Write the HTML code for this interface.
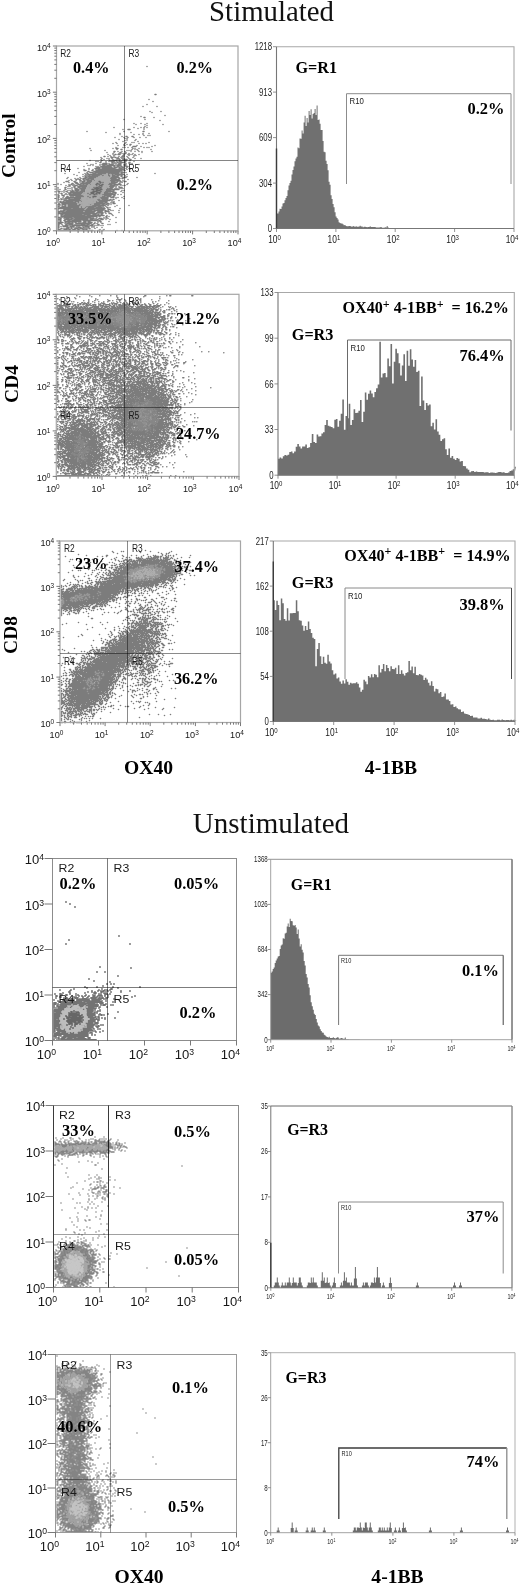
<!DOCTYPE html>
<html lang="en"><head><meta charset="utf-8"><title>OX40 / 4-1BB expression</title>
<style>html,body{margin:0;padding:0;background:#fff}svg{display:block}text{white-space:pre}</style></head><body>
<svg width="520" height="1586" viewBox="0 0 520 1586">
<rect width="520" height="1586" fill="#fff"/>
<defs><filter id="soft" x="-5%" y="-5%" width="110%" height="110%"><feGaussianBlur stdDeviation="0.38"/></filter></defs>
<text x="271.5" y="21.2" font-family='"Liberation Serif", "Times New Roman", serif' font-size="28.8" font-weight="normal" text-anchor="middle" fill="#111">Stimulated</text>
<text x="271" y="833.2" font-family='"Liberation Serif", "Times New Roman", serif' font-size="29" font-weight="normal" text-anchor="middle" fill="#111">Unstimulated</text>
<text transform="translate(14.8 145.6) rotate(-90)" font-family='"Liberation Serif", "Times New Roman", serif' font-size="19.5" font-weight="bold" text-anchor="middle" fill="#000">Control</text>
<text transform="translate(17.5 384) rotate(-90)" font-family='"Liberation Serif", "Times New Roman", serif' font-size="19.5" font-weight="bold" text-anchor="middle" fill="#000">CD4</text>
<text transform="translate(16.5 635) rotate(-90)" font-family='"Liberation Serif", "Times New Roman", serif' font-size="19.5" font-weight="bold" text-anchor="middle" fill="#000">CD8</text>
<text x="148.5" y="773.5" font-family='"Liberation Serif", "Times New Roman", serif' font-size="19.6" font-weight="bold" text-anchor="middle" fill="#000">OX40</text>
<text x="391" y="773.5" font-family='"Liberation Serif", "Times New Roman", serif' font-size="19.6" font-weight="bold" text-anchor="middle" fill="#000">4-1BB</text>
<text x="139" y="1583" font-family='"Liberation Serif", "Times New Roman", serif' font-size="19.6" font-weight="bold" text-anchor="middle" fill="#000">OX40</text>
<text x="397.5" y="1583" font-family='"Liberation Serif", "Times New Roman", serif' font-size="19.6" font-weight="bold" text-anchor="middle" fill="#000">4-1BB</text>
<g transform="translate(56.5 46)" filter="url(#soft)">
<path d="M90 20h0M98 48h1M92 53h0M96 55h0M90 58h0M86 60h0M100 60h0M93 65h0M104 65h0M95 66h0M108 69h0M84 70h0M87 71h1M97 71h0M67 73h0M88 73h0M103 74h0M77 77h0M84 77h0M90 77h0M79 78h0M88 78h0M106 78h0M90 79h0M88 80h0M57 81h0M77 81h0M84 81h0M87 81h0M90 81h0M81 82h0M87 82h0M66 83h0M71 83h2M87 83h0M30 85h0M67 85h0M86 85h1M112 85h0M49 86h0M74 86h0M63 87h0M86 87h0M92 87h0M63 88h0M77 88h0M82 88h0M86 88h0M87 89h0M91 89h0M93 89h0M65 90h0M69 90h1M75 90h1M58 91h0M67 91h0M71 91h0M77 91h0M83 91h0M89 91h0M68 92h0M70 92h0M62 93h0M70 93h0M79 93h0M68 94h0M70 94h0M78 94h0M66 95h0M81 95h0M59 96h0M69 96h0M75 96h0M77 96h0M92 96h0M56 97h0M60 97h0M68 97h0M82 97h0M86 97h0M89 97h0M67 98h0M70 98h0M73 98h1M61 99h0M67 99h1M73 99h0M80 99h0M98 99h0M76 100h3M84 100h0M95 100h0M59 101h0M66 101h0M68 101h0M71 101h0M75 101h0M87 101h0M90 101h0M92 101h0M33 102h0M56 102h0M59 102h2M76 102h0M78 102h0M82 102h0M60 103h0M64 103h1M75 103h0M78 103h0M80 103h0M94 103h0M34 104h0M48 104h0M70 104h0M72 104h0M74 104h0M81 104h0M57 105h1M61 105h0M65 105h0M68 105h0M74 105h0M78 105h0M82 105h0M85 105h0M95 105h0M50 106h0M57 106h0M63 106h1M69 106h0M85 106h0M56 107h0M62 107h0M64 107h0M66 107h0M68 107h1M72 107h0M76 107h0M51 108h0M56 108h0M58 108h1M61 108h2M67 108h0M71 108h0M73 108h0M75 108h0M78 108h0M82 108h0M53 109h0M57 109h0M66 109h1M72 109h0M77 109h0M79 109h0M47 110h1M51 110h0M54 110h0M57 110h0M62 110h0M65 110h2M70 110h0M77 110h0M44 111h0M54 111h2M58 111h1M61 111h0M64 111h0M66 111h0M71 111h0M76 111h0M45 112h0M50 112h0M52 112h0M55 112h0M60 112h2M65 112h0M67 112h0M72 112h0M78 112h0M84 112h0M44 113h0M47 113h0M52 113h0M56 113h0M60 113h0M62 113h1M66 113h4M73 113h1M33 114h0M45 114h0M53 114h0M55 114h0M57 114h3M62 114h1M65 114h0M67 114h0M69 114h0M73 114h0M39 115h0M41 115h0M44 115h0M49 115h0M52 115h0M54 115h3M60 115h0M62 115h2M68 115h1M77 115h0M43 116h1M49 116h0M55 116h1M58 116h0M60 116h1M63 116h5M72 116h1M30 117h0M39 117h0M46 117h4M52 117h0M55 117h0M57 117h0M59 117h0M62 117h2M69 117h0M72 117h1M75 117h0M34 118h0M36 118h0M43 118h0M45 118h5M52 118h4M59 118h0M61 118h3M67 118h2M82 118h0M31 119h0M33 119h0M36 119h0M43 119h0M46 119h2M50 119h8M60 119h4M67 119h2M27 120h0M39 120h0M41 120h0M44 120h10M57 120h1M60 120h2M64 120h1M67 120h0M69 120h2M40 121h3M45 121h10M57 121h3M62 121h1M65 121h2M70 121h0M21 122h0M32 122h0M38 122h5M45 122h13M62 122h3M67 122h0M69 122h0M72 122h1M9 123h0M27 123h0M32 123h0M36 123h0M39 123h0M41 123h26M70 123h0M73 123h0M27 124h2M35 124h1M39 124h26M67 124h1M31 125h1M37 125h26M65 125h0M73 125h0M77 125h0M22 126h0M30 126h0M33 126h3M38 126h24M64 126h3M69 126h0M8 127h0M28 127h0M30 127h1M36 127h3M41 127h8M51 127h11M64 127h1M98 127h0M17 128h0M26 128h0M29 128h0M31 128h14M47 128h0M49 128h0M51 128h1M55 128h1M58 128h9M70 128h0M20 129h0M28 129h0M30 129h0M32 129h1M35 129h8M45 129h2M51 129h2M55 129h3M60 129h2M64 129h1M68 129h0M26 130h0M28 130h1M31 130h10M45 130h0M49 130h0M52 130h1M55 130h6M64 130h1M68 130h0M70 130h0M11 131h0M23 131h0M28 131h2M32 131h7M41 131h0M54 131h8M66 131h3M80 131h0M10 132h0M18 132h0M21 132h0M24 132h0M26 132h3M31 132h6M39 132h0M53 132h6M62 132h1M65 132h1M14 133h0M19 133h1M22 133h1M26 133h1M29 133h3M34 133h3M54 133h8M71 133h0M12 134h0M15 134h0M19 134h0M23 134h1M27 134h1M30 134h5M37 134h1M53 134h10M66 134h0M9 135h2M17 135h1M23 135h0M25 135h3M30 135h5M54 135h4M60 135h1M63 135h1M66 135h0M68 135h1M7 136h0M12 136h0M18 136h2M23 136h0M25 136h2M29 136h5M52 136h0M54 136h6M63 136h0M65 136h0M1 137h0M15 137h1M19 137h2M24 137h9M47 137h0M52 137h6M62 137h1M71 137h0M1 138h0M4 138h0M12 138h0M14 138h1M17 138h0M21 138h3M26 138h1M29 138h2M33 138h1M51 138h4M57 138h7M70 138h0M9 139h0M12 139h1M16 139h0M18 139h2M23 139h7M53 139h5M60 139h0M64 139h0M66 139h0M68 139h0M11 140h0M13 140h0M17 140h1M21 140h9M32 140h0M49 140h0M52 140h5M59 140h0M62 140h0M1 141h0M8 141h1M15 141h0M17 141h1M21 141h2M25 141h4M33 141h0M50 141h0M53 141h3M59 141h0M62 141h3M1 142h0M8 142h0M11 142h0M13 142h0M15 142h0M18 142h2M23 142h6M32 142h0M45 142h0M50 142h5M58 142h0M60 142h0M62 142h0M64 142h0M66 142h0M1 143h0M3 143h0M8 143h1M15 143h0M18 143h4M24 143h4M49 143h13M1 144h0M7 144h0M11 144h0M13 144h0M15 144h1M18 144h4M24 144h4M49 144h5M56 144h1M65 144h0M67 144h0M1 145h2M5 145h0M7 145h0M9 145h1M14 145h3M19 145h2M23 145h5M48 145h9M64 145h0M2 146h0M7 146h0M11 146h0M13 146h13M28 146h0M47 146h4M53 146h0M56 146h3M66 146h0M2 147h0M4 147h1M9 147h0M12 147h2M16 147h9M27 147h0M47 147h9M58 147h1M1 148h0M5 148h0M8 148h0M10 148h0M12 148h12M27 148h0M45 148h13M61 148h0M64 148h0M1 149h1M5 149h2M13 149h13M45 149h0M47 149h7M57 149h1M1 150h1M7 150h0M10 150h1M14 150h0M16 150h0M19 150h8M42 150h0M45 150h3M50 150h4M56 150h1M67 150h0M1 151h1M6 151h0M9 151h15M26 151h0M43 151h8M54 151h3M59 151h0M61 151h0M65 151h0M1 152h0M4 152h0M6 152h0M8 152h5M15 152h0M17 152h7M29 152h0M31 152h0M42 152h0M44 152h7M59 152h0M67 152h0M1 153h1M4 153h1M7 153h0M9 153h0M12 153h11M25 153h0M27 153h0M30 153h0M40 153h3M45 153h6M53 153h1M56 153h1M1 154h0M7 154h17M37 154h0M41 154h12M55 154h0M62 154h0M1 155h0M3 155h1M6 155h1M9 155h7M18 155h4M24 155h1M36 155h0M39 155h1M42 155h8M55 155h0M57 155h0M1 156h0M3 156h16M21 156h1M36 156h0M39 156h7M48 156h2M54 156h0M56 156h1M2 157h0M5 157h15M22 157h0M25 157h0M32 157h0M35 157h0M37 157h11M50 157h2M54 157h0M56 157h2M1 158h2M5 158h4M11 158h9M22 158h2M26 158h0M31 158h0M33 158h1M37 158h6M45 158h2M49 158h1M52 158h0M54 158h0M1 159h0M3 159h0M5 159h0M8 159h1M11 159h12M33 159h0M35 159h13M51 159h0M60 159h0M72 159h0M1 160h1M5 160h4M11 160h11M24 160h1M29 160h10M41 160h3M46 160h0M49 160h0M58 160h0M1 161h0M3 161h19M24 161h1M28 161h1M31 161h6M39 161h6M47 161h0M50 161h1M53 161h0M1 162h13M16 162h12M30 162h18M51 162h0M63 162h0M1 163h0M7 163h20M29 163h9M40 163h7M51 163h2M1 164h0M4 164h0M6 164h2M10 164h25M37 164h9M48 164h1M51 164h0M54 164h0M56 164h0M62 164h0M1 165h6M9 165h17M28 165h10M41 165h4M48 165h4M1 166h2M5 166h32M40 166h6M48 166h0M52 166h0M62 166h0M1 167h39M42 167h0M44 167h2M49 167h0M52 167h2M1 168h0M4 168h2M8 168h17M27 168h6M36 168h3M41 168h1M44 168h1M55 168h0M1 169h0M4 169h1M7 169h21M30 169h17M50 169h0M56 169h0M1 170h0M4 170h36M42 170h1M49 170h1M52 170h0M1 171h2M5 171h0M7 171h8M17 171h17M36 171h0M40 171h0M47 171h0M49 171h1M59 171h0M1 172h0M3 172h1M7 172h0M9 172h3M14 172h2M18 172h13M33 172h4M39 172h0M42 172h3M47 172h0M49 172h0M51 172h0M1 173h3M8 173h7M17 173h14M33 173h3M38 173h0M40 173h1M44 173h2M49 173h0M53 173h0M1 174h0M3 174h1M7 174h1M11 174h2M15 174h9M26 174h14M42 174h1M1 175h0M3 175h1M8 175h16M27 175h2M31 175h2M41 175h0M43 175h1M52 175h0M1 176h5M8 176h1M11 176h2M15 176h1M18 176h1M22 176h0M24 176h0M26 176h3M31 176h4M38 176h0M41 176h0M44 176h0M59 176h0M1 177h3M8 177h0M10 177h6M19 177h15M37 177h1M40 177h0M45 177h1M1 178h1M5 178h0M9 178h1M12 178h4M18 178h0M20 178h0M22 178h0M24 178h4M30 178h2M35 178h1M41 178h1M51 178h0M53 178h0M1 179h1M6 179h0M8 179h3M13 179h0M15 179h16M33 179h3M38 179h0M40 179h0M42 179h0M44 179h0M46 179h0M1 180h1M4 180h0M6 180h5M13 180h4M20 180h0M22 180h0M26 180h0M28 180h4M35 180h0M37 180h0M1 181h1M10 181h2M14 181h1M17 181h0M19 181h0M21 181h3M26 181h1M29 181h0M31 181h1M35 181h0M37 181h0M40 181h0M45 181h0M1 182h0M4 182h1M7 182h0M9 182h3M14 182h1M18 182h3M23 182h3M28 182h0M30 182h0M32 182h1M38 182h0M1 183h2M7 183h3M12 183h1M16 183h2M21 183h1M26 183h1M29 183h1M43 183h0M47 183h0M1 184h35M41 184h1M45 184h1M60 184h0M65 184h0" stroke="#7b7b7b" stroke-width="1.5" stroke-linecap="round" fill="none" transform="translate(0.5 0.5)"/>
<path d="M50 127h0M46 128h0M48 128h0M50 128h0M53 128h1M44 129h0M48 129h2M54 129h0M42 130h2M46 130h2M50 130h1M54 130h0M40 131h0M42 131h11M38 132h0M40 132h12M38 133h15M36 134h0M39 134h13M36 135h5M44 135h9M35 136h7M45 136h0M47 136h4M53 136h0M34 137h5M42 137h0M44 137h2M48 137h3M32 138h0M35 138h3M41 138h0M43 138h1M47 138h3M31 139h8M41 139h1M46 139h6M31 140h0M33 140h8M43 140h1M46 140h2M50 140h1M30 141h2M34 141h2M38 141h0M42 141h0M45 141h4M51 141h1M30 142h1M33 142h4M43 142h0M46 142h3M29 143h5M38 143h0M42 143h0M46 143h2M29 144h7M38 144h0M44 144h4M29 145h6M41 145h2M45 145h2M27 146h0M29 146h4M38 146h1M44 146h2M26 147h0M28 147h2M32 147h1M38 147h0M41 147h0M44 147h2M25 148h1M28 148h4M34 148h2M39 148h0M41 148h3M27 149h17M46 149h0M28 150h2M32 150h3M40 150h1M43 150h1M25 151h0M27 151h5M34 151h1M37 151h5M25 152h3M30 152h0M32 152h9M43 152h0M24 153h0M26 153h0M28 153h1M31 153h8M44 153h0M25 154h11M38 154h2M23 155h0M26 155h9M37 155h1M41 155h0M20 156h0M23 156h12M37 156h1M21 157h0M23 157h1M26 157h5M33 157h1M36 157h0M21 158h0M25 158h0M27 158h3M32 158h0M35 158h1M24 159h8M34 159h0M23 160h0M26 160h2M23 161h0M26 161h1M30 161h0M29 162h0M28 163h0M27 165h0" stroke="#ababab" stroke-width="1.5" stroke-linecap="round" fill="none" transform="translate(0.5 0.5)"/>
<path d="M42 135h1M43 136h1M46 136h0M40 137h1M43 137h0M39 138h1M42 138h0M45 138h1M40 139h0M43 139h2M42 140h0M45 140h0M37 141h0M39 141h2M43 141h1M38 142h4M44 142h0M35 143h2M39 143h2M43 143h2M37 144h0M39 144h4M36 145h4M44 145h0M34 146h3M40 146h3M31 147h0M34 147h3M39 147h1M42 147h1M33 148h0M37 148h1M40 148h0M31 150h0M36 150h3M33 151h0M36 151h0" stroke="#6a6a6a" stroke-width="1.5" stroke-linecap="round" fill="none" transform="translate(0.5 0.5)"/>
</g>
<rect x="56.5" y="46" width="181.5" height="184.8" fill="none" stroke="#a6a6a6" stroke-width="1.2"/>
<path d="M56.5 160.5H238" stroke="#858585" stroke-width="1.0" fill="none" style="mix-blend-mode:multiply"/>
<path d="M124.5 46V230.8" stroke="#858585" stroke-width="1.0" fill="none" style="mix-blend-mode:multiply"/>
<path d="M56.5 230.8v3.6M56.5 230.8h-3.6M70.2 230.8v2.2M56.5 216.9h-2.2M78.1 230.8v2.2M56.5 208.8h-2.2M83.8 230.8v2.2M56.5 203h-2.2M88.2 230.8v2.2M56.5 198.5h-2.2M91.8 230.8v2.2M56.5 194.8h-2.2M94.8 230.8v2.2M56.5 191.8h-2.2M97.5 230.8v2.2M56.5 189.1h-2.2M99.8 230.8v2.2M56.5 186.7h-2.2M101.9 230.8v3.6M56.5 184.6h-3.6M115.5 230.8v2.2M56.5 170.7h-2.2M123.5 230.8v2.2M56.5 162.6h-2.2M129.2 230.8v2.2M56.5 156.8h-2.2M133.6 230.8v2.2M56.5 152.3h-2.2M137.2 230.8v2.2M56.5 148.6h-2.2M140.2 230.8v2.2M56.5 145.6h-2.2M142.9 230.8v2.2M56.5 142.9h-2.2M145.2 230.8v2.2M56.5 140.5h-2.2M147.2 230.8v3.6M56.5 138.4h-3.6M160.9 230.8v2.2M56.5 124.5h-2.2M168.9 230.8v2.2M56.5 116.4h-2.2M174.6 230.8v2.2M56.5 110.6h-2.2M179 230.8v2.2M56.5 106.1h-2.2M182.6 230.8v2.2M56.5 102.4h-2.2M185.6 230.8v2.2M56.5 99.4h-2.2M188.2 230.8v2.2M56.5 96.7h-2.2M190.5 230.8v2.2M56.5 94.3h-2.2M192.6 230.8v3.6M56.5 92.2h-3.6M206.3 230.8v2.2M56.5 78.3h-2.2M214.3 230.8v2.2M56.5 70.2h-2.2M219.9 230.8v2.2M56.5 64.4h-2.2M224.3 230.8v2.2M56.5 59.9h-2.2M227.9 230.8v2.2M56.5 56.2h-2.2M231 230.8v2.2M56.5 53.2h-2.2M233.6 230.8v2.2M56.5 50.5h-2.2M235.9 230.8v2.2M56.5 48.1h-2.2M238 230.8v3.6M56.5 46h-3.6" stroke="#6a6a6a" stroke-width="0.9" fill="none"/>
<text transform="translate(53 246.1) scale(0.93 1)" font-family='"Liberation Sans", Arial, sans-serif' font-size="9.8" text-anchor="middle" fill="#161616">10<tspan font-size="7" dy="-2.9">0</tspan></text>
<text transform="translate(50.7 235.3) scale(0.93 1)" font-family='"Liberation Sans", Arial, sans-serif' font-size="9.8" text-anchor="end" fill="#161616">10<tspan font-size="7" dy="-2.9">0</tspan></text>
<text transform="translate(98.4 246.1) scale(0.93 1)" font-family='"Liberation Sans", Arial, sans-serif' font-size="9.8" text-anchor="middle" fill="#161616">10<tspan font-size="7" dy="-2.9">1</tspan></text>
<text transform="translate(50.7 189.1) scale(0.93 1)" font-family='"Liberation Sans", Arial, sans-serif' font-size="9.8" text-anchor="end" fill="#161616">10<tspan font-size="7" dy="-2.9">1</tspan></text>
<text transform="translate(143.8 246.1) scale(0.93 1)" font-family='"Liberation Sans", Arial, sans-serif' font-size="9.8" text-anchor="middle" fill="#161616">10<tspan font-size="7" dy="-2.9">2</tspan></text>
<text transform="translate(50.7 142.9) scale(0.93 1)" font-family='"Liberation Sans", Arial, sans-serif' font-size="9.8" text-anchor="end" fill="#161616">10<tspan font-size="7" dy="-2.9">2</tspan></text>
<text transform="translate(189.1 246.1) scale(0.93 1)" font-family='"Liberation Sans", Arial, sans-serif' font-size="9.8" text-anchor="middle" fill="#161616">10<tspan font-size="7" dy="-2.9">3</tspan></text>
<text transform="translate(50.7 96.7) scale(0.93 1)" font-family='"Liberation Sans", Arial, sans-serif' font-size="9.8" text-anchor="end" fill="#161616">10<tspan font-size="7" dy="-2.9">3</tspan></text>
<text transform="translate(234.5 246.1) scale(0.93 1)" font-family='"Liberation Sans", Arial, sans-serif' font-size="9.8" text-anchor="middle" fill="#161616">10<tspan font-size="7" dy="-2.9">4</tspan></text>
<text transform="translate(50.7 50.5) scale(0.93 1)" font-family='"Liberation Sans", Arial, sans-serif' font-size="9.8" text-anchor="end" fill="#161616">10<tspan font-size="7" dy="-2.9">4</tspan></text>
<text transform="translate(60.3 57.3) scale(0.8 1)" font-family='"Liberation Sans", Arial, sans-serif' font-size="10.5" font-weight="normal" text-anchor="start" fill="#1a1a1a">R2</text>
<text transform="translate(128.5 57.3) scale(0.8 1)" font-family='"Liberation Sans", Arial, sans-serif' font-size="10.5" font-weight="normal" text-anchor="start" fill="#1a1a1a">R3</text>
<text transform="translate(60.3 172) scale(0.8 1)" font-family='"Liberation Sans", Arial, sans-serif' font-size="10.5" font-weight="normal" text-anchor="start" fill="#1a1a1a">R4</text>
<text transform="translate(128.5 172) scale(0.8 1)" font-family='"Liberation Sans", Arial, sans-serif' font-size="10.5" font-weight="normal" text-anchor="start" fill="#1a1a1a">R5</text>
<text x="73" y="73.3" font-family='"Liberation Serif", "Times New Roman", serif' font-size="16.2" font-weight="bold" text-anchor="start" fill="#000">0.4%</text>
<text x="176.5" y="73.3" font-family='"Liberation Serif", "Times New Roman", serif' font-size="16.2" font-weight="bold" text-anchor="start" fill="#000">0.2%</text>
<text x="176.5" y="189.5" font-family='"Liberation Serif", "Times New Roman", serif' font-size="16.2" font-weight="bold" text-anchor="start" fill="#000">0.2%</text>
<g transform="translate(56.3 294.3)" filter="url(#soft)">
<path d="M20 1h0M33 1h0M43 1h0M54 1h0M60 1h0M88 1h1M110 1h0M113 1h1M135 1h1M10 2h0M23 2h0M35 2h0M60 2h0M87 2h0M103 2h0M18 3h0M61 3h0M74 3h0M1 4h0M19 4h0M39 4h0M61 4h0M65 4h0M84 4h0M103 4h0M3 5h0M32 5h0M39 5h0M41 5h0M51 5h0M60 5h0M62 5h2M68 5h0M79 5h0M83 5h1M95 5h0M9 6h0M13 6h0M27 6h0M32 6h0M38 6h0M52 6h1M56 6h0M63 6h0M69 6h0M76 6h1M84 6h0M102 6h0M112 6h0M6 7h0M10 7h0M15 7h0M17 7h0M32 7h0M36 7h0M42 7h0M47 7h0M51 7h0M60 7h0M63 7h0M69 7h0M75 7h1M79 7h0M84 7h0M96 7h0M99 7h0M7 8h1M21 8h0M25 8h1M28 8h0M31 8h1M38 8h0M45 8h0M47 8h0M55 8h0M57 8h0M61 8h0M64 8h0M67 8h0M70 8h0M77 8h1M81 8h0M84 8h0M96 8h0M110 8h0M1 9h0M9 9h2M13 9h1M16 9h0M23 9h1M27 9h3M32 9h0M34 9h0M42 9h0M44 9h0M46 9h2M53 9h0M55 9h1M58 9h2M66 9h2M70 9h1M73 9h0M76 9h0M78 9h0M80 9h0M82 9h0M88 9h0M92 9h0M97 9h0M101 9h0M112 9h0M3 10h0M7 10h0M10 10h0M12 10h1M16 10h0M18 10h1M21 10h1M24 10h0M26 10h1M30 10h1M33 10h0M36 10h3M42 10h2M47 10h0M49 10h4M56 10h0M58 10h0M60 10h0M62 10h2M66 10h6M77 10h0M80 10h0M83 10h0M85 10h1M88 10h1M93 10h1M100 10h0M104 10h0M108 10h0M1 11h10M17 11h2M21 11h1M29 11h3M34 11h1M37 11h0M39 11h0M42 11h0M44 11h3M49 11h0M53 11h1M57 11h1M60 11h0M62 11h8M72 11h1M77 11h0M81 11h0M84 11h1M89 11h1M93 11h1M97 11h2M101 11h2M1 12h0M3 12h2M9 12h1M12 12h1M15 12h1M19 12h1M22 12h0M24 12h1M27 12h1M30 12h0M36 12h6M44 12h0M46 12h0M48 12h4M55 12h3M60 12h1M63 12h5M70 12h1M73 12h3M79 12h0M81 12h7M90 12h8M100 12h2M106 12h0M112 12h0M114 12h0M119 12h0M1 13h0M3 13h3M9 13h0M11 13h0M15 13h1M18 13h3M23 13h3M28 13h1M31 13h0M33 13h3M38 13h4M45 13h1M48 13h2M53 13h0M55 13h4M61 13h11M75 13h1M80 13h3M85 13h6M93 13h0M96 13h1M99 13h1M104 13h0M113 13h0M116 13h0M1 14h6M9 14h0M11 14h9M22 14h2M26 14h8M37 14h8M47 14h1M51 14h1M54 14h21M77 14h11M90 14h2M94 14h1M97 14h1M102 14h0M115 14h0M117 14h0M1 15h2M5 15h10M17 15h0M20 15h0M22 15h5M29 15h11M42 15h11M55 15h1M58 15h4M64 15h0M68 15h5M75 15h1M78 15h8M88 15h2M93 15h0M95 15h2M99 15h2M104 15h0M110 15h0M112 15h1M117 15h0M120 15h0M1 16h2M5 16h9M16 16h10M28 16h13M43 16h17M62 16h0M65 16h1M70 16h4M76 16h16M94 16h2M99 16h2M104 16h0M107 16h1M118 16h0M1 17h0M3 17h0M5 17h1M9 17h1M12 17h15M30 17h4M36 17h5M43 17h3M48 17h1M51 17h11M70 17h4M76 17h0M78 17h1M81 17h10M93 17h1M96 17h1M99 17h0M103 17h0M106 17h0M108 17h0M115 17h0M120 17h0M1 18h10M13 18h18M33 18h19M54 18h2M59 18h0M61 18h0M67 18h0M69 18h1M72 18h5M81 18h0M83 18h1M86 18h0M88 18h8M98 18h5M107 18h1M1 19h5M8 19h7M17 19h5M24 19h0M27 19h2M31 19h13M46 19h1M49 19h6M58 19h0M60 19h0M71 19h0M73 19h0M75 19h1M78 19h1M82 19h0M84 19h12M98 19h1M101 19h1M104 19h0M112 19h1M115 19h1M118 19h0M128 19h0M1 20h3M6 20h1M10 20h2M17 20h0M19 20h0M21 20h5M28 20h1M31 20h3M37 20h2M41 20h4M48 20h2M52 20h2M56 20h0M59 20h0M75 20h0M78 20h1M82 20h0M84 20h2M89 20h4M95 20h2M99 20h5M111 20h0M1 21h4M9 21h1M17 21h0M19 21h0M24 21h0M26 21h0M28 21h0M30 21h3M35 21h2M39 21h0M41 21h0M43 21h2M47 21h1M50 21h1M54 21h0M57 21h0M75 21h0M77 21h0M80 21h0M83 21h0M87 21h2M91 21h5M98 21h3M103 21h0M107 21h1M111 21h1M1 22h0M3 22h0M12 22h0M17 22h0M19 22h1M26 22h0M28 22h0M30 22h0M32 22h2M36 22h3M43 22h0M45 22h0M48 22h0M50 22h0M53 22h0M56 22h0M66 22h0M71 22h0M74 22h0M77 22h0M79 22h0M82 22h0M87 22h1M90 22h11M104 22h4M111 22h0M115 22h0M1 23h0M5 23h4M14 23h2M24 23h0M27 23h0M29 23h1M32 23h0M34 23h1M37 23h1M40 23h0M43 23h0M45 23h1M49 23h0M51 23h1M54 23h0M56 23h0M59 23h0M62 23h0M81 23h0M90 23h6M99 23h4M105 23h3M114 23h1M119 23h0M1 24h0M3 24h0M7 24h0M12 24h1M15 24h1M19 24h0M26 24h0M31 24h1M34 24h4M43 24h0M45 24h1M51 24h1M75 24h0M77 24h1M84 24h0M88 24h0M90 24h9M102 24h0M105 24h1M108 24h1M111 24h0M114 24h0M133 24h0M1 25h0M4 25h0M8 25h0M11 25h0M26 25h4M34 25h0M36 25h1M39 25h1M45 25h1M49 25h0M51 25h0M80 25h0M82 25h0M90 25h10M103 25h5M121 25h0M2 26h0M4 26h0M8 26h1M13 26h0M20 26h0M25 26h1M31 26h0M33 26h5M43 26h0M48 26h0M56 26h0M84 26h0M86 26h0M89 26h16M107 26h0M112 26h0M114 26h0M116 26h0M120 26h0M129 26h0M3 27h1M6 27h1M10 27h1M13 27h0M15 27h1M19 27h0M21 27h0M25 27h1M29 27h0M31 27h0M34 27h5M41 27h2M45 27h0M51 27h1M56 27h0M79 27h1M88 27h2M92 27h1M95 27h10M107 27h0M109 27h0M111 27h0M120 27h0M1 28h2M6 28h3M11 28h0M13 28h1M16 28h2M22 28h1M25 28h0M28 28h2M32 28h0M35 28h6M45 28h1M48 28h0M50 28h0M52 28h0M77 28h0M80 28h3M88 28h3M93 28h3M98 28h3M103 28h0M107 28h1M110 28h1M121 28h0M129 28h0M1 29h2M5 29h2M9 29h2M14 29h0M16 29h2M26 29h14M46 29h3M52 29h1M55 29h1M63 29h0M72 29h2M76 29h0M79 29h3M84 29h16M102 29h1M108 29h1M115 29h0M120 29h0M1 30h4M7 30h13M22 30h0M24 30h1M27 30h3M32 30h8M42 30h5M49 30h2M53 30h1M56 30h0M74 30h2M78 30h4M84 30h1M88 30h2M92 30h8M102 30h0M104 30h0M106 30h1M111 30h0M116 30h0M118 30h0M126 30h0M1 31h1M4 31h1M8 31h5M15 31h6M23 31h5M31 31h9M42 31h2M46 31h4M52 31h7M61 31h0M65 31h0M74 31h1M78 31h0M80 31h5M87 31h2M91 31h4M98 31h5M106 31h0M108 31h0M1 32h14M17 32h2M21 32h9M32 32h25M60 32h2M64 32h0M67 32h0M69 32h0M75 32h7M85 32h11M98 32h1M102 32h1M107 32h0M109 32h0M114 32h0M116 32h1M1 33h4M7 33h9M18 33h3M23 33h0M25 33h1M28 33h34M65 33h2M69 33h0M74 33h7M83 33h9M94 33h1M97 33h2M101 33h2M106 33h0M109 33h1M120 33h0M1 34h0M3 34h11M16 34h2M21 34h5M28 34h2M32 34h8M42 34h7M51 34h36M90 34h5M98 34h0M100 34h0M105 34h0M109 34h0M1 35h0M3 35h4M9 35h1M12 35h1M15 35h2M19 35h5M26 35h5M34 35h0M38 35h4M45 35h5M52 35h0M54 35h5M61 35h9M73 35h11M86 35h10M98 35h0M100 35h0M106 35h0M109 35h1M113 35h0M1 36h0M4 36h0M6 36h1M9 36h1M12 36h6M20 36h12M35 36h3M40 36h0M42 36h3M47 36h1M51 36h5M58 36h0M60 36h1M63 36h1M66 36h12M80 36h1M83 36h2M87 36h0M89 36h4M95 36h0M97 36h1M100 36h2M105 36h0M113 36h0M2 37h0M5 37h4M11 37h6M19 37h0M22 37h0M24 37h0M26 37h5M34 37h0M36 37h1M39 37h3M44 37h1M48 37h7M59 37h0M61 37h6M69 37h4M75 37h6M83 37h1M86 37h2M90 37h0M92 37h3M97 37h0M101 37h0M105 37h0M108 37h0M1 38h0M4 38h1M8 38h0M10 38h0M12 38h1M15 38h3M20 38h3M27 38h2M31 38h0M33 38h5M40 38h3M45 38h5M54 38h0M57 38h7M66 38h5M73 38h0M75 38h5M82 38h3M87 38h0M91 38h1M94 38h0M97 38h0M99 38h1M102 38h2M109 38h1M119 38h0M2 39h0M8 39h1M13 39h0M16 39h0M20 39h1M23 39h0M25 39h0M27 39h0M32 39h0M35 39h0M38 39h1M41 39h0M43 39h0M47 39h0M49 39h0M52 39h4M58 39h1M62 39h1M65 39h0M67 39h13M82 39h5M90 39h3M99 39h1M102 39h0M104 39h2M110 39h0M114 39h0M122 39h0M2 40h0M4 40h0M6 40h0M8 40h5M18 40h0M20 40h1M23 40h0M25 40h0M27 40h1M31 40h0M33 40h2M37 40h0M41 40h1M44 40h0M46 40h6M54 40h4M61 40h0M64 40h3M69 40h6M77 40h0M79 40h1M85 40h0M87 40h4M93 40h0M103 40h1M107 40h1M113 40h0M119 40h0M3 41h0M8 41h0M11 41h2M15 41h0M21 41h2M30 41h0M33 41h2M42 41h0M44 41h0M48 41h0M53 41h2M58 41h1M63 41h2M69 41h0M71 41h0M73 41h0M76 41h1M79 41h0M81 41h0M88 41h2M95 41h1M122 41h0M1 42h0M4 42h0M6 42h0M11 42h0M14 42h0M23 42h2M31 42h0M34 42h0M36 42h0M39 42h0M45 42h1M50 42h0M52 42h0M54 42h0M56 42h0M58 42h0M62 42h2M67 42h1M72 42h4M78 42h1M82 42h0M89 42h0M96 42h0M107 42h0M1 43h0M7 43h0M13 43h0M17 43h0M21 43h1M27 43h1M30 43h0M33 43h0M35 43h3M40 43h1M43 43h5M50 43h0M52 43h0M54 43h0M57 43h0M59 43h0M64 43h4M70 43h0M74 43h0M76 43h0M78 43h0M80 43h0M83 43h0M89 43h0M93 43h0M98 43h0M100 43h0M105 43h0M113 43h0M117 43h0M1 44h0M15 44h3M22 44h2M27 44h0M31 44h1M35 44h0M40 44h3M47 44h0M50 44h0M52 44h0M56 44h0M59 44h0M62 44h0M64 44h3M73 44h0M78 44h0M84 44h0M91 44h0M93 44h0M95 44h0M97 44h1M100 44h0M103 44h0M108 44h0M113 44h0M1 45h1M5 45h1M14 45h0M16 45h0M23 45h0M33 45h1M50 45h1M59 45h1M62 45h1M66 45h0M68 45h0M70 45h0M75 45h1M78 45h1M81 45h0M83 45h0M86 45h0M93 45h0M97 45h0M99 45h0M105 45h0M108 45h0M115 45h0M126 45h0M2 46h0M5 46h0M7 46h0M9 46h0M15 46h0M18 46h0M25 46h0M27 46h0M31 46h0M34 46h2M39 46h1M48 46h0M51 46h1M57 46h2M61 46h0M66 46h1M70 46h0M72 46h2M79 46h0M84 46h0M86 46h1M94 46h1M97 46h0M103 46h0M109 46h0M5 47h1M13 47h0M15 47h1M19 47h0M22 47h1M26 47h0M29 47h0M31 47h0M34 47h0M38 47h0M42 47h3M47 47h0M49 47h1M53 47h0M55 47h0M59 47h1M62 47h0M64 47h1M67 47h0M69 47h0M72 47h1M81 47h1M84 47h0M86 47h0M88 47h1M92 47h0M94 47h1M97 47h0M100 47h1M112 47h1M116 47h0M124 47h0M1 48h1M11 48h0M17 48h0M19 48h2M25 48h0M28 48h0M30 48h1M36 48h0M38 48h0M43 48h0M46 48h1M51 48h1M59 48h1M63 48h0M69 48h1M72 48h0M74 48h0M76 48h0M81 48h0M84 48h0M91 48h1M96 48h1M107 48h0M113 48h0M120 48h0M139 48h0M5 49h1M9 49h3M16 49h0M20 49h0M22 49h0M24 49h0M27 49h4M34 49h3M40 49h2M44 49h4M51 49h0M55 49h4M63 49h0M65 49h1M68 49h1M73 49h0M76 49h0M81 49h1M84 49h0M87 49h1M90 49h0M98 49h0M100 49h1M103 49h0M105 49h0M107 49h1M114 49h0M14 50h1M26 50h2M31 50h0M36 50h0M38 50h0M43 50h1M47 50h0M49 50h1M56 50h0M58 50h1M61 50h0M64 50h0M66 50h0M69 50h0M73 50h1M80 50h0M82 50h0M89 50h1M98 50h0M100 50h0M126 50h0M6 51h0M14 51h1M23 51h7M32 51h0M34 51h1M39 51h0M42 51h3M47 51h0M50 51h0M52 51h0M56 51h0M58 51h2M63 51h1M68 51h0M71 51h2M75 51h0M77 51h0M80 51h2M84 51h0M87 51h0M91 51h2M98 51h0M100 51h1M103 51h1M106 51h0M9 52h0M11 52h0M14 52h0M16 52h0M22 52h0M24 52h1M27 52h1M31 52h0M38 52h1M48 52h3M54 52h0M57 52h0M59 52h0M61 52h0M64 52h3M71 52h0M73 52h4M81 52h1M85 52h0M88 52h0M95 52h0M98 52h0M103 52h1M112 52h0M123 52h0M143 52h0M1 53h0M9 53h1M14 53h1M17 53h0M21 53h0M24 53h1M30 53h0M36 53h1M39 53h2M43 53h0M47 53h0M51 53h1M56 53h0M59 53h2M66 53h0M68 53h0M72 53h3M77 53h0M79 53h0M81 53h1M88 53h0M91 53h1M98 53h0M102 53h0M107 53h0M109 53h0M115 53h0M123 53h0M6 54h0M8 54h0M10 54h2M14 54h0M20 54h1M27 54h0M30 54h4M37 54h0M42 54h3M47 54h0M49 54h0M51 54h1M55 54h0M57 54h1M61 54h0M65 54h0M67 54h0M70 54h0M72 54h2M77 54h1M83 54h0M85 54h0M87 54h0M89 54h0M92 54h2M3 55h0M8 55h0M11 55h2M17 55h3M23 55h0M27 55h0M31 55h0M33 55h1M40 55h1M44 55h2M53 55h0M55 55h0M57 55h2M61 55h0M63 55h0M67 55h0M69 55h0M74 55h0M78 55h1M81 55h0M90 55h0M95 55h0M99 55h0M102 55h1M120 55h0M1 56h0M7 56h0M14 56h0M20 56h0M25 56h0M29 56h1M32 56h0M35 56h1M38 56h0M41 56h1M46 56h2M50 56h0M53 56h0M58 56h0M60 56h0M64 56h0M66 56h0M70 56h0M73 56h0M79 56h1M82 56h1M90 56h0M92 56h0M99 56h0M101 56h0M116 56h0M121 56h0M1 57h0M16 57h0M26 57h4M32 57h0M34 57h0M38 57h0M40 57h4M46 57h1M49 57h0M51 57h0M53 57h0M57 57h2M61 57h1M64 57h1M67 57h0M73 57h1M77 57h1M81 57h0M84 57h0M88 57h0M90 57h0M95 57h0M97 57h1M101 57h0M114 57h0M123 57h0M145 57h0M152 57h0M1 58h0M6 58h1M9 58h2M16 58h0M19 58h0M22 58h1M25 58h0M31 58h3M36 58h1M39 58h0M42 58h0M44 58h0M46 58h1M49 58h1M52 58h2M56 58h1M59 58h1M62 58h1M66 58h0M68 58h0M74 58h0M76 58h0M80 58h0M82 58h0M84 58h0M90 58h1M96 58h0M98 58h0M101 58h0M104 58h0M106 58h0M115 58h1M122 58h0M126 58h0M167 58h0M7 59h0M10 59h1M13 59h0M17 59h1M21 59h3M26 59h2M33 59h0M36 59h1M39 59h3M44 59h0M46 59h1M49 59h1M54 59h1M60 59h1M63 59h0M66 59h0M68 59h3M74 59h0M83 59h0M86 59h1M92 59h0M98 59h1M101 59h0M106 59h0M3 60h0M10 60h0M13 60h0M15 60h3M21 60h0M23 60h0M34 60h0M36 60h0M38 60h0M41 60h0M47 60h0M49 60h0M52 60h0M55 60h1M58 60h3M63 60h0M65 60h0M67 60h1M70 60h2M74 60h1M78 60h1M82 60h0M88 60h0M90 60h0M96 60h0M99 60h1M102 60h1M105 60h0M110 60h0M122 60h0M125 60h0M6 61h1M13 61h0M19 61h0M27 61h0M38 61h2M44 61h1M49 61h2M53 61h0M55 61h0M57 61h1M60 61h2M65 61h1M68 61h0M74 61h0M80 61h0M83 61h0M85 61h0M91 61h2M98 61h0M104 61h0M107 61h0M112 61h0M117 61h1M1 62h0M5 62h0M7 62h0M9 62h0M15 62h2M24 62h3M29 62h1M32 62h3M37 62h0M40 62h0M42 62h0M47 62h0M50 62h1M54 62h0M56 62h1M59 62h0M62 62h0M64 62h0M67 62h0M69 62h1M72 62h1M76 62h0M79 62h0M81 62h1M85 62h0M87 62h0M89 62h1M92 62h0M94 62h0M96 62h0M101 62h0M2 63h1M5 63h0M7 63h0M16 63h0M22 63h0M25 63h1M28 63h1M31 63h0M33 63h2M37 63h5M46 63h4M54 63h1M60 63h0M62 63h1M72 63h0M74 63h0M76 63h0M78 63h0M81 63h0M85 63h2M92 63h0M94 63h0M97 63h1M101 63h0M105 63h4M111 63h0M118 63h0M1 64h0M5 64h0M8 64h0M11 64h0M15 64h0M17 64h0M19 64h0M21 64h0M23 64h0M27 64h0M32 64h0M34 64h0M36 64h0M39 64h2M43 64h2M47 64h1M50 64h0M54 64h1M59 64h0M62 64h2M66 64h3M71 64h1M76 64h0M82 64h1M91 64h0M98 64h0M100 64h0M106 64h0M120 64h0M6 65h0M9 65h0M17 65h0M19 65h0M21 65h2M28 65h0M32 65h0M34 65h0M37 65h0M39 65h1M43 65h0M47 65h0M49 65h0M52 65h0M54 65h1M57 65h1M62 65h0M64 65h0M66 65h0M69 65h0M73 65h1M76 65h1M79 65h0M83 65h0M85 65h0M91 65h1M102 65h0M107 65h0M109 65h1M122 65h0M136 65h0M1 66h0M7 66h0M10 66h0M14 66h1M17 66h1M20 66h2M24 66h1M30 66h1M34 66h0M36 66h4M42 66h1M49 66h2M53 66h1M57 66h2M61 66h0M64 66h0M69 66h1M72 66h2M76 66h0M78 66h2M83 66h0M87 66h2M91 66h0M94 66h0M99 66h0M102 66h0M109 66h0M111 66h0M117 66h0M119 66h0M7 67h0M12 67h1M15 67h0M23 67h2M27 67h1M30 67h1M33 67h1M36 67h0M38 67h0M41 67h1M44 67h0M47 67h1M50 67h1M53 67h1M56 67h1M59 67h2M63 67h1M66 67h0M68 67h0M70 67h0M72 67h2M78 67h1M81 67h1M85 67h3M90 67h1M94 67h1M98 67h0M102 67h0M109 67h0M114 67h0M129 67h0M1 68h0M5 68h0M7 68h0M11 68h0M16 68h0M18 68h0M21 68h0M23 68h0M25 68h0M27 68h0M29 68h2M34 68h0M36 68h0M38 68h0M41 68h1M45 68h0M47 68h1M50 68h0M52 68h1M59 68h1M63 68h0M65 68h3M71 68h0M74 68h0M78 68h1M83 68h0M86 68h1M94 68h0M99 68h0M101 68h0M106 68h2M110 68h0M114 68h0M120 68h0M122 68h0M127 68h1M1 69h0M6 69h1M15 69h0M20 69h0M25 69h1M28 69h0M30 69h1M33 69h0M35 69h0M39 69h0M41 69h0M46 69h1M50 69h2M55 69h0M57 69h0M60 69h0M62 69h0M65 69h0M68 69h6M79 69h0M82 69h1M85 69h3M91 69h0M94 69h2M99 69h1M102 69h1M109 69h0M111 69h0M118 69h0M127 69h0M1 70h0M7 70h0M15 70h0M18 70h0M22 70h2M26 70h1M32 70h0M35 70h3M45 70h0M47 70h1M53 70h0M55 70h0M57 70h0M59 70h4M66 70h4M73 70h1M78 70h1M81 70h1M85 70h0M89 70h2M95 70h1M99 70h1M104 70h0M107 70h0M110 70h0M115 70h1M4 71h0M6 71h0M8 71h1M13 71h0M16 71h0M18 71h5M26 71h7M35 71h1M39 71h1M42 71h0M45 71h1M50 71h3M56 71h1M59 71h1M62 71h1M67 71h0M69 71h1M72 71h0M74 71h2M80 71h0M84 71h0M87 71h0M89 71h0M95 71h0M100 71h3M108 71h1M119 71h2M138 71h0M1 72h0M4 72h2M9 72h1M12 72h0M17 72h0M21 72h0M24 72h0M27 72h0M29 72h0M31 72h0M34 72h0M36 72h0M40 72h1M45 72h0M47 72h0M51 72h0M56 72h2M60 72h0M62 72h0M66 72h0M68 72h7M77 72h2M81 72h0M83 72h3M92 72h0M94 72h0M96 72h0M102 72h0M118 72h0M121 72h0M1 73h0M7 73h0M23 73h1M26 73h0M28 73h1M33 73h2M38 73h1M41 73h2M45 73h1M48 73h1M51 73h0M55 73h0M57 73h1M63 73h1M66 73h0M70 73h0M72 73h0M75 73h5M82 73h0M85 73h0M89 73h2M95 73h1M100 73h0M102 73h0M104 73h1M108 73h1M117 73h0M1 74h0M3 74h0M7 74h0M12 74h3M18 74h0M24 74h0M26 74h0M28 74h0M31 74h2M37 74h4M47 74h0M51 74h1M55 74h2M62 74h4M69 74h0M71 74h2M76 74h5M83 74h0M85 74h1M88 74h1M91 74h0M95 74h0M98 74h1M102 74h0M104 74h0M106 74h0M109 74h0M5 75h1M11 75h2M15 75h0M19 75h2M23 75h0M25 75h0M28 75h0M30 75h0M33 75h0M38 75h1M41 75h1M44 75h0M46 75h0M48 75h0M50 75h1M54 75h2M59 75h1M62 75h1M65 75h1M69 75h0M75 75h2M79 75h2M84 75h4M91 75h1M96 75h2M105 75h0M107 75h1M1 76h1M9 76h0M14 76h1M17 76h0M19 76h0M22 76h0M25 76h0M32 76h0M34 76h2M39 76h2M43 76h1M47 76h0M50 76h1M53 76h0M55 76h0M57 76h2M62 76h0M64 76h0M66 76h1M70 76h1M74 76h3M80 76h2M86 76h0M88 76h0M92 76h1M96 76h0M104 76h0M112 76h0M120 76h0M124 76h0M6 77h0M8 77h3M14 77h0M16 77h0M24 77h0M26 77h1M30 77h0M34 77h0M36 77h2M42 77h6M52 77h3M57 77h0M59 77h7M70 77h4M78 77h1M82 77h3M87 77h2M96 77h0M98 77h0M100 77h1M107 77h0M116 77h0M127 77h0M1 78h0M12 78h1M15 78h0M20 78h0M22 78h1M29 78h0M33 78h4M39 78h0M41 78h0M43 78h0M47 78h0M49 78h0M53 78h0M56 78h0M58 78h0M60 78h0M62 78h0M67 78h1M71 78h0M76 78h2M82 78h2M87 78h1M90 78h2M96 78h3M101 78h3M111 78h1M137 78h0M1 79h0M4 79h0M7 79h0M11 79h1M14 79h0M16 79h0M23 79h2M31 79h2M38 79h0M42 79h0M44 79h3M49 79h2M54 79h2M59 79h3M64 79h0M66 79h2M70 79h0M73 79h0M75 79h0M77 79h0M83 79h2M87 79h1M90 79h0M93 79h1M96 79h0M100 79h3M106 79h1M109 79h0M116 79h0M5 80h0M7 80h0M11 80h0M16 80h2M20 80h0M23 80h1M29 80h1M34 80h0M36 80h0M38 80h0M40 80h7M49 80h11M64 80h0M68 80h1M72 80h4M79 80h1M82 80h1M87 80h1M90 80h0M93 80h0M96 80h0M98 80h1M101 80h0M104 80h0M116 80h0M12 81h0M14 81h3M23 81h0M27 81h0M31 81h1M35 81h0M38 81h1M41 81h0M44 81h2M49 81h6M57 81h1M60 81h2M65 81h0M67 81h2M72 81h0M74 81h1M78 81h2M82 81h0M84 81h4M91 81h2M95 81h3M103 81h6M112 81h0M115 81h0M1 82h0M8 82h1M11 82h1M21 82h0M25 82h1M29 82h0M31 82h3M36 82h0M38 82h1M41 82h0M43 82h1M46 82h0M50 82h1M54 82h2M59 82h1M63 82h1M67 82h0M69 82h0M72 82h0M75 82h0M77 82h0M79 82h0M81 82h0M83 82h10M97 82h0M99 82h0M101 82h0M105 82h0M110 82h0M117 82h0M132 82h0M6 83h0M10 83h5M17 83h0M19 83h2M23 83h0M25 83h0M27 83h0M31 83h0M34 83h0M37 83h0M39 83h0M44 83h10M57 83h4M64 83h0M66 83h0M69 83h4M75 83h2M80 83h2M84 83h0M91 83h0M94 83h3M102 83h4M117 83h0M126 83h1M1 84h0M11 84h2M17 84h0M22 84h0M24 84h0M31 84h0M33 84h0M36 84h0M39 84h0M43 84h0M47 84h3M52 84h0M56 84h0M59 84h2M63 84h1M66 84h1M70 84h1M74 84h1M77 84h1M81 84h3M86 84h1M89 84h1M93 84h2M97 84h0M99 84h4M105 84h4M138 84h0M1 85h0M5 85h1M9 85h0M19 85h0M22 85h0M25 85h1M30 85h2M36 85h2M40 85h1M44 85h0M46 85h2M52 85h0M54 85h1M58 85h2M62 85h0M64 85h2M69 85h0M71 85h3M76 85h0M78 85h0M80 85h0M82 85h0M85 85h3M90 85h0M92 85h0M94 85h1M97 85h0M99 85h0M102 85h0M108 85h0M110 85h0M113 85h1M119 85h0M132 85h0M6 86h0M10 86h0M12 86h1M17 86h0M21 86h1M25 86h1M29 86h3M36 86h3M42 86h1M46 86h0M48 86h13M63 86h1M66 86h1M74 86h0M77 86h1M81 86h1M84 86h0M86 86h4M92 86h0M94 86h1M97 86h0M99 86h1M103 86h0M105 86h0M108 86h0M111 86h1M116 86h0M132 86h0M1 87h0M5 87h0M9 87h1M15 87h0M17 87h0M24 87h1M27 87h0M30 87h0M32 87h0M36 87h4M45 87h0M47 87h1M53 87h1M58 87h0M60 87h3M66 87h1M69 87h0M71 87h4M77 87h0M79 87h11M92 87h5M99 87h6M107 87h0M110 87h0M116 87h1M1 88h0M10 88h0M12 88h0M16 88h0M20 88h0M25 88h0M28 88h0M33 88h0M37 88h0M39 88h0M41 88h0M43 88h0M46 88h0M49 88h0M51 88h2M55 88h2M60 88h1M63 88h2M67 88h1M71 88h2M76 88h2M80 88h5M87 88h1M90 88h1M94 88h3M99 88h2M103 88h0M105 88h0M108 88h0M116 88h0M126 88h0M135 88h0M1 89h0M12 89h0M14 89h0M18 89h0M22 89h1M26 89h0M28 89h0M32 89h0M37 89h0M41 89h1M47 89h1M50 89h5M57 89h0M60 89h0M64 89h0M67 89h1M70 89h1M73 89h0M75 89h1M80 89h9M91 89h0M95 89h1M98 89h0M100 89h2M106 89h0M108 89h0M114 89h0M123 89h0M138 89h0M1 90h1M6 90h0M10 90h0M16 90h0M18 90h0M20 90h2M24 90h0M28 90h0M32 90h0M37 90h2M43 90h0M46 90h1M52 90h6M60 90h0M62 90h0M64 90h2M68 90h0M70 90h1M73 90h9M84 90h0M86 90h7M95 90h1M98 90h0M101 90h1M106 90h1M109 90h1M112 90h0M116 90h0M127 90h0M1 91h0M6 91h0M11 91h0M15 91h0M18 91h0M20 91h0M22 91h1M34 91h0M38 91h0M40 91h1M43 91h2M47 91h0M49 91h1M52 91h0M54 91h0M56 91h7M65 91h11M78 91h1M82 91h2M86 91h6M94 91h4M100 91h2M105 91h3M112 91h1M115 91h0M1 92h0M9 92h2M20 92h0M22 92h3M29 92h0M31 92h0M33 92h0M36 92h0M38 92h0M45 92h0M52 92h0M55 92h0M57 92h1M60 92h5M69 92h3M74 92h7M83 92h2M87 92h2M91 92h6M99 92h1M102 92h0M104 92h2M108 92h1M116 92h0M121 92h0M123 92h0M128 92h0M139 92h0M1 93h0M3 93h1M13 93h0M19 93h1M24 93h0M34 93h0M36 93h0M40 93h0M42 93h0M44 93h0M47 93h0M49 93h0M52 93h3M57 93h0M60 93h0M62 93h1M65 93h0M68 93h1M72 93h0M74 93h5M81 93h2M85 93h2M89 93h6M98 93h1M101 93h3M108 93h1M126 93h0M154 93h0M3 94h0M7 94h0M9 94h0M16 94h0M18 94h2M22 94h0M29 94h0M32 94h0M34 94h0M36 94h3M42 94h0M44 94h1M49 94h4M55 94h1M58 94h2M63 94h6M71 94h1M74 94h7M83 94h16M101 94h2M105 94h4M112 94h1M135 94h0M1 95h0M13 95h0M17 95h0M19 95h0M21 95h0M25 95h1M31 95h0M34 95h5M41 95h0M44 95h3M52 95h1M55 95h3M60 95h0M62 95h1M65 95h0M67 95h4M73 95h2M77 95h14M93 95h0M95 95h3M100 95h0M102 95h4M109 95h2M115 95h0M121 95h1M125 95h0M130 95h0M1 96h0M5 96h0M9 96h0M14 96h2M20 96h0M23 96h2M30 96h1M33 96h0M38 96h0M47 96h0M49 96h1M52 96h0M54 96h0M56 96h1M60 96h10M72 96h0M74 96h8M84 96h0M86 96h14M102 96h1M105 96h2M110 96h0M113 96h1M116 96h0M118 96h0M120 96h0M124 96h0M139 96h0M1 97h1M6 97h0M14 97h0M23 97h0M28 97h2M33 97h6M42 97h0M44 97h0M47 97h0M51 97h1M54 97h4M60 97h3M65 97h11M78 97h12M92 97h1M95 97h7M105 97h1M108 97h2M114 97h2M119 97h0M126 97h0M1 98h0M3 98h0M7 98h0M10 98h0M15 98h0M17 98h0M20 98h0M22 98h2M26 98h0M28 98h2M33 98h0M35 98h0M41 98h0M44 98h0M48 98h2M54 98h0M58 98h8M69 98h1M72 98h2M76 98h8M86 98h0M89 98h11M102 98h3M107 98h0M112 98h0M114 98h0M117 98h0M132 98h0M7 99h0M9 99h0M13 99h4M19 99h0M25 99h0M27 99h2M31 99h0M33 99h0M35 99h1M41 99h0M48 99h1M52 99h5M60 99h0M62 99h0M64 99h1M70 99h1M73 99h0M75 99h15M92 99h7M101 99h1M104 99h3M110 99h0M114 99h0M116 99h0M122 99h1M127 99h0M135 99h0M4 100h0M7 100h0M10 100h0M13 100h0M17 100h0M23 100h0M28 100h2M32 100h0M34 100h3M40 100h0M43 100h0M49 100h3M59 100h4M66 100h2M70 100h1M73 100h4M79 100h11M92 100h7M101 100h8M111 100h0M113 100h0M116 100h2M139 100h0M1 101h0M6 101h0M8 101h1M11 101h0M18 101h0M20 101h0M25 101h2M30 101h0M32 101h0M34 101h2M39 101h1M45 101h0M47 101h0M52 101h2M56 101h1M59 101h1M63 101h2M67 101h21M90 101h7M99 101h1M102 101h1M105 101h4M111 101h1M114 101h0M1 102h0M7 102h0M11 102h2M16 102h0M19 102h0M25 102h0M27 102h0M30 102h1M33 102h0M37 102h0M47 102h4M54 102h4M60 102h1M65 102h12M79 102h0M81 102h3M86 102h9M98 102h4M104 102h1M107 102h0M109 102h0M112 102h2M117 102h0M119 102h1M123 102h0M130 102h0M1 103h0M12 103h0M20 103h0M22 103h0M24 103h2M28 103h0M34 103h2M38 103h0M41 103h0M44 103h0M46 103h1M51 103h0M53 103h0M56 103h0M59 103h2M63 103h1M66 103h3M71 103h2M75 103h1M78 103h2M82 103h0M84 103h3M89 103h21M112 103h2M120 103h1M1 104h0M6 104h0M9 104h1M16 104h0M19 104h0M22 104h1M26 104h0M29 104h0M37 104h0M39 104h0M41 104h0M43 104h2M51 104h0M53 104h0M55 104h0M57 104h2M62 104h6M70 104h4M76 104h1M79 104h0M81 104h0M83 104h4M90 104h13M105 104h2M109 104h0M111 104h1M115 104h0M118 104h0M124 104h0M1 105h0M9 105h1M17 105h0M22 105h0M24 105h0M27 105h0M31 105h1M34 105h0M36 105h2M41 105h0M47 105h0M52 105h5M61 105h0M65 105h3M70 105h12M84 105h3M89 105h1M92 105h0M94 105h12M108 105h0M110 105h2M115 105h1M118 105h1M121 105h0M136 105h0M2 106h0M5 106h0M11 106h1M14 106h0M17 106h0M19 106h0M23 106h0M27 106h2M31 106h0M33 106h0M37 106h0M41 106h0M46 106h4M53 106h2M58 106h0M60 106h1M63 106h0M65 106h6M73 106h5M80 106h7M89 106h0M92 106h7M101 106h10M114 106h0M116 106h0M118 106h2M124 106h0M1 107h1M9 107h2M13 107h0M22 107h0M29 107h0M31 107h0M34 107h0M37 107h1M40 107h0M43 107h0M47 107h2M52 107h2M57 107h0M60 107h0M62 107h6M70 107h11M83 107h5M90 107h0M92 107h0M96 107h16M116 107h1M120 107h0M135 107h0M12 108h0M20 108h0M24 108h0M32 108h0M34 108h1M37 108h1M43 108h2M47 108h0M49 108h1M54 108h8M64 108h0M67 108h8M77 108h1M82 108h1M90 108h0M93 108h0M96 108h9M107 108h4M114 108h1M118 108h1M133 108h0M6 109h0M8 109h6M17 109h0M20 109h1M27 109h0M31 109h0M36 109h0M38 109h0M40 109h0M42 109h1M47 109h0M50 109h8M62 109h0M64 109h0M66 109h4M72 109h0M74 109h2M78 109h0M80 109h0M82 109h3M90 109h0M92 109h0M95 109h4M101 109h10M114 109h1M117 109h0M119 109h0M121 109h1M128 109h0M1 110h0M4 110h0M8 110h0M10 110h0M12 110h0M14 110h3M22 110h3M29 110h2M33 110h3M38 110h0M42 110h0M45 110h0M48 110h1M51 110h0M58 110h0M60 110h15M78 110h0M84 110h0M91 110h0M94 110h0M96 110h20M119 110h0M121 110h0M124 110h0M128 110h0M11 111h1M15 111h0M22 111h0M27 111h0M30 111h1M34 111h0M38 111h1M46 111h0M50 111h1M55 111h1M59 111h6M67 111h4M73 111h3M81 111h0M83 111h0M98 111h0M100 111h2M104 111h2M108 111h3M113 111h0M115 111h1M119 111h0M122 111h0M2 112h0M5 112h0M7 112h1M10 112h0M12 112h0M14 112h0M16 112h0M19 112h0M22 112h2M26 112h0M28 112h0M30 112h2M34 112h0M36 112h0M42 112h0M44 112h1M49 112h0M51 112h0M53 112h6M61 112h4M67 112h5M74 112h2M81 112h0M89 112h0M91 112h0M94 112h5M101 112h6M109 112h0M119 112h2M123 112h1M3 113h1M7 113h0M10 113h0M14 113h1M18 113h1M22 113h0M24 113h1M27 113h0M29 113h0M31 113h0M39 113h1M42 113h0M44 113h0M46 113h0M51 113h0M54 113h0M56 113h0M59 113h19M80 113h0M86 113h0M90 113h0M93 113h0M96 113h0M99 113h5M106 113h5M113 113h3M119 113h0M124 113h0M7 114h0M9 114h0M12 114h2M18 114h0M24 114h0M26 114h0M31 114h3M36 114h0M39 114h5M46 114h2M50 114h2M54 114h0M57 114h6M65 114h0M67 114h0M69 114h2M73 114h0M75 114h0M77 114h0M91 114h0M97 114h6M105 114h8M115 114h1M118 114h0M121 114h0M124 114h0M6 115h0M8 115h0M18 115h0M20 115h0M22 115h0M24 115h1M27 115h4M38 115h1M43 115h2M47 115h2M52 115h0M54 115h0M56 115h0M58 115h1M62 115h16M96 115h1M99 115h5M106 115h1M109 115h1M112 115h0M123 115h0M4 116h0M7 116h0M9 116h0M11 116h0M16 116h0M18 116h1M22 116h0M25 116h0M28 116h3M34 116h0M36 116h0M39 116h0M41 116h2M46 116h3M51 116h0M53 116h18M75 116h0M85 116h0M96 116h0M99 116h0M101 116h8M111 116h0M113 116h1M117 116h0M119 116h0M122 116h0M1 117h0M3 117h0M8 117h2M15 117h0M17 117h2M22 117h0M25 117h7M35 117h0M37 117h0M39 117h0M46 117h4M53 117h0M58 117h1M61 117h5M68 117h4M74 117h1M77 117h1M80 117h1M83 117h0M85 117h0M93 117h0M95 117h0M97 117h1M100 117h5M107 117h8M118 117h0M120 117h1M6 118h2M12 118h0M16 118h0M22 118h2M26 118h1M29 118h2M35 118h0M37 118h0M39 118h0M41 118h3M46 118h0M49 118h0M51 118h1M55 118h3M61 118h0M63 118h1M66 118h9M79 118h0M83 118h0M86 118h0M96 118h0M100 118h1M104 118h0M106 118h2M110 118h8M120 118h1M128 118h0M1 119h0M5 119h0M7 119h0M10 119h4M21 119h0M25 119h0M32 119h0M35 119h1M38 119h0M40 119h0M43 119h0M45 119h0M47 119h0M52 119h2M56 119h0M60 119h4M66 119h8M76 119h0M84 119h0M98 119h0M101 119h9M113 119h1M117 119h0M119 119h0M121 119h0M138 119h0M1 120h0M4 120h0M9 120h1M13 120h0M15 120h0M17 120h1M21 120h0M23 120h0M27 120h0M34 120h5M41 120h0M47 120h3M52 120h0M55 120h0M57 120h0M59 120h2M63 120h8M73 120h1M78 120h0M84 120h0M95 120h1M100 120h0M103 120h6M111 120h4M117 120h0M124 120h0M134 120h0M3 121h1M6 121h3M11 121h0M13 121h0M16 121h2M21 121h6M30 121h0M32 121h0M34 121h1M40 121h1M43 121h0M46 121h1M49 121h2M53 121h0M55 121h5M63 121h1M66 121h6M74 121h2M79 121h0M95 121h0M97 121h0M101 121h0M103 121h0M106 121h4M112 121h1M116 121h0M119 121h4M2 122h0M5 122h4M11 122h0M15 122h0M17 122h3M22 122h0M26 122h1M29 122h0M32 122h0M34 122h0M39 122h0M41 122h0M43 122h0M45 122h0M47 122h0M49 122h0M52 122h2M56 122h2M60 122h5M67 122h3M72 122h1M75 122h0M79 122h0M86 122h0M93 122h0M98 122h1M101 122h11M2 123h0M8 123h2M15 123h2M19 123h0M26 123h0M29 123h2M34 123h0M38 123h0M43 123h0M51 123h0M54 123h1M57 123h3M62 123h4M68 123h7M80 123h0M93 123h0M95 123h2M100 123h6M109 123h0M111 123h1M114 123h0M116 123h0M119 123h0M121 123h1M138 123h0M141 123h0M1 124h0M8 124h1M11 124h1M14 124h0M17 124h2M22 124h0M25 124h0M28 124h0M30 124h0M33 124h5M40 124h0M42 124h1M51 124h2M56 124h15M73 124h4M79 124h0M81 124h0M99 124h1M105 124h1M108 124h6M118 124h0M125 124h0M1 125h1M5 125h2M9 125h0M13 125h1M16 125h1M21 125h5M30 125h4M36 125h2M40 125h2M45 125h0M47 125h0M49 125h2M55 125h1M61 125h1M65 125h8M75 125h0M77 125h0M80 125h0M83 125h1M102 125h12M119 125h1M122 125h0M11 126h1M16 126h1M19 126h9M31 126h2M38 126h0M42 126h0M47 126h0M54 126h0M56 126h0M58 126h0M63 126h7M72 126h0M81 126h0M89 126h0M101 126h0M103 126h4M109 126h0M112 126h0M114 126h0M120 126h0M122 126h0M128 126h0M1 127h0M3 127h4M9 127h1M15 127h0M17 127h0M20 127h4M26 127h0M28 127h0M30 127h1M33 127h0M35 127h0M37 127h0M39 127h0M41 127h0M43 127h0M48 127h1M53 127h0M56 127h0M60 127h1M65 127h5M72 127h3M77 127h1M84 127h0M90 127h0M92 127h1M97 127h0M101 127h5M109 127h1M112 127h0M114 127h2M118 127h0M124 127h0M136 127h0M138 127h0M140 127h0M4 128h0M6 128h1M11 128h0M13 128h1M16 128h5M23 128h1M27 128h0M30 128h0M34 128h4M40 128h0M44 128h2M48 128h0M50 128h0M55 128h0M58 128h4M64 128h1M67 128h0M69 128h5M76 128h0M78 128h0M101 128h9M112 128h2M116 128h0M120 128h0M122 128h0M124 128h0M5 129h0M9 129h1M14 129h0M16 129h3M22 129h6M30 129h5M38 129h0M40 129h1M49 129h0M52 129h1M55 129h1M58 129h2M62 129h1M65 129h5M72 129h4M78 129h0M84 129h0M99 129h8M109 129h7M1 130h0M7 130h0M10 130h0M13 130h0M15 130h3M20 130h6M28 130h3M33 130h6M41 130h0M44 130h0M47 130h0M49 130h0M51 130h4M57 130h1M60 130h2M64 130h2M68 130h8M78 130h0M91 130h0M94 130h2M98 130h1M101 130h11M114 130h2M118 130h0M121 130h0M130 130h0M3 131h0M8 131h2M12 131h0M14 131h1M18 131h4M25 131h6M33 131h2M37 131h2M42 131h0M46 131h0M50 131h0M53 131h0M56 131h1M59 131h0M61 131h2M65 131h5M72 131h9M93 131h5M100 131h6M108 131h0M110 131h2M114 131h0M116 131h0M118 131h2M126 131h0M137 131h0M1 132h0M4 132h2M8 132h1M14 132h6M22 132h0M25 132h6M33 132h3M41 132h3M47 132h3M53 132h1M56 132h0M60 132h1M63 132h1M66 132h3M71 132h3M77 132h0M80 132h0M85 132h0M88 132h0M90 132h1M94 132h2M98 132h13M115 132h0M117 132h0M119 132h0M122 132h1M127 132h1M3 133h0M6 133h0M8 133h0M10 133h3M15 133h4M21 133h0M24 133h2M28 133h7M39 133h2M46 133h1M50 133h0M53 133h1M56 133h0M58 133h1M61 133h6M69 133h5M76 133h0M80 133h0M89 133h0M93 133h0M95 133h14M111 133h4M117 133h1M121 133h0M1 134h0M4 134h0M7 134h0M9 134h1M12 134h15M30 134h4M36 134h1M39 134h3M45 134h3M52 134h0M56 134h1M60 134h7M69 134h2M73 134h2M77 134h0M82 134h0M89 134h0M92 134h0M94 134h2M98 134h9M110 134h0M113 134h0M115 134h0M120 134h0M1 135h0M3 135h6M13 135h0M15 135h14M31 135h5M38 135h1M44 135h2M49 135h0M51 135h3M57 135h1M60 135h0M62 135h2M67 135h3M72 135h1M75 135h0M77 135h0M81 135h1M84 135h0M86 135h0M91 135h2M95 135h1M99 135h3M104 135h1M107 135h2M111 135h1M118 135h0M120 135h0M5 136h0M7 136h0M9 136h0M11 136h3M18 136h13M33 136h2M37 136h2M42 136h0M44 136h0M46 136h0M48 136h1M54 136h0M57 136h1M61 136h4M67 136h9M78 136h0M80 136h1M83 136h0M86 136h2M91 136h0M93 136h3M99 136h5M106 136h2M110 136h0M112 136h0M120 136h0M123 136h0M128 136h0M4 137h0M6 137h1M10 137h2M15 137h5M22 137h14M38 137h1M41 137h1M44 137h1M47 137h2M56 137h0M58 137h4M65 137h4M71 137h18M91 137h2M95 137h9M107 137h1M110 137h1M114 137h0M119 137h0M123 137h0M2 138h0M4 138h0M8 138h0M10 138h0M12 138h0M14 138h9M25 138h7M34 138h3M39 138h2M45 138h2M49 138h1M52 138h0M55 138h3M60 138h0M63 138h3M68 138h20M90 138h4M96 138h0M98 138h11M111 138h5M121 138h1M1 139h1M7 139h0M9 139h14M25 139h14M41 139h1M45 139h4M57 139h0M59 139h3M64 139h2M68 139h3M73 139h1M76 139h14M92 139h10M104 139h0M106 139h3M113 139h0M115 139h0M117 139h1M120 139h1M123 139h0M132 139h1M1 140h3M6 140h1M10 140h3M15 140h1M18 140h4M24 140h12M38 140h1M41 140h3M46 140h0M50 140h1M53 140h0M55 140h1M58 140h0M61 140h4M67 140h1M70 140h3M75 140h17M94 140h1M97 140h5M104 140h3M109 140h2M116 140h2M123 140h0M1 141h0M4 141h0M6 141h0M8 141h1M11 141h11M24 141h11M37 141h6M47 141h0M49 141h3M55 141h2M61 141h2M66 141h10M78 141h4M84 141h0M86 141h0M88 141h1M91 141h11M107 141h0M109 141h3M115 141h0M117 141h1M122 141h0M124 141h0M1 142h1M4 142h2M9 142h2M13 142h4M19 142h0M21 142h0M25 142h0M27 142h15M45 142h2M51 142h2M57 142h1M65 142h1M68 142h1M71 142h0M73 142h6M81 142h2M85 142h1M89 142h9M100 142h4M106 142h1M109 142h0M111 142h1M124 142h0M1 143h0M6 143h13M22 143h0M24 143h2M28 143h0M30 143h10M42 143h2M46 143h1M50 143h0M52 143h1M55 143h1M60 143h1M65 143h1M68 143h18M88 143h2M93 143h19M114 143h0M117 143h1M121 143h0M1 144h0M3 144h2M7 144h0M9 144h13M24 144h4M30 144h1M34 144h6M42 144h3M47 144h2M53 144h0M56 144h0M59 144h3M66 144h0M68 144h1M71 144h29M103 144h0M105 144h1M108 144h0M110 144h1M116 144h1M119 144h0M122 144h0M126 144h0M1 145h0M3 145h2M7 145h2M11 145h10M25 145h0M28 145h4M34 145h4M40 145h0M42 145h0M44 145h3M49 145h0M53 145h0M57 145h0M62 145h0M65 145h2M69 145h9M80 145h0M82 145h1M85 145h4M91 145h3M98 145h0M100 145h6M108 145h2M117 145h0M119 145h0M140 145h0M1 146h3M6 146h0M9 146h3M16 146h1M23 146h0M26 146h3M32 146h8M42 146h1M49 146h1M52 146h1M56 146h0M61 146h0M63 146h2M67 146h3M72 146h4M78 146h2M82 146h0M84 146h23M110 146h0M112 146h1M117 146h0M119 146h0M123 146h0M1 147h0M3 147h0M5 147h10M17 147h1M20 147h0M22 147h0M28 147h1M31 147h10M43 147h1M47 147h1M51 147h3M61 147h1M64 147h5M71 147h11M84 147h4M90 147h3M95 147h2M99 147h0M102 147h3M107 147h2M116 147h0M121 147h0M124 147h0M132 147h0M1 148h3M6 148h2M10 148h3M15 148h5M22 148h0M27 148h0M29 148h1M32 148h10M45 148h1M48 148h0M52 148h0M56 148h0M58 148h0M60 148h5M67 148h4M74 148h0M76 148h0M78 148h11M91 148h0M93 148h4M100 148h4M106 148h0M108 148h0M111 148h2M117 148h1M123 148h0M2 149h4M8 149h13M27 149h0M29 149h0M31 149h8M41 149h0M43 149h3M59 149h2M67 149h0M69 149h1M72 149h7M81 149h6M90 149h6M98 149h3M103 149h1M106 149h3M111 149h0M113 149h0M124 149h0M1 150h6M9 150h6M17 150h0M21 150h0M23 150h1M27 150h0M30 150h10M42 150h4M52 150h0M54 150h0M56 150h0M59 150h1M65 150h0M68 150h2M72 150h0M75 150h1M78 150h6M87 150h4M94 150h8M104 150h3M110 150h0M112 150h1M117 150h0M1 151h1M4 151h4M10 151h8M21 151h2M28 151h12M42 151h3M49 151h1M57 151h1M60 151h1M63 151h0M65 151h1M68 151h1M71 151h8M81 151h6M90 151h0M92 151h5M99 151h1M102 151h4M110 151h1M113 151h1M116 151h0M118 151h0M1 152h1M4 152h3M9 152h8M19 152h0M21 152h0M29 152h1M33 152h0M35 152h13M51 152h0M53 152h0M59 152h0M61 152h1M69 152h10M81 152h7M90 152h2M94 152h7M103 152h1M106 152h0M109 152h1M112 152h0M114 152h0M117 152h1M122 152h0M126 152h0M1 153h1M4 153h1M8 153h11M25 153h0M28 153h1M31 153h10M43 153h2M47 153h0M50 153h0M53 153h1M56 153h1M59 153h3M64 153h2M68 153h2M72 153h4M78 153h5M85 153h4M91 153h4M97 153h0M99 153h1M102 153h3M111 153h0M122 153h0M1 154h1M4 154h1M9 154h4M15 154h2M20 154h0M25 154h3M33 154h2M37 154h3M42 154h0M44 154h0M46 154h0M48 154h0M52 154h1M56 154h0M64 154h0M70 154h0M72 154h2M76 154h2M80 154h0M82 154h2M86 154h5M94 154h0M96 154h1M99 154h0M101 154h2M106 154h0M109 154h1M114 154h0M2 155h0M4 155h0M6 155h1M9 155h0M11 155h7M21 155h0M24 155h1M27 155h0M29 155h0M31 155h0M34 155h9M46 155h0M48 155h2M52 155h0M55 155h0M57 155h1M62 155h0M64 155h1M70 155h0M72 155h1M78 155h0M80 155h20M103 155h0M105 155h0M111 155h0M117 155h0M123 155h0M6 156h0M8 156h9M21 156h0M26 156h0M30 156h4M36 156h7M45 156h3M50 156h0M52 156h0M58 156h1M62 156h0M64 156h0M66 156h2M71 156h2M75 156h1M79 156h0M82 156h0M84 156h2M88 156h0M90 156h0M94 156h2M98 156h3M103 156h0M108 156h0M116 156h0M1 157h4M7 157h2M12 157h0M14 157h3M22 157h0M30 157h0M33 157h4M40 157h3M46 157h0M49 157h0M51 157h1M54 157h1M57 157h0M60 157h0M65 157h0M68 157h1M71 157h0M73 157h0M78 157h1M82 157h2M86 157h0M88 157h2M92 157h0M94 157h1M97 157h1M101 157h1M104 157h1M108 157h0M115 157h0M118 157h0M1 158h0M3 158h0M6 158h3M11 158h4M17 158h5M26 158h0M30 158h0M32 158h8M43 158h3M48 158h0M50 158h2M55 158h2M59 158h2M67 158h0M71 158h1M76 158h0M79 158h1M82 158h2M88 158h0M90 158h1M93 158h3M99 158h2M105 158h0M107 158h0M110 158h0M114 158h0M117 158h0M1 159h1M4 159h2M8 159h6M19 159h2M23 159h0M28 159h12M42 159h2M46 159h1M52 159h1M57 159h1M64 159h0M67 159h0M71 159h5M78 159h0M80 159h2M84 159h0M89 159h1M92 159h1M96 159h0M98 159h2M102 159h0M104 159h0M106 159h0M108 159h0M112 159h0M1 160h0M3 160h1M6 160h0M10 160h6M18 160h0M23 160h0M27 160h1M30 160h0M32 160h1M35 160h11M48 160h0M52 160h1M56 160h0M59 160h0M61 160h0M65 160h1M70 160h0M76 160h0M82 160h7M91 160h3M96 160h2M100 160h0M102 160h0M118 160h0M129 160h0M1 161h0M4 161h0M6 161h7M15 161h2M19 161h1M23 161h1M27 161h1M30 161h5M37 161h10M51 161h0M60 161h0M66 161h0M68 161h3M74 161h1M78 161h0M80 161h0M82 161h0M85 161h2M90 161h0M93 161h0M95 161h2M101 161h0M115 161h0M1 162h2M5 162h3M11 162h10M24 162h0M28 162h8M38 162h5M45 162h0M50 162h1M60 162h2M68 162h0M71 162h0M73 162h1M76 162h0M78 162h3M84 162h3M89 162h8M106 162h0M109 162h0M130 162h0M1 163h0M3 163h1M6 163h2M11 163h1M14 163h4M20 163h0M22 163h0M24 163h0M27 163h0M29 163h0M31 163h12M45 163h3M51 163h0M53 163h0M55 163h0M62 163h0M65 163h2M72 163h0M76 163h1M79 163h0M81 163h2M86 163h0M89 163h4M99 163h0M102 163h1M106 163h0M1 164h0M4 164h0M7 164h5M14 164h3M19 164h1M22 164h2M27 164h0M31 164h4M37 164h9M48 164h0M50 164h1M54 164h3M61 164h1M69 164h1M72 164h2M76 164h3M92 164h1M95 164h0M105 164h0M2 165h0M6 165h14M22 165h3M27 165h14M43 165h2M51 165h2M62 165h1M65 165h0M67 165h0M69 165h0M71 165h0M76 165h0M78 165h2M82 165h0M84 165h3M90 165h1M93 165h0M95 165h0M97 165h0M99 165h0M101 165h0M2 166h0M4 166h1M8 166h12M24 166h3M30 166h8M40 166h0M42 166h0M45 166h1M48 166h2M52 166h1M56 166h0M62 166h1M71 166h0M74 166h2M78 166h0M81 166h1M84 166h0M86 166h0M93 166h1M98 166h1M1 167h1M5 167h1M8 167h1M11 167h9M22 167h2M26 167h8M36 167h4M42 167h0M44 167h0M46 167h2M50 167h0M54 167h0M58 167h1M61 167h0M70 167h0M73 167h0M75 167h0M78 167h0M81 167h0M85 167h0M88 167h1M93 167h0M96 167h1M1 168h0M5 168h1M8 168h2M12 168h0M14 168h8M24 168h5M31 168h8M41 168h2M46 168h0M49 168h0M52 168h0M55 168h0M57 168h2M61 168h1M67 168h0M70 168h1M76 168h0M80 168h4M91 168h0M94 168h2M98 168h2M102 168h0M113 168h0M118 168h0M1 169h0M3 169h0M8 169h2M13 169h22M37 169h0M40 169h3M45 169h0M47 169h0M50 169h2M55 169h0M57 169h0M66 169h0M68 169h0M71 169h0M78 169h2M83 169h0M86 169h1M90 169h0M92 169h0M97 169h1M101 169h1M2 170h1M5 170h6M13 170h0M15 170h0M17 170h6M25 170h4M31 170h8M42 170h0M44 170h0M46 170h0M51 170h0M56 170h0M59 170h0M71 170h3M76 170h2M80 170h1M88 170h0M93 170h1M97 170h3M104 170h0M116 170h0M1 171h0M3 171h0M5 171h1M9 171h11M22 171h7M31 171h5M38 171h4M45 171h2M49 171h0M53 171h1M56 171h0M80 171h0M85 171h0M88 171h1M95 171h1M1 172h1M4 172h0M6 172h1M11 172h7M20 172h1M23 172h6M31 172h1M34 172h4M42 172h1M52 172h0M55 172h1M60 172h0M63 172h0M69 172h0M79 172h0M82 172h0M84 172h0M99 172h2M106 172h0M110 172h0M2 173h0M5 173h0M8 173h0M12 173h1M15 173h8M25 173h8M36 173h1M39 173h0M43 173h1M46 173h0M48 173h2M53 173h1M56 173h0M63 173h0M66 173h0M70 173h0M74 173h0M77 173h0M80 173h0M84 173h1M87 173h1M92 173h0M94 173h0M102 173h0M117 173h0M2 174h0M4 174h1M11 174h7M21 174h3M26 174h0M28 174h2M32 174h3M38 174h0M41 174h3M46 174h0M55 174h0M62 174h1M67 174h0M70 174h0M72 174h1M75 174h1M81 174h0M85 174h0M88 174h0M94 174h0M99 174h0M4 175h0M7 175h1M10 175h2M14 175h1M17 175h1M20 175h4M27 175h2M31 175h10M47 175h0M49 175h1M52 175h0M56 175h0M58 175h0M61 175h0M64 175h0M66 175h0M70 175h0M76 175h0M78 175h0M81 175h0M87 175h0M94 175h0M98 175h0M4 176h1M7 176h1M10 176h2M16 176h0M18 176h0M21 176h3M27 176h2M33 176h0M35 176h1M38 176h0M41 176h2M45 176h0M49 176h0M57 176h0M62 176h0M66 176h0M69 176h0M85 176h2M92 176h0M101 176h0M1 177h0M11 177h1M14 177h0M16 177h2M22 177h5M32 177h3M37 177h0M41 177h0M43 177h0M46 177h2M52 177h0M55 177h0M58 177h0M61 177h0M65 177h0M72 177h1M78 177h0M81 177h0M87 177h0M89 177h0M96 177h1M127 177h0M1 178h0M6 178h1M9 178h0M14 178h4M21 178h4M27 178h0M29 178h0M33 178h4M39 178h1M42 178h0M46 178h1M51 178h2M63 178h0M67 178h0M70 178h0M73 178h0M83 178h0M85 178h0M87 178h0M89 178h0M92 178h0M94 178h2M98 178h4M105 178h0M4 179h0M8 179h5M15 179h2M19 179h5M28 179h5M37 179h1M40 179h0M43 179h0M59 179h1M67 179h0M77 179h0M81 179h0M90 179h0M92 179h0M9 180h0M15 180h5M22 180h6M31 180h1M34 180h0M37 180h0M41 180h0M45 180h0M50 180h1M53 180h0M1 181h42M45 181h0M47 181h0M49 181h0M52 181h0M65 181h1M72 181h0M79 181h0M86 181h0M89 181h1M94 181h0M114 181h0M119 181h0" stroke="#7c7c7c" stroke-width="1.6" stroke-linecap="round" fill="none" transform="translate(0.5 0.5)"/>
<path d="M65 15h2M63 16h1M67 16h2M35 17h0M63 17h2M67 17h2M80 17h0M57 18h1M62 18h2M68 18h0M71 18h0M78 18h2M82 18h0M85 18h0M7 19h0M16 19h0M23 19h0M25 19h1M30 19h0M48 19h0M56 19h1M59 19h0M61 19h1M68 19h1M72 19h0M74 19h0M77 19h0M80 19h1M83 19h0M5 20h0M8 20h0M13 20h3M18 20h0M20 20h0M27 20h0M30 20h0M35 20h0M40 20h0M46 20h1M51 20h0M55 20h0M57 20h1M60 20h0M62 20h2M66 20h1M70 20h0M72 20h2M76 20h1M80 20h1M83 20h0M87 20h1M6 21h1M11 21h5M18 21h0M20 21h3M25 21h0M27 21h0M29 21h0M34 21h0M38 21h0M40 21h0M42 21h0M46 21h0M49 21h0M52 21h1M55 21h1M58 21h3M64 21h1M69 21h5M76 21h0M78 21h1M81 21h1M84 21h2M90 21h0M2 22h0M4 22h7M13 22h3M18 22h0M21 22h4M27 22h0M29 22h0M31 22h0M40 22h2M44 22h0M46 22h1M49 22h0M51 22h1M54 22h1M57 22h1M73 22h0M75 22h1M78 22h0M80 22h1M83 22h3M89 22h0M2 23h2M10 23h3M17 23h3M22 23h1M25 23h1M31 23h0M33 23h0M36 23h0M39 23h0M41 23h1M47 23h1M50 23h0M53 23h0M57 23h0M60 23h0M63 23h0M67 23h0M72 23h1M75 23h4M82 23h7M2 24h0M4 24h2M8 24h3M14 24h0M17 24h1M21 24h4M27 24h3M33 24h0M39 24h3M44 24h0M47 24h3M53 24h1M56 24h3M61 24h0M63 24h0M66 24h0M76 24h0M79 24h3M85 24h2M89 24h0M2 25h1M6 25h1M9 25h1M13 25h4M19 25h1M23 25h2M31 25h2M35 25h0M38 25h0M41 25h3M47 25h1M50 25h0M52 25h7M65 25h0M67 25h0M73 25h1M76 25h3M81 25h0M83 25h6M1 26h0M3 26h0M5 26h2M10 26h2M14 26h5M21 26h3M27 26h3M32 26h0M39 26h3M44 26h3M49 26h5M57 26h3M63 26h0M70 26h0M73 26h0M75 26h5M82 26h0M85 26h0M87 26h1M1 27h1M5 27h0M8 27h1M12 27h0M14 27h0M17 27h1M20 27h0M22 27h1M27 27h1M30 27h0M32 27h1M40 27h0M44 27h0M46 27h4M53 27h2M58 27h1M62 27h2M72 27h1M75 27h3M81 27h1M84 27h3M91 27h0M94 27h0M4 28h1M10 28h0M12 28h0M15 28h0M19 28h2M26 28h1M31 28h0M33 28h1M42 28h2M47 28h0M49 28h0M51 28h0M53 28h8M63 28h0M65 28h0M68 28h0M72 28h4M78 28h1M84 28h3M4 29h0M12 29h1M15 29h0M19 29h6M41 29h4M50 29h1M54 29h0M57 29h5M64 29h1M70 29h0M75 29h0M77 29h1M83 29h0M21 30h0M23 30h0M31 30h0M41 30h0M52 30h0M55 30h0M57 30h6M65 30h1M69 30h0M71 30h2M77 30h0M86 30h1M29 31h1M41 31h0M45 31h0M60 31h0M62 31h2M66 31h0M69 31h0M71 31h2M76 31h1M86 31h0M16 32h0M58 32h1M63 32h0M66 32h0M68 32h0M70 32h4M84 32h0M22 33h0M63 33h0M68 33h0M70 33h3M71 35h1M80 102h0M85 102h0M96 102h0M81 103h0M83 103h0M75 104h0M78 104h0M80 104h0M89 104h0M83 105h0M88 105h0M91 105h0M93 105h0M79 106h0M88 106h0M90 106h1M100 106h0M82 107h0M89 107h0M91 107h0M93 107h2M76 108h0M79 108h2M84 108h5M91 108h1M94 108h1M77 109h0M79 109h0M81 109h0M86 109h2M91 109h0M93 109h1M100 109h0M76 110h1M79 110h4M85 110h1M88 110h1M92 110h1M95 110h0M72 111h0M77 111h3M84 111h0M87 111h10M99 111h0M103 111h0M73 112h0M77 112h3M82 112h4M88 112h0M90 112h0M92 112h1M100 112h0M79 113h0M81 113h4M87 113h2M91 113h1M94 113h1M97 113h1M72 114h0M74 114h0M76 114h0M78 114h6M87 114h3M92 114h4M79 115h4M85 115h1M90 115h5M98 115h0M72 116h0M74 116h0M76 116h6M84 116h0M87 116h4M93 116h0M95 116h0M97 116h1M100 116h0M82 117h0M84 117h0M86 117h6M96 117h0M99 117h0M76 118h2M80 118h2M88 118h5M95 118h0M97 118h2M103 118h0M75 119h0M77 119h5M85 119h2M91 119h0M93 119h4M99 119h1M75 120h2M79 120h4M85 120h5M92 120h2M98 120h0M101 120h1M73 121h0M77 121h1M80 121h1M83 121h0M85 121h3M90 121h4M96 121h0M98 121h2M71 122h0M74 122h0M76 122h2M80 122h3M88 122h0M92 122h0M95 122h2M100 122h0M76 123h3M81 123h0M84 123h0M88 123h4M98 123h1M78 124h0M80 124h0M82 124h6M90 124h0M92 124h1M95 124h3M102 124h0M74 125h0M76 125h0M78 125h1M81 125h1M85 125h0M87 125h0M89 125h3M95 125h6M71 126h0M73 126h7M83 126h0M85 126h1M91 126h9M102 126h0M71 127h0M76 127h0M79 127h4M85 127h4M91 127h0M94 127h2M98 127h0M100 127h0M75 128h0M77 128h0M79 128h6M90 128h10M77 129h0M80 129h3M85 129h1M90 129h3M95 129h3M77 130h0M79 130h0M81 130h7M90 130h0M92 130h0M97 130h0M100 130h0M82 131h5M89 131h2M99 131h0M75 132h1M78 132h1M81 132h3M86 132h0M89 132h0M92 132h1M97 132h0M75 133h0M79 133h0M81 133h7M90 133h2M94 133h0M78 134h3M83 134h5M90 134h1M93 134h0M97 134h0M74 135h0M76 135h0M78 135h2M83 135h0M85 135h0M87 135h1M90 135h0M94 135h0M97 135h1M77 136h0M79 136h0M82 136h0M84 136h1M89 136h1M92 136h0M97 136h1M90 137h0M94 137h0M89 138h0M95 138h0M24 139h0M91 139h0M23 140h0M93 140h0M23 141h0M87 141h0M90 141h0M18 142h0M20 142h0M22 142h2M26 142h0M87 142h1M20 143h1M23 143h0M27 143h0M87 143h0M23 144h0M29 144h0M22 145h2M26 145h1M84 145h0M90 145h0M18 146h4M24 146h1M30 146h1M19 147h0M21 147h0M23 147h4M83 147h0M21 148h0M23 148h3M28 148h0M31 148h0M22 149h4M28 149h0M30 149h0M16 150h0M18 150h2M22 150h0M25 150h1M28 150h1M19 151h1M24 151h3M18 152h0M20 152h0M22 152h5M31 152h1M34 152h0M20 153h3M26 153h1M30 153h0M18 154h1M21 154h3M29 154h3M19 155h1M22 155h1M26 155h0M28 155h0M30 155h0M32 155h1M18 156h2M22 156h0M24 156h1M27 156h2M35 156h0M18 157h3M23 157h6M31 157h1M16 158h0M23 158h1M27 158h2M31 158h0M15 159h3M22 159h0M24 159h3M17 160h0M19 160h3M24 160h2M29 160h0M14 161h0M18 161h0M21 161h1M25 161h1M29 161h0M22 162h1M25 162h2M19 163h0M21 163h0M23 163h0M25 163h1M28 163h0M30 163h0M18 164h0M21 164h0M25 164h0M28 164h2M21 165h0M26 165h0M21 166h2M28 166h1M21 167h0M25 167h0M23 168h0M30 168h0" stroke="#868686" stroke-width="1.6" stroke-linecap="round" fill="none" transform="translate(0.5 0.5)"/>
<path d="M66 17h0M65 18h1M63 19h4M61 20h0M65 20h0M68 20h1M71 20h0M62 21h1M66 21h2M59 22h6M67 22h3M72 22h0M55 23h0M58 23h0M61 23h0M64 23h2M68 23h3M74 23h0M80 23h0M20 24h0M55 24h0M60 24h0M62 24h0M64 24h1M67 24h7M5 25h0M18 25h0M21 25h1M60 25h4M66 25h0M68 25h4M75 25h0M55 26h0M61 26h1M64 26h5M71 26h1M74 26h0M81 26h0M83 26h0M24 27h0M57 27h0M60 27h1M65 27h6M74 27h0M83 27h0M62 28h0M64 28h0M66 28h1M69 28h2M66 29h3M71 29h0M64 30h0M67 30h1M70 30h0M67 31h1M70 31h0M65 32h0M89 109h0M87 110h0M90 110h0M82 111h0M85 111h1M87 112h0M85 114h1M84 115h0M87 115h2M83 116h0M86 116h0M92 116h0M94 116h0M76 117h0M79 117h0M94 117h0M84 118h1M87 118h0M94 118h0M83 119h0M88 119h2M92 119h0M91 120h0M97 120h0M82 121h0M84 121h0M89 121h0M84 122h1M87 122h0M89 122h2M94 122h0M82 123h1M85 123h2M94 123h0M89 124h0M91 124h0M94 124h0M86 125h0M88 125h0M93 125h1M82 126h0M84 126h0M87 126h1M90 126h0M86 128h3M79 129h0M87 129h2M94 129h0M80 130h0M89 130h0M93 130h0M88 131h0M92 131h0M87 132h0M24 153h0M25 158h0M26 164h0" stroke="#909090" stroke-width="1.6" stroke-linecap="round" fill="none" transform="translate(0.5 0.5)"/>
</g>
<rect x="56.3" y="294.3" width="182.7" height="182.1" fill="none" stroke="#a6a6a6" stroke-width="1.2"/>
<path d="M56.3 407.5H239" stroke="#8a8a8a" stroke-width="1.0" fill="none" style="mix-blend-mode:multiply"/>
<path d="M124.5 294.3V476.4" stroke="#8a8a8a" stroke-width="1.0" fill="none" style="mix-blend-mode:multiply"/>
<path d="M56.3 476.4v3.6M56.3 476.4h-3.6M70 476.4v2.2M56.3 462.7h-2.2M78.1 476.4v2.2M56.3 454.7h-2.2M83.8 476.4v2.2M56.3 449h-2.2M88.2 476.4v2.2M56.3 444.6h-2.2M91.8 476.4v2.2M56.3 441h-2.2M94.9 476.4v2.2M56.3 437.9h-2.2M97.5 476.4v2.2M56.3 435.3h-2.2M99.9 476.4v2.2M56.3 433h-2.2M102 476.4v3.6M56.3 430.9h-3.6M115.7 476.4v2.2M56.3 417.2h-2.2M123.8 476.4v2.2M56.3 409.2h-2.2M129.5 476.4v2.2M56.3 403.5h-2.2M133.9 476.4v2.2M56.3 399.1h-2.2M137.5 476.4v2.2M56.3 395.4h-2.2M140.6 476.4v2.2M56.3 392.4h-2.2M143.2 476.4v2.2M56.3 389.8h-2.2M145.6 476.4v2.2M56.3 387.4h-2.2M147.6 476.4v3.6M56.3 385.4h-3.6M161.4 476.4v2.2M56.3 371.6h-2.2M169.4 476.4v2.2M56.3 363.6h-2.2M175.1 476.4v2.2M56.3 357.9h-2.2M179.6 476.4v2.2M56.3 353.5h-2.2M183.2 476.4v2.2M56.3 349.9h-2.2M186.2 476.4v2.2M56.3 346.9h-2.2M188.9 476.4v2.2M56.3 344.2h-2.2M191.2 476.4v2.2M56.3 341.9h-2.2M193.3 476.4v3.6M56.3 339.8h-3.6M207.1 476.4v2.2M56.3 326.1h-2.2M215.1 476.4v2.2M56.3 318.1h-2.2M220.8 476.4v2.2M56.3 312.4h-2.2M225.3 476.4v2.2M56.3 308h-2.2M228.9 476.4v2.2M56.3 304.4h-2.2M231.9 476.4v2.2M56.3 301.4h-2.2M234.6 476.4v2.2M56.3 298.7h-2.2M236.9 476.4v2.2M56.3 296.4h-2.2M239 476.4v3.6M56.3 294.3h-3.6" stroke="#6a6a6a" stroke-width="0.9" fill="none"/>
<text transform="translate(52.8 491.7) scale(0.93 1)" font-family='"Liberation Sans", Arial, sans-serif' font-size="9.8" text-anchor="middle" fill="#161616">10<tspan font-size="7" dy="-2.9">0</tspan></text>
<text transform="translate(50.5 480.9) scale(0.93 1)" font-family='"Liberation Sans", Arial, sans-serif' font-size="9.8" text-anchor="end" fill="#161616">10<tspan font-size="7" dy="-2.9">0</tspan></text>
<text transform="translate(98.5 491.7) scale(0.93 1)" font-family='"Liberation Sans", Arial, sans-serif' font-size="9.8" text-anchor="middle" fill="#161616">10<tspan font-size="7" dy="-2.9">1</tspan></text>
<text transform="translate(50.5 435.4) scale(0.93 1)" font-family='"Liberation Sans", Arial, sans-serif' font-size="9.8" text-anchor="end" fill="#161616">10<tspan font-size="7" dy="-2.9">1</tspan></text>
<text transform="translate(144.1 491.7) scale(0.93 1)" font-family='"Liberation Sans", Arial, sans-serif' font-size="9.8" text-anchor="middle" fill="#161616">10<tspan font-size="7" dy="-2.9">2</tspan></text>
<text transform="translate(50.5 389.9) scale(0.93 1)" font-family='"Liberation Sans", Arial, sans-serif' font-size="9.8" text-anchor="end" fill="#161616">10<tspan font-size="7" dy="-2.9">2</tspan></text>
<text transform="translate(189.8 491.7) scale(0.93 1)" font-family='"Liberation Sans", Arial, sans-serif' font-size="9.8" text-anchor="middle" fill="#161616">10<tspan font-size="7" dy="-2.9">3</tspan></text>
<text transform="translate(50.5 344.3) scale(0.93 1)" font-family='"Liberation Sans", Arial, sans-serif' font-size="9.8" text-anchor="end" fill="#161616">10<tspan font-size="7" dy="-2.9">3</tspan></text>
<text transform="translate(235.5 491.7) scale(0.93 1)" font-family='"Liberation Sans", Arial, sans-serif' font-size="9.8" text-anchor="middle" fill="#161616">10<tspan font-size="7" dy="-2.9">4</tspan></text>
<text transform="translate(50.5 298.8) scale(0.93 1)" font-family='"Liberation Sans", Arial, sans-serif' font-size="9.8" text-anchor="end" fill="#161616">10<tspan font-size="7" dy="-2.9">4</tspan></text>
<text transform="translate(60 305) scale(0.8 1)" font-family='"Liberation Sans", Arial, sans-serif' font-size="10.5" font-weight="normal" text-anchor="start" fill="#1a1a1a">R2</text>
<text transform="translate(128.5 305) scale(0.8 1)" font-family='"Liberation Sans", Arial, sans-serif' font-size="10.5" font-weight="normal" text-anchor="start" fill="#1a1a1a">R3</text>
<text transform="translate(60 418.5) scale(0.8 1)" font-family='"Liberation Sans", Arial, sans-serif' font-size="10.5" font-weight="normal" text-anchor="start" fill="#1a1a1a">R4</text>
<text transform="translate(128.5 418.5) scale(0.8 1)" font-family='"Liberation Sans", Arial, sans-serif' font-size="10.5" font-weight="normal" text-anchor="start" fill="#1a1a1a">R5</text>
<text x="68" y="324" font-family='"Liberation Serif", "Times New Roman", serif' font-size="16.2" font-weight="bold" text-anchor="start" fill="#000">33.5%</text>
<text x="176" y="324" font-family='"Liberation Serif", "Times New Roman", serif' font-size="16.2" font-weight="bold" text-anchor="start" fill="#000">21.2%</text>
<text x="176" y="439" font-family='"Liberation Serif", "Times New Roman", serif' font-size="16.2" font-weight="bold" text-anchor="start" fill="#000">24.7%</text>
<g transform="translate(60 541)" filter="url(#soft)">
<path d="M85 9h0M52 10h0M61 10h0M63 10h0M90 10h0M111 10h0M53 11h0M80 11h0M98 11h0M109 11h0M57 12h0M101 12h0M106 12h0M108 12h0M18 13h0M87 13h0M102 13h0M106 13h0M116 13h0M26 14h0M46 14h1M62 14h0M71 14h0M76 14h0M83 14h0M93 14h0M95 14h0M102 14h0M105 14h0M108 14h0M110 14h0M113 14h0M130 14h0M5 15h0M37 15h0M42 15h0M46 15h0M63 15h0M81 15h0M88 15h0M90 15h0M94 15h4M100 15h1M106 15h0M108 15h0M113 15h0M56 16h0M66 16h0M69 16h0M76 16h0M78 16h0M81 16h0M88 16h0M91 16h0M93 16h5M100 16h0M103 16h0M105 16h3M111 16h0M121 16h0M129 16h0M54 17h0M62 17h0M76 17h4M82 17h0M86 17h9M97 17h0M100 17h0M103 17h4M110 17h0M112 17h0M117 17h0M10 18h0M12 18h0M16 18h0M24 18h0M32 18h0M37 18h0M51 18h0M55 18h0M65 18h1M69 18h2M78 18h3M83 18h2M87 18h0M89 18h5M96 18h2M100 18h1M103 18h0M105 18h4M114 18h0M29 19h0M55 19h0M58 19h0M63 19h1M66 19h0M68 19h1M71 19h0M73 19h1M76 19h15M93 19h14M114 19h2M120 19h0M9 20h0M19 20h0M41 20h0M59 20h0M61 20h0M63 20h0M67 20h1M70 20h5M77 20h0M79 20h1M82 20h17M101 20h6M109 20h2M118 20h0M30 21h0M49 21h0M52 21h0M64 21h0M66 21h0M69 21h0M72 21h0M74 21h3M79 21h0M81 21h17M100 21h4M106 21h5M113 21h0M116 21h0M118 21h0M127 21h0M130 21h0M26 22h0M29 22h0M36 22h0M39 22h0M54 22h0M60 22h0M62 22h1M65 22h1M68 22h2M72 22h5M79 22h0M81 22h32M116 22h0M118 22h0M28 23h0M38 23h0M46 23h1M56 23h0M59 23h0M63 23h1M66 23h19M87 23h0M89 23h5M96 23h0M98 23h7M107 23h5M114 23h0M120 23h0M125 23h0M13 24h0M37 24h0M45 24h0M51 24h1M54 24h1M60 24h2M64 24h0M66 24h3M71 24h16M89 24h0M94 24h0M97 24h2M101 24h6M109 24h2M115 24h0M117 24h1M120 24h0M28 25h0M57 25h0M59 25h2M63 25h0M65 25h6M73 25h5M81 25h2M93 25h1M96 25h5M103 25h13M120 25h0M122 25h0M124 25h0M126 25h0M130 25h0M14 26h0M16 26h0M40 26h0M49 26h0M51 26h1M55 26h2M60 26h16M78 26h1M86 26h0M89 26h0M94 26h1M98 26h2M102 26h10M114 26h1M118 26h2M124 26h1M127 26h0M19 27h1M29 27h0M41 27h0M45 27h0M51 27h0M56 27h0M58 27h3M63 27h11M78 27h0M83 27h0M94 27h0M97 27h0M102 27h1M105 27h9M117 27h2M122 27h0M126 27h0M28 28h0M36 28h0M38 28h0M46 28h0M53 28h3M58 28h1M61 28h0M63 28h6M73 28h0M75 28h0M99 28h0M102 28h0M105 28h7M114 28h3M127 28h0M12 29h0M18 29h0M20 29h0M32 29h0M34 29h0M41 29h0M45 29h0M48 29h1M54 29h4M60 29h8M70 29h0M92 29h0M98 29h0M101 29h2M105 29h11M118 29h0M122 29h0M129 29h1M140 29h0M49 30h1M54 30h0M57 30h1M60 30h6M81 30h0M101 30h0M103 30h12M117 30h3M8 31h0M32 31h0M39 31h0M43 31h0M46 31h0M49 31h1M52 31h1M55 31h14M77 31h0M101 31h0M103 31h14M120 31h0M126 31h0M25 32h0M37 32h0M45 32h0M48 32h0M50 32h1M53 32h0M55 32h0M57 32h11M101 32h2M105 32h7M114 32h0M116 32h4M129 32h0M31 33h0M38 33h0M42 33h0M46 33h0M48 33h0M50 33h4M56 33h1M60 33h4M66 33h1M69 33h0M100 33h16M121 33h1M13 34h0M28 34h0M36 34h0M43 34h0M47 34h3M53 34h2M57 34h5M64 34h0M67 34h0M77 34h0M85 34h1M95 34h0M97 34h0M100 34h13M116 34h0M119 34h0M130 34h0M134 34h0M13 35h0M18 35h0M24 35h0M35 35h0M40 35h0M50 35h0M54 35h12M68 35h0M87 35h0M100 35h10M112 35h2M116 35h0M14 36h0M37 36h0M41 36h2M46 36h0M49 36h17M72 36h0M95 36h0M98 36h9M109 36h3M115 36h0M28 37h1M40 37h0M44 37h7M53 37h10M65 37h0M70 37h0M72 37h0M85 37h1M89 37h2M93 37h0M95 37h3M100 37h6M108 37h1M112 37h0M114 37h1M120 37h0M4 38h0M15 38h0M36 38h0M39 38h0M42 38h0M44 38h2M49 38h0M52 38h14M78 38h0M81 38h0M84 38h1M87 38h0M89 38h0M93 38h17M112 38h3M124 38h0M3 39h0M17 39h0M20 39h0M22 39h0M29 39h0M31 39h0M39 39h0M47 39h17M68 39h0M72 39h0M76 39h1M81 39h1M84 39h0M86 39h0M88 39h3M93 39h8M103 39h2M108 39h3M113 39h1M117 39h0M18 40h0M27 40h0M35 40h1M38 40h0M40 40h0M42 40h22M67 40h2M72 40h0M77 40h22M101 40h3M110 40h1M113 40h0M10 41h0M18 41h0M25 41h0M27 41h0M31 41h1M36 41h5M43 41h2M47 41h23M72 41h1M75 41h6M83 41h17M102 41h3M107 41h0M112 41h0M115 41h0M7 42h0M22 42h0M27 42h1M30 42h0M36 42h2M40 42h13M55 42h4M61 42h27M90 42h7M102 42h1M106 42h0M108 42h0M111 42h0M10 43h0M13 43h0M15 43h0M17 43h1M31 43h0M35 43h0M37 43h1M40 43h11M53 43h27M82 43h11M95 43h3M101 43h0M105 43h0M124 43h0M1 44h0M5 44h0M9 44h0M14 44h0M16 44h0M19 44h0M21 44h0M25 44h0M29 44h0M34 44h1M37 44h0M40 44h2M44 44h49M95 44h2M104 44h0M106 44h0M110 44h0M112 44h0M1 45h0M3 45h0M6 45h0M12 45h3M17 45h0M19 45h0M21 45h1M25 45h1M28 45h4M35 45h2M39 45h38M79 45h5M86 45h0M88 45h0M90 45h2M95 45h0M99 45h2M103 45h0M111 45h0M1 46h0M11 46h0M13 46h1M16 46h0M22 46h0M25 46h12M39 46h25M66 46h3M71 46h5M81 46h0M84 46h1M87 46h1M92 46h0M96 46h0M103 46h0M105 46h0M112 46h0M116 46h0M3 47h0M8 47h4M14 47h1M17 47h0M19 47h7M28 47h1M31 47h30M63 47h6M71 47h2M77 47h1M80 47h1M84 47h1M88 47h2M98 47h0M109 47h0M112 47h1M1 48h2M6 48h6M14 48h0M17 48h2M21 48h0M23 48h9M34 48h26M62 48h1M65 48h1M72 48h0M74 48h0M76 48h2M83 48h0M89 48h0M91 48h0M96 48h0M112 48h0M1 49h0M6 49h1M10 49h3M15 49h43M60 49h0M62 49h1M65 49h5M72 49h0M74 49h1M77 49h0M81 49h0M85 49h0M89 49h0M91 49h0M93 49h0M95 49h0M110 49h0M1 50h2M5 50h4M12 50h1M15 50h22M39 50h24M65 50h0M67 50h0M71 50h0M75 50h0M78 50h0M84 50h0M87 50h0M92 50h0M106 50h0M114 50h0M1 51h1M4 51h4M10 51h28M41 51h18M62 51h0M65 51h1M68 51h0M70 51h0M74 51h0M81 51h0M92 51h0M102 51h0M1 52h17M20 52h6M28 52h8M38 52h18M58 52h1M62 52h0M64 52h1M67 52h0M72 52h0M74 52h1M79 52h0M81 52h0M83 52h0M87 52h0M97 52h1M108 52h0M1 53h18M22 53h1M25 53h0M30 53h9M41 53h9M53 53h4M61 53h0M67 53h0M106 53h0M115 53h0M1 54h0M3 54h11M18 54h0M21 54h2M26 54h0M29 54h8M39 54h14M55 54h0M57 54h0M67 54h2M71 54h0M78 54h1M82 54h0M89 54h0M99 54h0M1 55h13M16 55h0M19 55h1M24 55h4M30 55h2M34 55h16M52 55h2M64 55h1M67 55h0M75 55h0M1 56h0M3 56h7M15 56h1M22 56h2M27 56h1M30 56h25M58 56h0M60 56h0M63 56h0M66 56h1M84 56h1M101 56h2M1 57h1M4 57h5M11 57h0M17 57h1M20 57h0M23 57h1M27 57h5M34 57h2M38 57h9M49 57h3M56 57h1M60 57h0M76 57h0M96 57h0M106 57h0M114 57h1M3 58h7M12 58h2M17 58h1M20 58h3M25 58h1M28 58h22M52 58h2M56 58h0M60 58h0M65 58h0M71 58h0M76 58h1M79 58h0M86 58h0M91 58h1M104 58h0M4 59h1M7 59h2M13 59h0M16 59h0M18 59h1M21 59h0M23 59h19M44 59h4M52 59h2M56 59h0M77 59h0M81 59h0M83 59h0M85 59h0M93 59h0M111 59h0M114 59h0M4 60h7M13 60h1M16 60h9M27 60h13M42 60h5M49 60h1M53 60h0M66 60h0M68 60h0M71 60h0M75 60h0M91 60h0M94 60h0M102 60h0M116 60h0M4 61h33M39 61h0M41 61h3M46 61h1M56 61h0M66 61h0M75 61h0M85 61h0M88 61h2M95 61h0M99 61h0M105 61h0M2 62h0M4 62h30M36 62h2M40 62h1M43 62h0M45 62h1M59 62h0M65 62h0M69 62h1M74 62h0M78 62h0M96 62h0M101 62h0M3 63h4M9 63h13M24 63h4M31 63h1M36 63h6M44 63h0M47 63h0M80 63h0M87 63h0M91 63h0M101 63h0M104 63h0M2 64h16M20 64h3M26 64h1M30 64h0M35 64h1M40 64h0M42 64h0M44 64h1M49 64h0M67 64h1M79 64h1M85 64h0M87 64h0M95 64h0M97 64h0M103 64h0M2 65h3M8 65h2M12 65h7M22 65h7M33 65h4M39 65h0M41 65h1M45 65h0M59 65h0M69 65h0M81 65h0M85 65h0M91 65h0M97 65h0M108 65h0M115 65h0M1 66h10M13 66h5M20 66h2M29 66h0M32 66h2M51 66h0M55 66h0M65 66h0M75 66h0M80 66h0M82 66h0M84 66h0M88 66h0M90 66h0M92 66h0M1 67h10M13 67h0M15 67h0M18 67h1M21 67h0M23 67h0M25 67h0M28 67h0M32 67h2M40 67h0M66 67h0M79 67h2M83 67h0M87 67h0M99 67h0M102 67h0M106 67h0M112 67h1M1 68h0M4 68h2M9 68h1M14 68h0M16 68h2M20 68h0M26 68h0M29 68h0M37 68h0M41 68h0M43 68h0M65 68h1M73 68h0M76 68h0M78 68h2M82 68h0M86 68h4M93 68h0M97 68h0M101 68h1M104 68h0M111 68h1M1 69h0M3 69h0M6 69h1M10 69h1M13 69h2M17 69h2M31 69h0M33 69h0M61 69h0M67 69h0M73 69h0M77 69h0M79 69h0M83 69h3M88 69h0M113 69h0M1 70h0M5 70h0M9 70h0M11 70h0M17 70h0M19 70h0M26 70h0M60 70h0M68 70h0M70 70h1M73 70h0M79 70h0M82 70h0M88 70h0M92 70h0M96 70h1M99 70h0M102 70h0M107 70h0M109 70h0M1 71h0M8 71h0M13 71h1M18 71h0M23 71h0M44 71h0M48 71h0M54 71h0M58 71h0M74 71h0M77 71h0M79 71h1M85 71h0M89 71h1M94 71h0M98 71h0M103 71h1M107 71h0M112 71h1M1 72h0M3 72h0M9 72h0M15 72h1M18 72h0M28 72h0M57 72h0M81 72h5M88 72h0M90 72h0M95 72h0M98 72h0M1 73h0M7 73h0M9 73h0M42 73h0M72 73h4M83 73h0M91 73h1M94 73h0M1 74h0M70 74h0M74 74h0M76 74h2M83 74h0M85 74h0M87 74h1M90 74h0M97 74h1M100 74h0M107 74h0M28 75h0M68 75h0M77 75h0M82 75h0M85 75h0M88 75h0M93 75h0M98 75h0M109 75h0M66 76h1M75 76h0M80 76h0M82 76h3M88 76h0M90 76h0M92 76h0M94 76h1M100 76h0M105 76h0M31 77h1M68 77h1M75 77h0M78 77h2M82 77h0M84 77h0M86 77h4M93 77h0M96 77h0M107 77h0M115 77h0M65 78h0M78 78h1M81 78h2M85 78h2M92 78h3M97 78h1M100 78h0M102 78h0M104 78h1M63 79h0M67 79h0M70 79h0M72 79h0M74 79h0M81 79h0M83 79h4M91 79h0M93 79h0M73 80h0M76 80h0M79 80h2M83 80h2M87 80h0M89 80h2M93 80h0M104 80h0M106 80h0M117 80h0M18 81h0M40 81h0M47 81h0M68 81h0M72 81h1M76 81h1M79 81h0M81 81h0M83 81h4M89 81h0M92 81h6M100 81h0M105 81h0M6 82h0M62 82h0M68 82h1M71 82h1M74 82h4M80 82h10M94 82h1M97 82h0M99 82h0M101 82h1M2 83h0M26 83h0M42 83h0M68 83h0M71 83h0M75 83h1M78 83h2M82 83h0M85 83h0M87 83h1M90 83h1M93 83h0M95 83h6M107 83h0M109 83h0M111 83h0M71 84h0M73 84h0M75 84h0M77 84h11M90 84h5M97 84h0M102 84h1M105 84h0M108 84h0M113 84h0M58 85h0M64 85h0M69 85h0M71 85h2M76 85h0M79 85h6M87 85h1M91 85h1M94 85h1M97 85h1M101 85h2M32 86h0M54 86h0M66 86h0M68 86h0M71 86h4M78 86h8M90 86h0M93 86h0M96 86h1M101 86h0M108 86h0M45 87h0M59 87h0M63 87h0M68 87h1M74 87h1M77 87h0M79 87h6M91 87h1M95 87h1M101 87h1M104 87h0M27 88h0M54 88h0M65 88h0M69 88h0M71 88h0M73 88h0M76 88h4M82 88h4M88 88h4M95 88h1M98 88h0M100 88h1M105 88h0M54 89h0M59 89h0M66 89h0M69 89h21M92 89h0M96 89h0M98 89h0M101 89h2M107 89h0M50 90h0M61 90h0M63 90h4M70 90h12M84 90h7M93 90h6M51 91h0M58 91h0M62 91h0M65 91h1M68 91h0M70 91h14M86 91h6M94 91h1M97 91h0M99 91h0M51 92h0M59 92h1M62 92h1M66 92h1M69 92h4M75 92h0M77 92h1M80 92h7M90 92h8M100 92h0M102 92h0M104 92h1M21 93h0M39 93h0M48 93h0M52 93h0M60 93h0M62 93h1M66 93h4M72 93h7M81 93h2M85 93h1M88 93h0M92 93h0M94 93h5M102 93h1M105 93h0M22 94h0M51 94h0M58 94h0M60 94h1M64 94h1M67 94h4M73 94h4M80 94h9M91 94h1M94 94h0M96 94h0M99 94h0M101 94h0M106 94h0M112 94h0M18 95h0M49 95h0M54 95h0M56 95h0M58 95h0M60 95h4M66 95h5M73 95h9M84 95h0M86 95h5M93 95h1M97 95h0M105 95h0M3 96h0M50 96h0M55 96h0M59 96h2M63 96h14M79 96h0M81 96h5M88 96h1M93 96h0M96 96h2M101 96h2M41 97h0M54 97h0M59 97h1M62 97h19M84 97h5M91 97h1M95 97h1M99 97h0M104 97h2M45 98h0M52 98h4M59 98h19M80 98h4M86 98h1M89 98h3M97 98h0M99 98h1M108 98h0M33 99h0M41 99h0M47 99h0M50 99h1M53 99h2M58 99h18M78 99h1M81 99h6M89 99h1M92 99h2M96 99h0M110 99h0M43 100h0M49 100h1M53 100h0M55 100h2M60 100h0M62 100h26M90 100h2M94 100h0M96 100h2M100 100h0M43 101h0M46 101h1M49 101h2M53 101h0M55 101h1M58 101h5M65 101h6M73 101h11M86 101h1M89 101h4M95 101h4M114 101h0M42 102h0M47 102h2M51 102h1M54 102h0M56 102h22M81 102h3M86 102h3M91 102h6M101 102h1M108 102h1M111 102h0M45 103h1M48 103h1M52 103h1M55 103h27M84 103h0M87 103h1M90 103h0M92 103h1M95 103h0M98 103h0M102 103h1M31 104h0M45 104h0M48 104h6M56 104h0M58 104h27M87 104h2M91 104h0M94 104h1M99 104h0M103 104h1M48 105h1M52 105h21M75 105h4M81 105h4M87 105h2M91 105h1M94 105h1M97 105h1M32 106h0M36 106h0M41 106h6M49 106h39M90 106h0M92 106h1M96 106h0M102 106h1M14 107h0M41 107h2M45 107h2M49 107h33M85 107h0M87 107h6M95 107h0M99 107h0M2 108h0M32 108h1M36 108h1M39 108h0M41 108h0M45 108h1M48 108h0M50 108h21M73 108h1M76 108h6M84 108h4M90 108h0M93 108h1M99 108h0M109 108h0M112 108h0M4 109h0M30 109h1M34 109h0M37 109h2M41 109h4M47 109h2M51 109h13M67 109h6M75 109h0M77 109h7M86 109h4M93 109h2M101 109h1M21 110h0M24 110h0M29 110h0M33 110h0M35 110h0M38 110h1M45 110h28M75 110h3M81 110h3M89 110h0M91 110h0M93 110h0M95 110h4M8 111h0M27 111h0M30 111h0M34 111h0M36 111h2M40 111h3M45 111h0M47 111h7M56 111h20M78 111h3M83 111h0M86 111h6M94 111h0M98 111h0M100 111h0M28 112h1M31 112h0M34 112h6M42 112h0M44 112h29M76 112h1M79 112h5M86 112h0M88 112h1M91 112h0M97 112h2M16 113h0M26 113h0M28 113h0M34 113h13M49 113h20M72 113h0M75 113h0M78 113h0M82 113h1M85 113h0M88 113h2M92 113h1M96 113h0M102 113h0M22 114h1M29 114h0M35 114h0M38 114h2M42 114h2M46 114h23M71 114h1M74 114h1M77 114h1M80 114h0M82 114h0M84 114h3M93 114h0M98 114h0M103 114h0M10 115h0M24 115h0M27 115h0M29 115h0M31 115h0M35 115h0M37 115h0M40 115h27M69 115h2M73 115h1M76 115h2M81 115h0M84 115h2M89 115h1M93 115h0M98 115h1M3 116h0M21 116h0M24 116h0M26 116h0M31 116h3M38 116h19M59 116h9M70 116h5M77 116h3M82 116h0M85 116h2M89 116h1M93 116h1M102 116h0M11 117h0M14 117h0M22 117h3M27 117h0M29 117h1M32 117h2M36 117h2M40 117h27M69 117h3M76 117h2M80 117h1M83 117h3M88 117h1M91 117h1M100 117h0M112 117h0M21 118h0M25 118h0M28 118h3M34 118h31M67 118h2M71 118h1M75 118h0M79 118h0M81 118h0M83 118h0M85 118h1M90 118h0M92 118h0M96 118h0M98 118h0M101 118h0M21 119h0M23 119h0M25 119h0M28 119h0M33 119h38M77 119h0M79 119h0M82 119h0M87 119h2M93 119h0M97 119h0M10 120h0M12 120h0M22 120h0M27 120h0M30 120h0M32 120h9M43 120h18M63 120h10M76 120h2M80 120h2M86 120h2M90 120h0M95 120h2M104 120h0M109 120h0M20 121h1M23 121h2M27 121h0M30 121h1M33 121h12M47 121h10M59 121h9M71 121h3M78 121h1M82 121h1M85 121h0M87 121h0M91 121h0M96 121h0M2 122h0M12 122h0M16 122h1M19 122h0M23 122h1M26 122h4M32 122h0M35 122h29M67 122h0M69 122h0M71 122h1M74 122h0M76 122h1M79 122h0M81 122h0M84 122h0M87 122h0M89 122h0M91 122h4M100 122h0M104 122h0M110 122h2M8 123h0M13 123h0M18 123h2M24 123h0M26 123h34M62 123h2M66 123h3M72 123h0M75 123h3M80 123h3M86 123h0M88 123h0M90 123h0M99 123h0M106 123h0M108 123h1M1 124h0M19 124h0M22 124h1M27 124h2M31 124h25M58 124h6M66 124h0M68 124h0M70 124h0M77 124h0M80 124h0M83 124h0M87 124h2M91 124h4M102 124h0M17 125h0M20 125h0M22 125h0M25 125h0M27 125h3M32 125h34M68 125h0M70 125h0M72 125h3M77 125h0M80 125h0M82 125h1M86 125h0M88 125h0M91 125h0M94 125h3M109 125h0M4 126h0M15 126h1M18 126h2M22 126h33M57 126h0M59 126h0M61 126h2M65 126h0M68 126h0M74 126h1M79 126h2M83 126h1M86 126h0M90 126h2M94 126h1M15 127h0M17 127h0M20 127h0M22 127h0M25 127h34M63 127h0M65 127h1M73 127h0M75 127h1M80 127h0M84 127h1M88 127h1M92 127h1M9 128h1M15 128h2M19 128h3M24 128h28M54 128h6M62 128h0M64 128h2M68 128h0M73 128h0M75 128h1M82 128h1M85 128h3M90 128h0M92 128h0M97 128h0M4 129h0M10 129h0M13 129h0M16 129h0M18 129h0M20 129h17M39 129h23M64 129h0M69 129h0M71 129h0M79 129h4M87 129h2M92 129h1M95 129h0M11 130h0M13 130h9M24 130h10M36 130h5M43 130h4M49 130h6M57 130h3M63 130h0M65 130h0M77 130h0M81 130h3M88 130h0M90 130h0M93 130h0M99 130h0M105 130h0M5 131h0M9 131h0M11 131h1M14 131h11M27 131h7M36 131h2M40 131h16M58 131h0M60 131h0M62 131h1M70 131h0M79 131h0M81 131h0M88 131h3M93 131h0M3 132h0M6 132h0M13 132h1M16 132h1M19 132h16M39 132h1M42 132h0M44 132h9M58 132h0M60 132h1M66 132h0M68 132h0M71 132h0M73 132h0M75 132h2M80 132h0M82 132h1M85 132h0M88 132h1M98 132h0M10 133h2M14 133h4M20 133h14M36 133h6M44 133h11M57 133h3M63 133h0M65 133h1M70 133h2M80 133h0M82 133h0M85 133h0M87 133h0M112 133h0M3 134h0M5 134h1M9 134h0M12 134h1M15 134h1M18 134h1M22 134h14M39 134h2M44 134h7M53 134h2M58 134h2M68 134h1M71 134h0M75 134h0M79 134h0M81 134h0M83 134h1M91 134h0M96 134h0M99 134h0M1 135h0M12 135h1M15 135h5M22 135h10M34 135h4M40 135h10M52 135h3M57 135h3M63 135h0M72 135h0M74 135h0M76 135h0M85 135h0M89 135h0M94 135h0M107 135h0M15 136h8M25 136h4M31 136h7M40 136h13M56 136h0M58 136h0M64 136h0M86 136h0M3 137h0M6 137h1M12 137h0M14 137h13M29 137h0M31 137h1M35 137h0M37 137h0M40 137h0M42 137h10M54 137h0M56 137h0M58 137h0M63 137h2M72 137h0M75 137h0M79 137h1M82 137h1M85 137h0M88 137h0M91 137h0M93 137h1M6 138h0M9 138h1M13 138h14M30 138h0M32 138h1M35 138h0M37 138h0M40 138h14M56 138h1M62 138h0M65 138h0M71 138h0M77 138h0M82 138h0M84 138h1M89 138h0M94 138h1M97 138h0M1 139h0M5 139h0M9 139h0M12 139h4M18 139h4M24 139h0M26 139h0M30 139h1M33 139h5M40 139h8M50 139h2M55 139h2M62 139h0M78 139h0M82 139h0M84 139h0M97 139h0M109 139h0M113 139h0M3 140h0M6 140h0M8 140h1M12 140h14M28 140h1M32 140h2M36 140h0M38 140h13M53 140h3M59 140h0M82 140h0M85 140h2M91 140h0M99 140h0M101 140h0M1 141h0M9 141h0M12 141h7M21 141h4M27 141h0M29 141h1M32 141h1M35 141h2M39 141h16M61 141h0M63 141h0M77 141h1M82 141h1M87 141h3M95 141h0M5 142h0M8 142h1M11 142h15M28 142h1M35 142h2M39 142h9M50 142h2M55 142h0M63 142h0M65 142h0M73 142h0M84 142h0M87 142h0M1 143h1M6 143h0M9 143h17M28 143h3M33 143h18M53 143h0M55 143h0M57 143h0M59 143h0M78 143h0M80 143h2M85 143h1M90 143h0M102 143h0M1 144h0M6 144h0M9 144h18M29 144h0M31 144h2M35 144h1M38 144h13M53 144h0M59 144h0M62 144h0M70 144h0M75 144h1M78 144h0M80 144h0M84 144h0M89 144h0M5 145h1M8 145h20M30 145h17M49 145h0M52 145h1M56 145h0M62 145h0M67 145h0M72 145h0M84 145h0M87 145h1M101 145h0M8 146h0M12 146h11M25 146h4M31 146h1M34 146h3M39 146h8M49 146h0M52 146h1M62 146h0M95 146h0M1 147h0M6 147h1M9 147h1M12 147h10M25 147h1M28 147h0M30 147h2M35 147h14M51 147h2M55 147h0M60 147h0M77 147h0M82 147h0M93 147h1M111 147h0M115 147h0M3 148h0M6 148h0M9 148h7M18 148h8M28 148h3M33 148h14M49 148h1M52 148h0M70 148h0M79 148h0M86 148h1M93 148h0M96 148h0M1 149h0M4 149h6M12 149h0M14 149h34M51 149h0M63 149h0M72 149h2M77 149h0M82 149h0M89 149h0M1 150h0M3 150h0M5 150h4M11 150h15M28 150h12M42 150h2M46 150h1M50 150h0M68 150h0M72 150h0M75 150h0M88 150h0M97 150h0M5 151h1M9 151h34M45 151h2M49 151h1M52 151h0M72 151h0M84 151h0M86 151h0M98 151h0M1 152h1M6 152h1M9 152h18M29 152h15M47 152h0M49 152h1M52 152h0M54 152h0M87 152h0M90 152h0M95 152h0M1 153h0M3 153h0M5 153h3M11 153h30M43 153h5M50 153h0M55 153h0M74 153h0M79 153h1M82 153h0M87 153h0M1 154h0M3 154h0M5 154h0M7 154h8M17 154h21M42 154h0M44 154h0M46 154h2M52 154h0M61 154h0M71 154h0M76 154h0M96 154h0M1 155h0M4 155h1M8 155h5M15 155h25M42 155h1M46 155h2M51 155h0M59 155h0M72 155h0M83 155h0M87 155h0M1 156h0M3 156h1M7 156h1M10 156h28M40 156h0M42 156h0M45 156h0M47 156h2M51 156h0M73 156h0M83 156h0M1 157h1M5 157h0M8 157h31M41 157h0M43 157h2M48 157h0M55 157h0M80 157h1M95 157h0M115 157h0M1 158h0M5 158h1M8 158h1M11 158h17M30 158h7M39 158h2M44 158h0M46 158h1M104 158h0M1 159h1M4 159h0M7 159h5M14 159h0M16 159h15M33 159h5M40 159h0M42 159h0M44 159h1M47 159h0M1 160h2M5 160h1M9 160h20M31 160h2M35 160h2M39 160h0M41 160h1M46 160h0M58 160h0M71 160h0M76 160h0M78 160h0M80 160h0M96 160h0M1 161h3M8 161h0M10 161h3M16 161h9M27 161h4M33 161h2M39 161h1M42 161h0M50 161h0M79 161h0M85 161h0M87 161h0M1 162h3M6 162h5M13 162h22M39 162h3M46 162h0M73 162h0M89 162h0M1 163h0M4 163h1M7 163h0M9 163h3M14 163h6M22 163h2M26 163h11M40 163h1M45 163h0M89 163h0M3 164h0M6 164h0M8 164h11M21 164h8M34 164h0M38 164h0M51 164h0M53 164h0M60 164h0M83 164h0M88 164h0M2 165h0M5 165h1M12 165h0M14 165h0M16 165h3M21 165h11M34 165h0M38 165h1M43 165h0M48 165h0M50 165h1M65 165h0M67 165h1M80 165h0M1 166h1M7 166h0M9 166h1M12 166h0M15 166h12M29 166h2M35 166h0M41 166h0M43 166h0M45 166h0M79 166h0M95 166h0M114 166h0M1 167h0M4 167h0M6 167h3M11 167h0M13 167h6M21 167h5M31 167h0M39 167h0M53 167h0M74 167h0M88 167h0M103 167h0M1 168h0M6 168h0M8 168h3M13 168h1M17 168h6M27 168h0M29 168h2M33 168h1M36 168h0M38 168h0M41 168h0M44 168h0M58 168h0M84 168h0M102 168h0M5 169h2M10 169h0M13 169h0M15 169h0M17 169h1M20 169h1M23 169h0M26 169h0M29 169h2M33 169h1M37 169h0M1 170h1M7 170h0M9 170h7M18 170h1M21 170h0M24 170h1M27 170h2M31 170h0M41 170h0M1 171h0M3 171h0M5 171h0M8 171h2M12 171h0M15 171h1M20 171h0M22 171h0M29 171h0M31 171h0M36 171h0M50 171h0M1 172h0M3 172h2M7 172h2M11 172h2M16 172h0M18 172h0M20 172h2M24 172h1M31 172h0M33 172h1M1 173h0M7 173h0M10 173h1M15 173h5M23 173h0M25 173h2M32 173h0M34 173h0M89 173h0M98 173h0M110 173h0M1 174h1M4 174h0M7 174h1M11 174h0M13 174h3M19 174h0M21 174h0M33 174h0M104 174h0M1 175h0M4 175h0M7 175h0M9 175h2M15 175h0M19 175h0M25 175h0M28 175h0M30 175h0M32 175h1M4 176h1M8 176h0M11 176h0M14 176h2M22 176h0M79 176h0M1 177h0M6 177h0M8 177h0M21 177h0M24 177h0M26 177h0M29 177h0M32 177h0M40 177h0M1 178h0M4 178h0M7 178h1M10 178h0M19 178h0M21 178h0M1 179h0M12 179h0M21 179h0M29 179h0M4 180h1M10 180h0M14 180h0M26 180h0M1 181h1M4 181h1M10 181h0M12 181h2M16 181h5M23 181h0M29 181h0" stroke="#7c7c7c" stroke-width="1.6" stroke-linecap="round" fill="none" transform="translate(0.5 0.5)"/>
<path d="M86 23h0M88 23h0M95 23h0M97 23h0M88 24h0M90 24h3M95 24h1M100 24h0M72 25h0M79 25h1M84 25h1M87 25h5M95 25h0M102 25h0M77 26h0M80 26h1M83 26h2M87 26h1M90 26h3M96 26h1M101 26h0M75 27h2M79 27h3M86 27h2M90 27h3M95 27h1M98 27h3M104 27h0M70 28h2M74 28h0M76 28h6M85 28h0M88 28h1M91 28h1M95 28h3M100 28h1M103 28h1M69 29h0M71 29h7M82 29h0M84 29h0M87 29h1M90 29h0M94 29h2M99 29h1M104 29h0M67 30h9M79 30h1M83 30h1M89 30h0M91 30h0M95 30h5M102 30h0M70 31h2M74 31h1M81 31h2M86 31h0M90 31h0M92 31h0M95 31h5M102 31h0M69 32h3M74 32h0M78 32h0M80 32h0M82 32h0M86 32h0M89 32h0M95 32h5M104 32h0M65 33h0M68 33h0M70 33h2M76 33h0M79 33h0M83 33h0M85 33h0M92 33h0M94 33h0M98 33h1M63 34h0M65 34h1M68 34h0M70 34h0M73 34h1M76 34h0M78 34h0M80 34h0M83 34h1M89 34h0M93 34h0M96 34h0M98 34h1M67 35h0M69 35h1M73 35h1M77 35h0M83 35h2M88 35h11M67 36h4M73 36h0M75 36h1M78 36h1M82 36h0M84 36h2M89 36h3M94 36h0M96 36h1M64 37h0M66 37h3M71 37h0M73 37h0M75 37h1M78 37h0M81 37h1M84 37h0M87 37h1M92 37h0M94 37h0M67 38h3M72 38h5M79 38h1M82 38h1M86 38h0M90 38h2M65 39h2M69 39h2M73 39h2M78 39h2M83 39h0M85 39h0M87 39h0M92 39h0M65 40h1M70 40h1M73 40h3M71 41h0M74 41h0M82 41h0M38 50h0M39 51h1M19 52h0M27 52h0M37 52h0M20 53h1M24 53h0M26 53h3M40 53h0M15 54h2M19 54h1M24 54h1M27 54h1M38 54h0M15 55h0M17 55h1M21 55h2M29 55h0M33 55h0M11 56h1M14 56h0M17 56h4M25 56h1M29 56h0M3 57h0M10 57h0M12 57h4M19 57h0M21 57h1M25 57h1M33 57h0M37 57h0M1 58h1M11 58h0M15 58h1M19 58h0M24 58h0M27 58h0M2 59h1M6 59h0M10 59h2M14 59h1M17 59h0M20 59h0M22 59h0M1 60h2M12 60h0M15 60h0M1 61h2M1 62h0M3 62h0M1 63h1M1 64h0M1 65h0M38 129h0M35 130h0M42 130h0M35 131h0M39 131h0M36 132h2M41 132h0M43 132h0M35 133h0M43 133h0M37 134h1M42 134h1M39 135h0M30 136h0M39 136h0M28 137h0M30 137h0M33 137h1M36 137h0M38 137h1M41 137h0M28 138h1M31 138h0M34 138h0M36 138h0M38 138h1M23 139h0M25 139h0M27 139h2M32 139h0M39 139h0M27 140h0M30 140h1M35 140h0M37 140h0M26 141h0M28 141h0M31 141h0M38 141h0M27 142h0M30 142h4M38 142h0M27 143h0M32 143h0M28 144h0M30 144h0M34 144h0M37 144h0M29 145h0M24 146h0M30 146h0M33 146h0M38 146h0M23 147h1M27 147h0M29 147h0M33 147h1M27 148h0M32 148h0M27 150h0M28 152h0" stroke="#969696" stroke-width="1.6" stroke-linecap="round" fill="none" transform="translate(0.5 0.5)"/>
<path d="M86 25h0M82 26h0M84 27h1M89 27h0M83 28h1M86 28h1M90 28h0M93 28h1M79 29h2M83 29h0M85 29h1M89 29h0M91 29h0M93 29h0M97 29h0M77 30h1M82 30h0M85 30h3M90 30h0M92 30h2M73 31h0M76 31h0M78 31h2M84 31h1M87 31h2M91 31h0M93 31h1M73 32h0M75 32h2M79 32h0M81 32h0M83 32h2M87 32h1M90 32h4M73 33h2M77 33h1M80 33h2M84 33h0M86 33h5M93 33h0M95 33h2M69 34h0M71 34h1M75 34h0M79 34h0M81 34h1M87 34h1M90 34h2M94 34h0M71 35h1M75 35h1M78 35h4M86 35h0M74 36h0M77 36h0M80 36h1M83 36h0M87 36h1M93 36h0M74 37h0M77 37h0M79 37h1M83 37h0M71 38h0M13 56h0M1 59h0" stroke="#adadad" stroke-width="1.6" stroke-linecap="round" fill="none" transform="translate(0.5 0.5)"/>
</g>
<rect x="60" y="541" width="180.5" height="181.5" fill="none" stroke="#a6a6a6" stroke-width="1.2"/>
<path d="M60 653.5H240.5" stroke="#8a8a8a" stroke-width="1.0" fill="none" style="mix-blend-mode:multiply"/>
<path d="M127.5 541V722.5" stroke="#8a8a8a" stroke-width="1.0" fill="none" style="mix-blend-mode:multiply"/>
<path d="M60 722.5v3.6M60 722.5h-3.6M73.6 722.5v2.2M60 708.8h-2.2M81.5 722.5v2.2M60 700.9h-2.2M87.2 722.5v2.2M60 695.2h-2.2M91.5 722.5v2.2M60 690.8h-2.2M95.1 722.5v2.2M60 687.2h-2.2M98.1 722.5v2.2M60 684.2h-2.2M100.8 722.5v2.2M60 681.5h-2.2M103.1 722.5v2.2M60 679.2h-2.2M105.1 722.5v3.6M60 677.1h-3.6M118.7 722.5v2.2M60 663.5h-2.2M126.7 722.5v2.2M60 655.5h-2.2M132.3 722.5v2.2M60 649.8h-2.2M136.7 722.5v2.2M60 645.4h-2.2M140.2 722.5v2.2M60 641.8h-2.2M143.3 722.5v2.2M60 638.8h-2.2M145.9 722.5v2.2M60 636.1h-2.2M148.2 722.5v2.2M60 633.8h-2.2M150.2 722.5v3.6M60 631.8h-3.6M163.8 722.5v2.2M60 618.1h-2.2M171.8 722.5v2.2M60 610.1h-2.2M177.4 722.5v2.2M60 604.4h-2.2M181.8 722.5v2.2M60 600h-2.2M185.4 722.5v2.2M60 596.4h-2.2M188.4 722.5v2.2M60 593.4h-2.2M191 722.5v2.2M60 590.8h-2.2M193.3 722.5v2.2M60 588.5h-2.2M195.4 722.5v3.6M60 586.4h-3.6M209 722.5v2.2M60 572.7h-2.2M216.9 722.5v2.2M60 564.7h-2.2M222.5 722.5v2.2M60 559.1h-2.2M226.9 722.5v2.2M60 554.7h-2.2M230.5 722.5v2.2M60 551.1h-2.2M233.5 722.5v2.2M60 548h-2.2M236.1 722.5v2.2M60 545.4h-2.2M238.4 722.5v2.2M60 543.1h-2.2M240.5 722.5v3.6M60 541h-3.6" stroke="#6a6a6a" stroke-width="0.9" fill="none"/>
<text transform="translate(56.5 737.8) scale(0.93 1)" font-family='"Liberation Sans", Arial, sans-serif' font-size="9.8" text-anchor="middle" fill="#161616">10<tspan font-size="7" dy="-2.9">0</tspan></text>
<text transform="translate(54.2 727) scale(0.93 1)" font-family='"Liberation Sans", Arial, sans-serif' font-size="9.8" text-anchor="end" fill="#161616">10<tspan font-size="7" dy="-2.9">0</tspan></text>
<text transform="translate(101.6 737.8) scale(0.93 1)" font-family='"Liberation Sans", Arial, sans-serif' font-size="9.8" text-anchor="middle" fill="#161616">10<tspan font-size="7" dy="-2.9">1</tspan></text>
<text transform="translate(54.2 681.6) scale(0.93 1)" font-family='"Liberation Sans", Arial, sans-serif' font-size="9.8" text-anchor="end" fill="#161616">10<tspan font-size="7" dy="-2.9">1</tspan></text>
<text transform="translate(146.8 737.8) scale(0.93 1)" font-family='"Liberation Sans", Arial, sans-serif' font-size="9.8" text-anchor="middle" fill="#161616">10<tspan font-size="7" dy="-2.9">2</tspan></text>
<text transform="translate(54.2 636.2) scale(0.93 1)" font-family='"Liberation Sans", Arial, sans-serif' font-size="9.8" text-anchor="end" fill="#161616">10<tspan font-size="7" dy="-2.9">2</tspan></text>
<text transform="translate(191.9 737.8) scale(0.93 1)" font-family='"Liberation Sans", Arial, sans-serif' font-size="9.8" text-anchor="middle" fill="#161616">10<tspan font-size="7" dy="-2.9">3</tspan></text>
<text transform="translate(54.2 590.9) scale(0.93 1)" font-family='"Liberation Sans", Arial, sans-serif' font-size="9.8" text-anchor="end" fill="#161616">10<tspan font-size="7" dy="-2.9">3</tspan></text>
<text transform="translate(237 737.8) scale(0.93 1)" font-family='"Liberation Sans", Arial, sans-serif' font-size="9.8" text-anchor="middle" fill="#161616">10<tspan font-size="7" dy="-2.9">4</tspan></text>
<text transform="translate(54.2 545.5) scale(0.93 1)" font-family='"Liberation Sans", Arial, sans-serif' font-size="9.8" text-anchor="end" fill="#161616">10<tspan font-size="7" dy="-2.9">4</tspan></text>
<text transform="translate(64 552) scale(0.8 1)" font-family='"Liberation Sans", Arial, sans-serif' font-size="10.5" font-weight="normal" text-anchor="start" fill="#1a1a1a">R2</text>
<text transform="translate(132 552) scale(0.8 1)" font-family='"Liberation Sans", Arial, sans-serif' font-size="10.5" font-weight="normal" text-anchor="start" fill="#1a1a1a">R3</text>
<text transform="translate(64 665) scale(0.8 1)" font-family='"Liberation Sans", Arial, sans-serif' font-size="10.5" font-weight="normal" text-anchor="start" fill="#1a1a1a">R4</text>
<text transform="translate(132 665) scale(0.8 1)" font-family='"Liberation Sans", Arial, sans-serif' font-size="10.5" font-weight="normal" text-anchor="start" fill="#1a1a1a">R5</text>
<text x="75" y="569" font-family='"Liberation Serif", "Times New Roman", serif' font-size="16.2" font-weight="bold" text-anchor="start" fill="#000">23%</text>
<text x="174.5" y="572" font-family='"Liberation Serif", "Times New Roman", serif' font-size="16.2" font-weight="bold" text-anchor="start" fill="#000">37.4%</text>
<text x="174" y="684" font-family='"Liberation Serif", "Times New Roman", serif' font-size="16.2" font-weight="bold" text-anchor="start" fill="#000">36.2%</text>
<path d="M276.5 228.5L276.5 213.6h1L277.5 213.4h1L278.5 211.4h1L279.5 208.7h1L280.5 209h1L281.5 206.6h1L282.5 203.4h1L283.5 203.1h1L284.5 200.3h1L285.5 198.1h1L286.5 196.1h1L287.5 190.3h1L288.5 185.5h1L289.5 182.9h1L290.5 180.7h1L291.5 174.5h1L292.5 170.1h1L293.5 166.6h1L294.5 161.2h1L295.5 158.6h1L296.5 156.7h1L297.5 147.6h1L298.5 148.3h1L299.5 138.6h1L300.6 138.8h1L301.6 130.4h1L302.6 133.4h1L303.6 122.4h1L304.6 115.8h1L305.6 126h1L306.6 118.1h1L307.6 122.5h1L308.6 111h1L309.6 114.9h1L310.6 109.3h1L311.6 118.6h1L312.6 113.9h1L313.6 113.1h1L314.6 109.1h1L315.6 115h1L316.6 105.4h1L317.6 120h1L318.6 119.6h1L319.6 123.8h1L320.6 130.1h1L321.6 129.9h1L322.6 141h1L323.6 151.8h1L324.6 152.3h1L325.6 160.8h1L326.6 164.1h1L327.6 170.2h1L328.6 181.8h1L329.6 184.7h1L330.6 195.3h1L331.6 199.1h1L332.6 204.1h1L333.6 207.3h1L334.6 212.3h1L335.6 216.5h1L336.6 218h1L337.6 219.6h1L338.6 222.3h1L339.6 223.1h1L340.6 223.4h1L341.6 223.5h1L342.6 224.3h1L343.6 225.3h1L344.6 225.1h1L345.6 226.1h1L346.6 226.3h1L347.6 226.3h1L348.7 226.1h1L349.7 226h1L350.7 226.5h1L351.7 226.7h1L352.7 226h1L353.7 226.6h1L354.7 226.8h1L355.7 226.2h1L356.7 226.7h1L357.7 226.8h1L358.7 226.6h1L359.7 225.8h1L360.7 226.6h1L361.7 226.6h1L362.7 227.2h1L363.7 226.7h1L364.7 226.8h1L365.7 227.1h1L366.7 227.3h1L367.7 227h1L368.7 227.1h1L369.7 226.2h1L370.7 227h1L371.7 227h1L372.7 227h1L373.7 226.9h1L374.7 227.1h1L375.7 227.5h1L376.7 227.5h1L377.7 227.4h1L378.7 227.4h1L379.7 227.3h1L380.7 227.1h1L381.7 227.7h1L382.7 227.7h1L383.7 227.7h1L384.7 227.2h1L385.7 227.6h1L386.7 225.9h1L387.7 227.4h1L388.7 228h1L389.7 228h1L390.7 228.1h1L391.7 228.1h1L392.7 228.1h1L393.7 228.1h1L394.7 228.2h1L395.8 228.2h1L396.8 228.2h1L397.8 228.2h1L398.8 228.3h1L399.8 228.3h1L400.8 228.3h1L401.8 228.3h1L402.8 228.3h1L403.8 228.3h1L404.8 228.4h1L405.8 228.4h1L406.8 228.4h1L407.8 228.4h1L408.8 228.4h1L409.8 228.4h1L410.8 228.5h1L411.8 228.5h1L412.8 228.5h1L413.8 228.5h1L414.8 228.5h1L415.8 228.5h1L416.8 228.5h1L417.8 228.5h1L418.8 228.5h1L419.8 228.5h1L420.8 228.5h1L421.8 228.5h1L422.8 228.5h1L423.8 228.5h1L424.8 228.5h1L425.8 228.5h1L426.8 228.5h1L427.8 228.5h1L428.8 228.5h1L429.8 228.5h1L430.8 228.5h1L431.8 228.5h1L432.8 228.5h1L433.8 228.5h1L434.8 228.5h1L435.8 228.5h1L436.8 228.5h1L437.8 228.5h1L438.8 228.5h1L439.8 228.5h1L440.8 228.5h1L441.8 228.5h1L442.9 228.5h1L443.9 228.5h1L444.9 228.5h1L445.9 228.5h1L446.9 228.5h1L447.9 228.5h1L448.9 228.5h1L449.9 228.5h1L450.9 228.5h1L451.9 228.5h1L452.9 228.5h1L453.9 228.5h1L454.9 228.5h1L455.9 228.5h1L456.9 228.5h1L457.9 228.5h1L458.9 228.5h1L459.9 228.5h1L460.9 228.5h1L461.9 228.5h1L462.9 228.5h1L463.9 228.5h1L464.9 228.5h1L465.9 228.5h1L466.9 228.5h1L467.9 228.5h1L468.9 228.5h1L469.9 228.5h1L470.9 228.5h1L471.9 228.5h1L472.9 228.5h1L473.9 228.5h1L474.9 228.5h1L475.9 228.5h1L476.9 228.5h1L477.9 228.5h1L478.9 228.5h1L479.9 228.5h1L480.9 228.5h1L481.9 228.5h1L482.9 228.5h1L483.9 228.5h1L484.9 228.5h1L485.9 228.5h1L486.9 228.5h1L487.9 228.5h1L488.9 228.5h1L489.9 228.5h1L491 228.5h1L492 228.5h1L493 228.5h1L494 228.5h1L495 228.5h1L496 228.5h1L497 228.5h1L498 228.5h1L499 228.5h1L500 228.5h1L501 228.5h1L502 228.5h1L503 228.5h1L504 228.5h1L505 228.5h1L506 228.5h1L507 228.5h1L508 228.5h1L509 228.5h1L510 228.5h1L511 228.5h1L512 228.5h1L513 228.5h1L514 228.5h1L514 228.5Z" fill="#707070" stroke="none"/>
<path d="M276.5 46.7H514V228.5" stroke="#a8a8a8" stroke-width="1.1" fill="none"/>
<path d="M276.5 46.7V228.5H514" stroke="#777" stroke-width="1.1" fill="none"/>
<path d="M276.5 228.5V148.5" stroke="#3c3c3c" stroke-width="1.4" fill="none"/>
<path d="M346.5 184V93.7H511" stroke="#8c8c8c" stroke-width="1.0" fill="none"/>
<path d="M511 93.7V184" stroke="#8c8c8c" stroke-width="1.0" fill="none"/>
<text transform="translate(349.5 104) scale(0.87 1)" font-family='"Liberation Sans", Arial, sans-serif' font-size="9" font-weight="normal" text-anchor="start" fill="#222">R10</text>
<path d="M276.5 228.5v3.5M335.9 228.5v3.5M395.2 228.5v3.5M454.6 228.5v3.5M514 228.5v3.5M276.5 228.5h-3.5M276.5 183.1h-3.5M276.5 137.6h-3.5M276.5 92.1h-3.5M276.5 46.7h-3.5" stroke="#777" stroke-width="0.8" fill="none"/>
<text transform="translate(274.5 242.5) scale(0.84 1)" font-family='"Liberation Sans", Arial, sans-serif' font-size="10" text-anchor="middle" fill="#161616">10<tspan font-size="7.2" dy="-3">0</tspan></text>
<text transform="translate(333.9 242.5) scale(0.84 1)" font-family='"Liberation Sans", Arial, sans-serif' font-size="10" text-anchor="middle" fill="#161616">10<tspan font-size="7.2" dy="-3">1</tspan></text>
<text transform="translate(393.2 242.5) scale(0.84 1)" font-family='"Liberation Sans", Arial, sans-serif' font-size="10" text-anchor="middle" fill="#161616">10<tspan font-size="7.2" dy="-3">2</tspan></text>
<text transform="translate(452.6 242.5) scale(0.84 1)" font-family='"Liberation Sans", Arial, sans-serif' font-size="10" text-anchor="middle" fill="#161616">10<tspan font-size="7.2" dy="-3">3</tspan></text>
<text transform="translate(512 242.5) scale(0.84 1)" font-family='"Liberation Sans", Arial, sans-serif' font-size="10" text-anchor="middle" fill="#161616">10<tspan font-size="7.2" dy="-3">4</tspan></text>
<text transform="translate(272 232.1) scale(0.78 1)" font-family='"Liberation Sans", Arial, sans-serif' font-size="10" font-weight="normal" text-anchor="end" fill="#222">0</text>
<text transform="translate(272 186.7) scale(0.78 1)" font-family='"Liberation Sans", Arial, sans-serif' font-size="10" font-weight="normal" text-anchor="end" fill="#222">304</text>
<text transform="translate(272 141.2) scale(0.78 1)" font-family='"Liberation Sans", Arial, sans-serif' font-size="10" font-weight="normal" text-anchor="end" fill="#222">609</text>
<text transform="translate(272 95.7) scale(0.78 1)" font-family='"Liberation Sans", Arial, sans-serif' font-size="10" font-weight="normal" text-anchor="end" fill="#222">913</text>
<text transform="translate(272 50.3) scale(0.78 1)" font-family='"Liberation Sans", Arial, sans-serif' font-size="10" font-weight="normal" text-anchor="end" fill="#222">1218</text>
<text x="295.5" y="73.4" font-family='"Liberation Serif", "Times New Roman", serif' font-size="16.2" font-weight="bold" text-anchor="start" fill="#000">G=R1</text>
<text x="467.5" y="113.5" font-family='"Liberation Serif", "Times New Roman", serif' font-size="16.4" font-weight="bold" text-anchor="start" fill="#000">0.2%</text>
<path d="M278 475.2L278 458.8h1.6L279.6 457.4h1.6L281.2 458.6h1.6L282.8 456.3h1.6L284.4 454.9h1.6L286 455.4h1.6L287.6 454.8h1.6L289.3 452.1h1.6L290.9 451.5h1.6L292.5 453.3h1.6L294.1 451.6h1.6L295.7 446.8h1.6L297.3 444h1.6L298.9 446.6h1.6L300.5 448.4h1.6L302.1 446.5h1.6L303.7 446.4h1.6L305.3 444.6h1.6L306.9 447.9h1.6L308.5 447.2h1.6L310.1 443h1.6L311.8 434h1.6L313.4 441.9h1.6L315 442.9h1.6L316.6 434.4h1.6L318.2 436.5h1.6L319.8 436.3h1.6L321.4 433.4h1.6L323 432.2h1.6L324.6 425.1h1.6L326.2 420h1.6L327.8 425.8h1.6L329.4 426.4h1.6L331 427.1h1.6L332.7 428.2h1.6L334.3 419.7h1.6L335.9 419.1h1.6L337.5 426.7h1.6L339.1 420.7h1.6L340.7 413.8h1.6L342.3 399.6h1.6L343.9 429.8h1.6L345.5 416.1h1.6L347.1 418.3h1.6L348.7 403.8h1.6L350.3 425.1h1.6L351.9 420h1.6L353.6 409.3h1.6L355.2 413.1h1.6L356.8 412.7h1.6L358.4 410.8h1.6L360 400.1h1.6L361.6 422h1.6L363.2 411.7h1.6L364.8 392.5h1.6L366.4 399.8h1.6L368 393.7h1.6L369.6 390.6h1.6L371.2 393.5h1.6L372.8 397.2h1.6L374.4 392.1h1.6L376.1 388.2h1.6L377.7 384.6h1.6L379.3 341.8h1.6L380.9 377.5h1.6L382.5 373.5h1.6L384.1 373h1.6L385.7 377.2h1.6L387.3 358.4h1.6L388.9 366.2h1.6L390.5 344.1h1.6L392.1 383.6h1.6L393.7 361.7h1.6L395.3 348.7h1.6L397 353.2h1.6L398.6 363.3h1.6L400.2 375.6h1.6L401.8 365.5h1.6L403.4 354.3h1.6L405 381.1h1.6L406.6 350.8h1.6L408.2 365.8h1.6L409.8 349.2h1.6L411.4 359.5h1.6L413 366.7h1.6L414.6 360h1.6L416.2 372.1h1.6L417.9 370.8h1.6L419.5 406.1h1.6L421.1 376.6h1.6L422.7 400.4h1.6L424.3 410.1h1.6L425.9 403.1h1.6L427.5 405.5h1.6L429.1 404.5h1.6L430.7 426.3h1.6L432.3 422.8h1.6L433.9 429.5h1.6L435.5 419.2h1.6L437.1 431.6h1.6L438.7 434.7h1.6L440.4 441.1h1.6L442 439.2h1.6L443.6 438.3h1.6L445.2 449.2h1.6L446.8 454.9h1.6L448.4 448.5h1.6L450 457.7h1.6L451.6 456h1.6L453.2 458.7h1.6L454.8 460.1h1.6L456.4 458h1.6L458 458.8h1.6L459.6 461.5h1.6L461.3 461.1h1.6L462.9 465.9h1.6L464.5 466.2h1.6L466.1 468.5h1.6L467.7 469.7h1.6L469.3 472.3h1.6L470.9 471.2h1.6L472.5 471.1h1.6L474.1 472h1.6L475.7 471.4h1.6L477.3 471.9h1.6L478.9 471.9h1.6L480.5 471.9h1.6L482.2 471.9h1.6L483.8 472.5h1.6L485.4 472.3h1.6L487 472.2h1.6L488.6 472.9h1.6L490.2 472.6h1.6L491.8 472.5h1.6L493.4 472.8h1.6L495 472.9h1.6L496.6 472.6h1.6L498.2 472h1.6L499.8 471.9h1.6L501.4 472.6h1.6L503 472.2h1.6L504.7 473.1h1.6L506.3 473.1h1.6L507.9 472.5h1.6L509.5 470.9h1.6L511.1 470.5h1.6L512.7 469.2h1.6L514.3 466.8h1.6L514.3 475.2Z" fill="#707070" stroke="none"/>
<path d="M278 292.5H514.3V475.2" stroke="#a8a8a8" stroke-width="1.1" fill="none"/>
<path d="M278 292.5V475.2H514.3" stroke="#777" stroke-width="1.1" fill="none"/>
<path d="M347.5 430.5V340H511" stroke="#6a6a6a" stroke-width="1.0" fill="none"/>
<path d="M511 340V430.5" stroke="#6a6a6a" stroke-width="1.0" fill="none"/>
<text transform="translate(350.6 350.6) scale(0.87 1)" font-family='"Liberation Sans", Arial, sans-serif' font-size="9" font-weight="normal" text-anchor="start" fill="#222">R10</text>
<path d="M278 475.2v3.5M337.1 475.2v3.5M396.1 475.2v3.5M455.2 475.2v3.5M514.3 475.2v3.5M278 475.2h-3.5M278 429.5h-3.5M278 383.9h-3.5M278 338.2h-3.5M278 292.5h-3.5" stroke="#777" stroke-width="0.8" fill="none"/>
<text transform="translate(276 489.2) scale(0.84 1)" font-family='"Liberation Sans", Arial, sans-serif' font-size="10" text-anchor="middle" fill="#161616">10<tspan font-size="7.2" dy="-3">0</tspan></text>
<text transform="translate(335.1 489.2) scale(0.84 1)" font-family='"Liberation Sans", Arial, sans-serif' font-size="10" text-anchor="middle" fill="#161616">10<tspan font-size="7.2" dy="-3">1</tspan></text>
<text transform="translate(394.1 489.2) scale(0.84 1)" font-family='"Liberation Sans", Arial, sans-serif' font-size="10" text-anchor="middle" fill="#161616">10<tspan font-size="7.2" dy="-3">2</tspan></text>
<text transform="translate(453.2 489.2) scale(0.84 1)" font-family='"Liberation Sans", Arial, sans-serif' font-size="10" text-anchor="middle" fill="#161616">10<tspan font-size="7.2" dy="-3">3</tspan></text>
<text transform="translate(512.3 489.2) scale(0.84 1)" font-family='"Liberation Sans", Arial, sans-serif' font-size="10" text-anchor="middle" fill="#161616">10<tspan font-size="7.2" dy="-3">4</tspan></text>
<text transform="translate(273.5 478.8) scale(0.78 1)" font-family='"Liberation Sans", Arial, sans-serif' font-size="10" font-weight="normal" text-anchor="end" fill="#222">0</text>
<text transform="translate(273.5 433.1) scale(0.78 1)" font-family='"Liberation Sans", Arial, sans-serif' font-size="10" font-weight="normal" text-anchor="end" fill="#222">33</text>
<text transform="translate(273.5 387.5) scale(0.78 1)" font-family='"Liberation Sans", Arial, sans-serif' font-size="10" font-weight="normal" text-anchor="end" fill="#222">66</text>
<text transform="translate(273.5 341.8) scale(0.78 1)" font-family='"Liberation Sans", Arial, sans-serif' font-size="10" font-weight="normal" text-anchor="end" fill="#222">99</text>
<text transform="translate(273.5 296.1) scale(0.78 1)" font-family='"Liberation Sans", Arial, sans-serif' font-size="10" font-weight="normal" text-anchor="end" fill="#222">133</text>
<text x="291.8" y="339.5" font-family='"Liberation Serif", "Times New Roman", serif' font-size="16.2" font-weight="bold" text-anchor="start" fill="#000">G=R3</text>
<text x="459.6" y="360.8" font-family='"Liberation Serif", "Times New Roman", serif' font-size="16.4" font-weight="bold" text-anchor="start" fill="#000">76.4%</text>
<text x="342.6" y="313" font-family='"Liberation Serif", "Times New Roman", serif' font-size="16.1" font-weight="bold" text-anchor="start" fill="#000">OX40<tspan font-size="12" dy="-5.5">+</tspan><tspan dy="5.5"> 4-1BB</tspan><tspan font-size="12" dy="-5.5">+</tspan><tspan dy="5.5">  = 16.2%</tspan></text>
<path d="M273.3 721.5L273.3 600.3h1.5L274.8 609.9h1.5L276.3 600.8h1.5L277.8 605h1.5L279.3 620.2h1.5L280.8 598.5h1.5L282.3 603.2h1.5L283.8 619h1.5L285.3 620.7h1.5L286.8 608.3h1.5L288.3 620.5h1.5L289.8 613.2h1.5L291.3 613.2h1.5L292.8 613.1h1.5L294.3 613h1.5L295.8 600.2h1.5L297.3 611.3h1.5L298.8 620.3h1.5L300.3 620.7h1.5L301.8 625.6h1.5L303.3 630.7h1.5L304.8 625.9h1.5L306.3 630.1h1.5L307.8 621.6h1.5L309.3 629.1h1.5L310.8 632.9h1.5L312.3 637.7h1.5L313.8 639h1.5L315.3 666.2h1.5L316.8 648.9h1.5L318.3 642.9h1.5L319.8 656.3h1.5L321.3 663.9h1.5L322.8 656.8h1.5L324.3 662.7h1.5L325.8 663.8h1.5L327.3 654.7h1.5L328.8 661.4h1.5L330.3 663.6h1.5L331.8 670.3h1.5L333.3 674.5h1.5L334.9 673.6h1.5L336.4 678.4h1.5L337.9 677.6h1.5L339.4 681.5h1.5L340.9 683.7h1.5L342.4 680.4h1.5L343.9 683.5h1.5L345.4 679.2h1.5L346.9 681.7h1.5L348.4 684.8h1.5L349.9 682.8h1.5L351.4 683.5h1.5L352.9 683.3h1.5L354.4 683.2h1.5L355.9 682.2h1.5L357.4 683.7h1.5L358.9 687.6h1.5L360.4 691.7h1.5L361.9 689.8h1.5L363.4 679.8h1.5L364.9 681.4h1.5L366.4 684.2h1.5L367.9 676.1h1.5L369.4 677.4h1.5L370.9 674.3h1.5L372.4 677.3h1.5L373.9 674.1h1.5L375.4 674.8h1.5L376.9 677.3h1.5L378.4 665.3h1.5L379.9 672.6h1.5L381.4 669.1h1.5L382.9 664h1.5L384.4 671.2h1.5L385.9 665.1h1.5L387.4 668.1h1.5L388.9 671.3h1.5L390.4 666.3h1.5L391.9 669.1h1.5L393.4 669.3h1.5L394.9 667.8h1.5L396.4 674h1.5L397.9 665.2h1.5L399.4 674h1.5L400.9 670.2h1.5L402.4 673.8h1.5L403.9 675.5h1.5L405.4 673.1h1.5L406.9 672.2h1.5L408.4 661.1h1.5L409.9 670.2h1.5L411.4 666.6h1.5L412.9 673.3h1.5L414.4 666.7h1.5L415.9 674.9h1.5L417.4 675.2h1.5L418.9 674.1h1.5L420.4 674.8h1.5L421.9 675.6h1.5L423.4 679.9h1.5L424.9 677.7h1.5L426.4 679.6h1.5L427.9 682.8h1.5L429.4 685.5h1.5L430.9 681.2h1.5L432.4 686h1.5L433.9 691.5h1.5L435.4 688.7h1.5L436.9 689.2h1.5L438.4 693.2h1.5L439.9 691.9h1.5L441.4 697.1h1.5L442.9 696.4h1.5L444.4 693.5h1.5L445.9 699.4h1.5L447.4 699.6h1.5L448.9 701.1h1.5L450.4 704.5h1.5L451.9 704.3h1.5L453.4 706.9h1.5L455 706.4h1.5L456.5 708.3h1.5L458 709.2h1.5L459.5 709.4h1.5L461 712h1.5L462.5 711.5h1.5L464 713.4h1.5L465.5 713.9h1.5L467 714.2h1.5L468.5 715h1.5L470 715.9h1.5L471.5 715.7h1.5L473 717.5h1.5L474.5 717.6h1.5L476 717.6h1.5L477.5 718.5h1.5L479 718.5h1.5L480.5 717.8h1.5L482 718.7h1.5L483.5 718.8h1.5L485 718.9h1.5L486.5 719.5h1.5L488 718.6h1.5L489.5 719.8h1.5L491 719.9h1.5L492.5 719.7h1.5L494 720.3h1.5L495.5 720.3h1.5L497 719.8h1.5L498.5 719.8h1.5L500 720.2h1.5L501.5 719.6h1.5L503 720.1h1.5L504.5 720.3h1.5L506 720.1h1.5L507.5 720h1.5L509 720.3h1.5L510.5 719.8h1.5L512 720.2h1.5L513.5 719.8h1.5L515 720.5h1.5L515 721.5Z" fill="#707070" stroke="none"/>
<path d="M273.3 541H515V721.5" stroke="#a8a8a8" stroke-width="1.1" fill="none"/>
<path d="M273.3 541V721.5H515" stroke="#777" stroke-width="1.1" fill="none"/>
<path d="M273.3 721.5V561.5" stroke="#3c3c3c" stroke-width="1.4" fill="none"/>
<path d="M345 679V588H511.5" stroke="#8a8a8a" stroke-width="1.0" fill="none"/>
<path d="M511.5 588V679" stroke="#4a4a4a" stroke-width="1.0" fill="none"/>
<text transform="translate(348 599) scale(0.87 1)" font-family='"Liberation Sans", Arial, sans-serif' font-size="9" font-weight="normal" text-anchor="start" fill="#222">R10</text>
<path d="M273.3 721.5v3.5M333.7 721.5v3.5M394.1 721.5v3.5M454.6 721.5v3.5M515 721.5v3.5M273.3 721.5h-3.5M273.3 676.4h-3.5M273.3 631.2h-3.5M273.3 586.1h-3.5M273.3 541h-3.5" stroke="#777" stroke-width="0.8" fill="none"/>
<text transform="translate(271.3 735.5) scale(0.84 1)" font-family='"Liberation Sans", Arial, sans-serif' font-size="10" text-anchor="middle" fill="#161616">10<tspan font-size="7.2" dy="-3">0</tspan></text>
<text transform="translate(331.7 735.5) scale(0.84 1)" font-family='"Liberation Sans", Arial, sans-serif' font-size="10" text-anchor="middle" fill="#161616">10<tspan font-size="7.2" dy="-3">1</tspan></text>
<text transform="translate(392.1 735.5) scale(0.84 1)" font-family='"Liberation Sans", Arial, sans-serif' font-size="10" text-anchor="middle" fill="#161616">10<tspan font-size="7.2" dy="-3">2</tspan></text>
<text transform="translate(452.6 735.5) scale(0.84 1)" font-family='"Liberation Sans", Arial, sans-serif' font-size="10" text-anchor="middle" fill="#161616">10<tspan font-size="7.2" dy="-3">3</tspan></text>
<text transform="translate(513 735.5) scale(0.84 1)" font-family='"Liberation Sans", Arial, sans-serif' font-size="10" text-anchor="middle" fill="#161616">10<tspan font-size="7.2" dy="-3">4</tspan></text>
<text transform="translate(268.8 725.1) scale(0.78 1)" font-family='"Liberation Sans", Arial, sans-serif' font-size="10" font-weight="normal" text-anchor="end" fill="#222">0</text>
<text transform="translate(268.8 680) scale(0.78 1)" font-family='"Liberation Sans", Arial, sans-serif' font-size="10" font-weight="normal" text-anchor="end" fill="#222">54</text>
<text transform="translate(268.8 634.9) scale(0.78 1)" font-family='"Liberation Sans", Arial, sans-serif' font-size="10" font-weight="normal" text-anchor="end" fill="#222">108</text>
<text transform="translate(268.8 589.7) scale(0.78 1)" font-family='"Liberation Sans", Arial, sans-serif' font-size="10" font-weight="normal" text-anchor="end" fill="#222">162</text>
<text transform="translate(268.8 544.6) scale(0.78 1)" font-family='"Liberation Sans", Arial, sans-serif' font-size="10" font-weight="normal" text-anchor="end" fill="#222">217</text>
<text x="291.8" y="588" font-family='"Liberation Serif", "Times New Roman", serif' font-size="16.2" font-weight="bold" text-anchor="start" fill="#000">G=R3</text>
<text x="459.6" y="609.5" font-family='"Liberation Serif", "Times New Roman", serif' font-size="16.4" font-weight="bold" text-anchor="start" fill="#000">39.8%</text>
<text x="344.3" y="560.5" font-family='"Liberation Serif", "Times New Roman", serif' font-size="16.1" font-weight="bold" text-anchor="start" fill="#000">OX40<tspan font-size="12" dy="-5.5">+</tspan><tspan dy="5.5"> 4-1BB</tspan><tspan font-size="12" dy="-5.5">+</tspan><tspan dy="5.5">  = 14.9%</tspan></text>
<g transform="translate(52.5 858.5)" filter="url(#soft)">
<path d="M17 27h0M13 43h0M17 45h0M22 48h0M66 77h0M16 81h0M13 85h0M77 85h0M47 108h0M78 109h0M44 113h0M52 113h0M65 117h0M36 120h0M41 122h0M57 123h0M54 125h0M58 125h0M61 125h0M50 127h0M32 128h0M44 128h0M60 128h0M87 128h0M34 129h0M65 129h0M21 130h0M49 130h0M58 130h1M7 131h0M18 131h0M46 131h0M52 131h0M54 131h0M57 131h0M17 132h0M39 132h0M45 132h0M48 132h0M50 132h1M55 132h0M68 132h0M77 132h0M16 133h0M35 133h0M39 133h0M42 133h0M48 133h1M53 133h0M58 133h0M68 133h0M10 134h0M17 134h0M32 134h0M41 134h2M51 134h0M2 135h0M7 135h1M17 135h0M23 135h0M46 135h0M48 135h0M52 135h2M57 135h0M9 136h0M13 136h1M25 136h0M33 136h0M40 136h0M42 136h0M46 136h0M48 136h0M52 136h0M55 136h0M3 137h1M23 137h0M26 137h0M29 137h0M32 137h0M36 137h0M41 137h0M45 137h0M47 137h0M49 137h0M52 137h0M82 137h0M7 138h1M21 138h0M30 138h0M35 138h0M40 138h2M44 138h0M47 138h0M49 138h0M55 138h0M79 138h0M3 139h0M11 139h0M14 139h0M22 139h3M30 139h0M34 139h0M38 139h1M41 139h2M46 139h1M49 139h1M53 139h1M11 140h0M13 140h0M15 140h0M18 140h2M24 140h0M27 140h0M29 140h5M36 140h0M40 140h3M45 140h3M51 140h0M53 140h0M61 140h0M1 141h0M11 141h0M13 141h1M17 141h0M19 141h0M21 141h0M24 141h2M28 141h4M34 141h2M39 141h0M41 141h3M5 142h0M10 142h2M14 142h1M17 142h4M24 142h1M27 142h2M31 142h0M33 142h4M39 142h3M44 142h3M49 142h0M53 142h0M6 143h0M8 143h3M13 143h0M17 143h1M20 143h3M25 143h3M31 143h1M34 143h12M48 143h0M60 143h0M1 144h2M9 144h0M12 144h0M14 144h2M19 144h11M32 144h0M34 144h7M47 144h0M49 144h1M1 145h2M5 145h0M8 145h0M10 145h19M31 145h0M33 145h0M35 145h7M44 145h0M48 145h0M53 145h0M1 146h0M5 146h0M7 146h11M20 146h2M24 146h0M26 146h7M35 146h0M37 146h8M48 146h0M50 146h2M58 146h0M60 146h0M1 147h0M4 147h1M8 147h6M16 147h0M18 147h2M25 147h6M33 147h12M1 148h0M5 148h4M11 148h4M17 148h2M21 148h0M23 148h0M27 148h3M32 148h1M35 148h6M47 148h0M54 148h0M1 149h0M3 149h0M6 149h7M15 149h0M17 149h1M25 149h0M28 149h0M31 149h0M33 149h8M43 149h0M46 149h0M5 150h3M10 150h1M16 150h0M25 150h0M28 150h0M30 150h1M33 150h5M40 150h0M42 150h0M1 151h10M21 151h0M30 151h2M34 151h6M42 151h0M47 151h0M1 152h3M6 152h3M11 152h0M33 152h7M45 152h0M47 152h0M1 153h0M3 153h2M7 153h1M10 153h0M32 153h0M34 153h5M42 153h0M44 153h0M65 153h0M1 154h0M3 154h6M30 154h0M34 154h1M37 154h2M41 154h1M44 154h0M1 155h2M5 155h4M25 155h0M28 155h0M32 155h9M47 155h0M55 155h0M1 156h0M3 156h4M9 156h0M34 156h8M46 156h0M48 156h1M51 156h0M1 157h1M4 157h4M25 157h0M34 157h2M38 157h1M1 158h4M7 158h0M10 158h0M35 158h2M39 158h1M42 158h1M45 158h1M1 159h5M33 159h0M35 159h6M46 159h0M49 159h0M52 159h0M62 159h0M1 160h2M5 160h1M9 160h0M37 160h4M43 160h1M46 160h0M52 160h0M1 161h2M5 161h2M33 161h0M35 161h2M39 161h3M45 161h1M1 162h6M10 162h0M12 162h0M35 162h3M41 162h0M45 162h0M1 163h6M33 163h0M35 163h5M42 163h0M1 164h5M8 164h0M11 164h1M31 164h0M33 164h6M42 164h3M1 165h7M32 165h4M38 165h2M42 165h0M44 165h0M1 166h3M6 166h3M24 166h0M29 166h0M31 166h0M34 166h5M41 166h0M48 166h0M50 166h0M1 167h1M4 167h3M9 167h0M29 167h0M31 167h9M43 167h0M45 167h1M1 168h0M3 168h0M6 168h1M9 168h0M11 168h0M15 168h0M20 168h0M28 168h0M30 168h0M32 168h0M34 168h5M44 168h1M1 169h2M5 169h2M9 169h0M12 169h0M30 169h4M36 169h2M40 169h0M1 170h1M4 170h4M11 170h1M15 170h0M22 170h0M25 170h13M41 170h0M45 170h0M47 170h0M1 171h0M4 171h8M19 171h0M23 171h0M28 171h0M30 171h5M37 171h2M1 172h1M5 172h1M8 172h5M26 172h0M28 172h8M40 172h0M42 172h0M50 172h0M1 173h0M5 173h2M9 173h4M15 173h3M20 173h1M24 173h6M32 173h3M38 173h0M43 173h0M47 173h0M1 174h0M3 174h2M9 174h6M17 174h0M19 174h2M23 174h0M25 174h8M37 174h0M39 174h0M2 175h0M5 175h7M14 175h14M30 175h1M33 175h2M39 175h0M1 176h0M3 176h4M11 176h21M39 176h0M42 176h0M1 177h2M6 177h0M8 177h0M12 177h4M18 177h6M26 177h9M1 178h0M3 178h0M10 178h3M15 178h0M17 178h6M25 178h2M31 178h0M3 179h0M5 179h1M9 179h3M15 179h2M19 179h0M22 179h1M25 179h0M27 179h4M35 179h2M1 180h0M6 180h0M8 180h0M11 180h0M14 180h0M16 180h3M21 180h5M29 180h0M32 180h1M1 181h0M4 181h0M6 181h0M8 181h35" stroke="#737373" stroke-width="1.9" stroke-linecap="round" fill="none" transform="translate(0.5 0.5)"/>
<path d="M19 146h0M25 146h0M15 147h0M17 147h0M21 147h3M32 147h0M16 148h0M20 148h0M22 148h0M24 148h2M31 148h0M34 148h0M14 149h0M16 149h0M19 149h5M26 149h1M29 149h1M32 149h0M12 150h3M17 150h7M26 150h1M29 150h0M32 150h0M12 151h8M22 151h7M33 151h0M10 152h0M12 152h8M22 152h10M9 153h0M11 153h6M20 153h2M24 153h0M26 153h5M33 153h0M10 154h5M17 154h1M20 154h0M22 154h1M25 154h0M27 154h2M31 154h2M10 155h6M19 155h0M27 155h0M29 155h2M8 156h0M10 156h5M17 156h0M23 156h0M27 156h1M30 156h3M9 157h3M14 157h1M18 157h0M29 157h4M8 158h1M11 158h2M15 158h0M18 158h0M24 158h2M28 158h1M31 158h3M7 159h6M17 159h0M20 159h0M30 159h2M34 159h0M7 160h1M10 160h0M12 160h3M17 160h0M24 160h0M26 160h0M29 160h7M8 161h6M16 161h0M21 161h0M29 161h0M31 161h1M34 161h0M8 162h1M11 162h0M13 162h0M15 162h0M23 162h3M29 162h5M8 163h6M16 163h2M20 163h0M24 163h0M28 163h0M30 163h2M34 163h0M7 164h0M9 164h1M13 164h2M20 164h2M24 164h0M26 164h4M32 164h0M9 165h6M18 165h0M20 165h1M25 165h1M28 165h3M10 166h3M15 166h3M20 166h1M23 166h0M25 166h3M30 166h0M32 166h1M8 167h0M10 167h11M23 167h5M30 167h0M8 168h0M10 168h0M12 168h2M16 168h1M19 168h0M21 168h6M29 168h0M31 168h0M33 168h0M8 169h0M10 169h1M13 169h6M21 169h8M9 170h1M13 170h1M16 170h0M18 170h3M23 170h1M13 171h5M20 171h2M24 171h3M29 171h0M14 172h11M27 172h0M14 173h0M19 173h0M22 173h1M16 174h0M22 174h0M24 174h0" stroke="#bdbdbd" stroke-width="1.9" stroke-linecap="round" fill="none" transform="translate(0.5 0.5)"/>
<path d="M21 152h0M18 153h1M23 153h0M25 153h0M16 154h0M19 154h0M21 154h0M24 154h0M26 154h0M17 155h1M20 155h4M26 155h0M16 156h0M18 156h4M24 156h2M29 156h0M13 157h0M16 157h1M19 157h5M26 157h2M14 158h0M16 158h1M19 158h4M27 158h0M30 158h0M14 159h2M18 159h1M21 159h8M11 160h0M16 160h0M18 160h5M25 160h0M27 160h1M15 161h0M17 161h3M22 161h6M30 161h0M14 162h0M16 162h6M27 162h1M15 163h0M19 163h0M21 163h2M25 163h2M29 163h0M16 164h3M23 164h0M25 164h0M16 165h1M19 165h0M22 165h2M27 165h0M14 166h0M19 166h0M22 166h0M22 167h0M18 168h0M20 169h0M17 170h0" stroke="#666666" stroke-width="1.9" stroke-linecap="round" fill="none" transform="translate(0.5 0.5)"/>
</g>
<rect x="52.5" y="858.5" width="184" height="182" fill="none" stroke="#8c8c8c" stroke-width="1"/>
<path d="M52.5 987.5H236.5" stroke="#7c7c7c" stroke-width="1" fill="none" style="mix-blend-mode:multiply"/>
<path d="M107.5 858.5V1040.5" stroke="#7c7c7c" stroke-width="1" fill="none" style="mix-blend-mode:multiply"/>
<path d="M52.5 1040.5v5M52.5 1040.5h-8M98.5 1040.5v5M52.5 995h-8M144.5 1040.5v5M52.5 949.5h-8M190.5 1040.5v5M52.5 904h-8M236.5 1040.5v5M52.5 858.5h-8" stroke="#6a6a6a" stroke-width="0.9" fill="none"/>
<text transform="translate(46.5 1058.5) scale(1.02 1)" font-family='"Liberation Sans", Arial, sans-serif' font-size="12.8" text-anchor="middle" fill="#161616">10<tspan font-size="8.5" dy="-3.8">0</tspan></text>
<text transform="translate(44.2 1046) scale(1.02 1)" font-family='"Liberation Sans", Arial, sans-serif' font-size="12.8" text-anchor="end" fill="#161616">10<tspan font-size="8.5" dy="-3.8">0</tspan></text>
<text transform="translate(92.5 1058.5) scale(1.02 1)" font-family='"Liberation Sans", Arial, sans-serif' font-size="12.8" text-anchor="middle" fill="#161616">10<tspan font-size="8.5" dy="-3.8">1</tspan></text>
<text transform="translate(44.2 1000.5) scale(1.02 1)" font-family='"Liberation Sans", Arial, sans-serif' font-size="12.8" text-anchor="end" fill="#161616">10<tspan font-size="8.5" dy="-3.8">1</tspan></text>
<text transform="translate(138.5 1058.5) scale(1.02 1)" font-family='"Liberation Sans", Arial, sans-serif' font-size="12.8" text-anchor="middle" fill="#161616">10<tspan font-size="8.5" dy="-3.8">2</tspan></text>
<text transform="translate(44.2 955) scale(1.02 1)" font-family='"Liberation Sans", Arial, sans-serif' font-size="12.8" text-anchor="end" fill="#161616">10<tspan font-size="8.5" dy="-3.8">2</tspan></text>
<text transform="translate(184.5 1058.5) scale(1.02 1)" font-family='"Liberation Sans", Arial, sans-serif' font-size="12.8" text-anchor="middle" fill="#161616">10<tspan font-size="8.5" dy="-3.8">3</tspan></text>
<text transform="translate(44.2 909.5) scale(1.02 1)" font-family='"Liberation Sans", Arial, sans-serif' font-size="12.8" text-anchor="end" fill="#161616">10<tspan font-size="8.5" dy="-3.8">3</tspan></text>
<text transform="translate(230.5 1058.5) scale(1.02 1)" font-family='"Liberation Sans", Arial, sans-serif' font-size="12.8" text-anchor="middle" fill="#161616">10<tspan font-size="8.5" dy="-3.8">4</tspan></text>
<text transform="translate(44.2 864) scale(1.02 1)" font-family='"Liberation Sans", Arial, sans-serif' font-size="12.8" text-anchor="end" fill="#161616">10<tspan font-size="8.5" dy="-3.8">4</tspan></text>
<text transform="translate(58.5 872.3) scale(1.12 1)" font-family='"Liberation Sans", Arial, sans-serif' font-size="11" font-weight="normal" text-anchor="start" fill="#1a1a1a">R2</text>
<text transform="translate(113.5 872.3) scale(1.12 1)" font-family='"Liberation Sans", Arial, sans-serif' font-size="11" font-weight="normal" text-anchor="start" fill="#1a1a1a">R3</text>
<text transform="translate(58.5 1003) scale(1.12 1)" font-family='"Liberation Sans", Arial, sans-serif' font-size="11" font-weight="normal" text-anchor="start" fill="#1a1a1a">R4</text>
<text transform="translate(113.5 1003) scale(1.12 1)" font-family='"Liberation Sans", Arial, sans-serif' font-size="11" font-weight="normal" text-anchor="start" fill="#1a1a1a">R5</text>
<text x="59.5" y="889" font-family='"Liberation Serif", "Times New Roman", serif' font-size="16.4" font-weight="bold" text-anchor="start" fill="#000">0.2%</text>
<text x="174" y="888.5" font-family='"Liberation Serif", "Times New Roman", serif' font-size="16.4" font-weight="bold" text-anchor="start" fill="#000">0.05%</text>
<text x="179.5" y="1017.5" font-family='"Liberation Serif", "Times New Roman", serif' font-size="16.4" font-weight="bold" text-anchor="start" fill="#000">0.2%</text>
<g transform="translate(53.5 1105.5)" filter="url(#soft)">
<path d="M32 27h0M41 31h0M50 31h0M2 32h0M9 32h0M16 32h1M25 32h0M7 33h0M19 33h0M26 33h0M37 33h0M39 33h0M46 33h0M48 33h0M50 33h0M52 33h0M57 33h0M3 34h0M11 34h0M13 34h0M17 34h0M32 34h0M35 34h0M41 34h1M45 34h0M56 34h0M64 34h0M6 35h0M11 35h0M15 35h0M20 35h0M22 35h1M28 35h0M41 35h0M43 35h1M46 35h0M48 35h0M50 35h1M54 35h1M1 36h0M5 36h0M7 36h0M10 36h0M14 36h0M21 36h0M24 36h1M29 36h0M31 36h1M35 36h0M37 36h1M41 36h1M45 36h0M47 36h0M49 36h2M53 36h2M63 36h0M1 37h1M7 37h0M11 37h1M15 37h0M17 37h0M22 37h2M27 37h1M30 37h0M32 37h0M34 37h1M40 37h0M42 37h1M46 37h2M50 37h0M52 37h2M56 37h0M59 37h0M62 37h0M65 37h0M71 37h0M1 38h4M8 38h0M12 38h0M14 38h2M18 38h14M34 38h2M38 38h5M45 38h0M48 38h0M50 38h0M52 38h0M54 38h3M62 38h1M65 38h1M68 38h0M1 39h2M5 39h8M15 39h7M24 39h3M30 39h1M33 39h4M39 39h0M41 39h0M43 39h0M45 39h0M50 39h5M57 39h0M59 39h0M61 39h0M63 39h0M65 39h0M68 39h0M1 40h0M5 40h0M8 40h5M15 40h1M18 40h0M22 40h1M29 40h0M32 40h0M38 40h2M49 40h0M52 40h5M64 40h0M66 40h1M70 40h0M3 41h0M8 41h4M18 41h1M26 41h1M33 41h1M48 41h0M53 41h6M61 41h0M64 41h0M67 41h0M69 41h0M71 41h1M6 42h0M10 42h0M14 42h0M16 42h0M19 42h1M22 42h0M25 42h0M30 42h0M33 42h2M49 42h0M51 42h0M55 42h3M61 42h0M63 42h0M66 42h0M73 42h0M1 43h0M7 43h0M12 43h0M18 43h1M21 43h0M27 43h1M30 43h0M32 43h1M38 43h1M43 43h0M47 43h0M53 43h1M59 43h0M61 43h0M65 43h0M2 44h0M4 44h0M9 44h0M12 44h1M18 44h2M22 44h1M29 44h1M32 44h0M34 44h0M37 44h2M43 44h1M46 44h0M50 44h5M61 44h0M65 44h0M68 44h0M3 45h0M7 45h8M17 45h0M19 45h1M24 45h0M26 45h0M28 45h2M35 45h2M39 45h8M49 45h1M52 45h1M55 45h1M67 45h0M71 45h0M1 46h3M6 46h4M12 46h1M16 46h3M22 46h1M25 46h4M31 46h1M34 46h4M40 46h0M42 46h1M46 46h5M53 46h0M55 46h0M57 46h3M1 47h0M4 47h2M8 47h2M12 47h0M14 47h3M21 47h2M26 47h0M28 47h2M33 47h0M36 47h2M41 47h0M47 47h5M54 47h1M1 48h1M4 48h1M7 48h1M10 48h1M13 48h0M15 48h0M19 48h2M23 48h0M26 48h0M32 48h1M39 48h0M42 48h0M44 48h0M46 48h0M51 48h0M4 49h0M8 49h1M15 49h4M21 49h0M24 49h0M29 49h1M36 49h1M46 49h0M52 49h0M1 50h0M3 50h1M11 50h0M14 50h0M29 50h0M37 50h0M49 50h0M52 50h0M2 51h1M14 51h0M24 51h0M40 51h0M46 51h0M53 51h0M8 53h0M50 53h0M4 54h0M5 55h0M34 55h0M25 56h0M38 56h0M44 57h0M8 58h0M1 59h0M41 59h1M128 60h0M13 62h0M48 63h0M12 67h0M35 69h0M43 69h0M14 71h0M41 71h0M45 71h0M56 71h0M37 72h0M45 72h0M47 72h0M35 73h0M43 73h0M45 73h0M56 74h0M61 74h0M31 75h0M46 75h1M40 76h0M43 76h1M49 76h0M23 77h0M46 77h0M53 77h0M37 78h0M36 79h0M43 79h0M46 79h0M51 79h0M47 80h0M50 80h0M19 81h0M41 81h0M44 81h1M50 81h2M60 81h0M17 82h0M37 82h0M41 82h0M43 82h1M47 82h2M66 82h0M29 83h0M39 83h3M50 83h0M35 84h0M38 84h0M47 84h0M52 84h1M45 85h0M52 85h1M38 86h0M44 86h0M46 86h0M49 86h3M25 87h0M39 87h1M44 87h0M46 87h0M56 87h0M15 88h0M34 88h0M42 88h0M44 88h0M50 88h1M53 88h0M60 88h0M26 89h0M46 89h0M54 89h0M35 90h0M39 90h0M43 90h1M53 90h0M49 91h0M54 91h0M43 92h0M48 92h0M51 92h0M19 93h0M35 93h0M41 93h0M49 93h0M51 93h0M35 94h0M51 94h0M34 96h0M38 96h0M48 96h0M7 97h0M23 97h0M26 97h0M36 98h0M40 98h0M44 100h0M54 100h0M28 101h0M34 101h0M21 102h0M34 102h0M38 102h0M42 102h0M31 103h0M8 104h0M33 104h0M48 105h0M42 106h0M24 107h0M47 109h0M33 110h0M47 110h0M23 111h0M42 111h0M16 112h0M24 113h0M46 113h0M31 114h0M35 114h1M24 115h0M32 115h0M18 116h0M47 118h0M53 118h0M20 119h0M23 121h0M33 121h0M36 122h0M12 123h0M12 124h0M26 124h0M30 124h0M53 124h0M45 125h0M20 126h0M42 126h0M21 127h0M31 127h0M25 128h0M50 128h0M28 129h0M45 130h0M12 131h0M24 131h0M51 131h0M16 132h0M30 132h0M39 132h0M44 132h0M8 133h0M27 133h0M24 134h0M32 134h0M39 134h0M12 135h0M20 135h1M30 135h0M32 135h0M5 136h0M16 136h0M24 136h0M27 136h1M12 137h0M17 137h1M23 137h0M25 137h0M28 137h2M36 137h0M4 138h0M11 138h0M16 138h2M20 138h0M27 138h0M31 138h1M1 139h0M3 139h0M6 139h0M10 139h0M13 139h2M17 139h2M21 139h0M23 139h1M28 139h0M30 139h0M32 139h0M34 139h1M37 139h0M44 139h0M10 140h0M14 140h0M17 140h1M20 140h2M24 140h0M26 140h0M29 140h0M31 140h2M35 140h0M51 140h0M4 141h0M8 141h0M13 141h0M15 141h0M17 141h1M21 141h0M23 141h6M33 141h1M36 141h0M48 141h0M5 142h0M7 142h0M12 142h3M17 142h1M20 142h7M30 142h0M133 142h0M9 143h3M14 143h0M16 143h2M20 143h4M26 143h0M28 143h5M37 143h0M41 143h0M2 144h0M7 144h0M9 144h6M17 144h0M19 144h6M27 144h3M32 144h1M35 144h1M38 144h1M43 144h0M3 145h0M5 145h2M9 145h2M13 145h0M15 145h3M21 145h1M24 145h0M26 145h8M37 145h2M42 145h0M1 146h0M5 146h0M8 146h0M10 146h4M16 146h0M23 146h0M26 146h3M31 146h3M36 146h1M40 146h0M1 147h0M4 147h0M7 147h4M13 147h3M18 147h0M20 147h0M24 147h0M27 147h5M34 147h0M36 147h0M39 147h0M57 147h0M1 148h3M7 148h1M10 148h2M14 148h0M20 148h1M25 148h0M29 148h0M31 148h3M37 148h0M39 148h1M42 148h0M45 148h0M63 148h0M1 149h0M6 149h0M8 149h4M14 149h0M18 149h0M27 149h0M29 149h4M35 149h0M38 149h4M46 149h0M5 150h0M7 150h5M14 150h0M29 150h7M38 150h0M56 150h0M1 151h3M6 151h3M12 151h1M22 151h0M31 151h0M33 151h1M36 151h0M38 151h2M44 151h0M1 152h0M4 152h0M6 152h0M8 152h3M13 152h1M32 152h5M39 152h0M41 152h0M50 152h0M2 153h0M4 153h6M13 153h0M15 153h0M24 153h0M32 153h4M38 153h2M46 153h0M51 153h0M55 153h1M2 154h0M4 154h4M10 154h0M17 154h0M19 154h0M25 154h0M33 154h1M36 154h3M44 154h0M1 155h1M5 155h3M11 155h0M32 155h0M34 155h4M40 155h3M1 156h2M5 156h2M12 156h0M31 156h2M36 156h6M48 156h0M50 156h0M112 156h0M1 157h0M5 157h2M9 157h0M14 157h0M27 157h0M33 157h3M39 157h3M45 157h0M2 158h0M5 158h3M10 158h0M36 158h2M45 158h1M1 159h0M3 159h5M10 159h0M27 159h0M34 159h6M46 159h0M1 160h3M6 160h1M10 160h0M33 160h3M39 160h0M41 160h1M1 161h4M7 161h0M34 161h4M41 161h0M46 161h0M1 162h2M5 162h4M27 162h0M33 162h2M38 162h1M93 162h0M1 163h1M4 163h2M26 163h0M34 163h0M36 163h1M39 163h0M41 163h0M43 163h1M49 163h0M3 164h1M6 164h0M8 164h0M31 164h0M33 164h0M35 164h1M38 164h2M46 164h0M3 165h0M5 165h0M7 165h0M13 165h0M33 165h3M38 165h0M40 165h1M1 166h0M3 166h6M25 166h0M29 166h0M32 166h0M34 166h1M37 166h0M40 166h0M42 166h1M49 166h1M5 167h6M31 167h9M43 167h1M1 168h1M4 168h1M7 168h2M11 168h0M13 168h0M19 168h0M23 168h0M31 168h2M36 168h3M43 168h0M2 169h0M4 169h1M7 169h1M10 169h1M14 169h0M19 169h0M21 169h0M23 169h0M29 169h1M32 169h1M35 169h0M43 169h0M55 169h0M1 170h1M4 170h1M7 170h3M12 170h0M14 170h0M17 170h0M19 170h0M23 170h0M31 170h6M42 170h0M125 170h0M3 171h4M9 171h0M11 171h1M14 171h0M16 171h2M26 171h0M29 171h6M37 171h1M2 172h0M6 172h0M8 172h6M16 172h3M23 172h1M26 172h0M29 172h7M38 172h0M44 172h0M1 173h0M5 173h0M7 173h0M10 173h6M19 173h4M25 173h1M28 173h5M37 173h0M1 174h0M6 174h0M9 174h0M14 174h5M21 174h2M25 174h1M28 174h1M31 174h3M39 174h0M7 175h4M14 175h2M18 175h4M24 175h1M27 175h3M32 175h0M34 175h0M39 175h0M4 176h0M7 176h0M9 176h0M11 176h5M18 176h0M20 176h5M27 176h1M30 176h2M34 176h0M4 177h0M7 177h0M9 177h1M13 177h2M18 177h3M23 177h5M32 177h0M34 177h0M36 177h1M52 177h0M13 178h5M20 178h0M22 178h0M24 178h1M28 178h1M33 178h0M2 179h0M10 179h0M12 179h1M15 179h0M17 179h4M23 179h0M27 179h0M29 179h1M34 179h0M11 180h0M14 180h0M16 180h0M20 180h3M26 180h0M29 180h0M1 181h0M9 181h0M11 181h2M15 181h2M20 181h4M27 181h0M32 181h1M36 181h1M60 181h0" stroke="#828282" stroke-width="1.6" stroke-linecap="round" fill="none" transform="translate(0.5 0.5)"/>
<path d="M44 38h0M49 38h0M51 38h0M14 39h0M23 39h0M28 39h1M32 39h0M38 39h0M40 39h0M42 39h0M44 39h0M46 39h3M2 40h2M6 40h1M14 40h0M17 40h0M19 40h0M21 40h0M24 40h4M30 40h1M33 40h4M41 40h5M50 40h1M1 41h1M4 41h3M13 41h4M20 41h5M28 41h4M35 41h4M41 41h6M49 41h3M1 42h4M7 42h2M11 42h2M15 42h0M17 42h1M21 42h0M23 42h0M26 42h3M31 42h1M36 42h12M50 42h0M52 42h2M2 43h4M8 43h3M13 43h4M20 43h0M22 43h4M29 43h0M31 43h0M34 43h3M40 43h2M44 43h2M48 43h4M1 44h0M3 44h0M5 44h3M10 44h1M14 44h3M21 44h0M24 44h4M31 44h0M33 44h0M35 44h1M40 44h2M45 44h0M47 44h2M1 45h1M4 45h2M16 45h0M18 45h0M21 45h0M23 45h0M25 45h0M27 45h0M31 45h3M48 45h0M51 45h0M5 46h0M21 46h0M20 145h0M23 145h0M19 146h3M24 146h1M17 147h0M19 147h0M21 147h2M25 147h1M15 148h4M22 148h2M26 148h0M28 148h0M30 148h0M13 149h0M15 149h0M17 149h0M19 149h1M23 149h3M28 149h0M13 150h0M15 150h0M17 150h0M19 150h2M23 150h5M10 151h1M14 151h1M18 151h0M21 151h0M23 151h0M27 151h3M32 151h0M12 152h0M15 152h0M19 152h2M24 152h0M29 152h2M11 153h0M14 153h0M16 153h2M22 153h0M25 153h0M29 153h2M9 154h0M11 154h0M13 154h0M23 154h0M26 154h0M30 154h2M9 155h1M13 155h0M20 155h2M30 155h1M33 155h0M8 156h1M11 156h0M13 156h0M18 156h0M26 156h1M30 156h0M8 157h0M10 157h2M15 157h0M17 157h0M22 157h0M25 157h0M28 157h0M30 157h2M9 158h0M11 158h0M13 158h0M16 158h0M28 158h7M11 159h1M16 159h0M20 159h0M23 159h0M28 159h5M8 160h1M12 160h0M20 160h0M22 160h0M27 160h1M30 160h2M8 161h2M12 161h1M18 161h0M27 161h0M29 161h4M10 162h2M15 162h0M21 162h0M24 162h0M29 162h3M8 163h0M10 163h3M24 163h0M30 163h3M9 164h6M19 164h0M23 164h0M28 164h2M32 164h0M8 165h4M17 165h1M25 165h0M30 165h2M10 166h4M16 166h0M20 166h2M26 166h1M30 166h1M33 166h0M12 167h2M16 167h0M24 167h3M29 167h1M10 168h0M12 168h0M14 168h1M18 168h0M21 168h0M24 168h1M27 168h3M12 169h1M15 169h3M24 169h1M27 169h1M31 169h0M11 170h0M13 170h0M15 170h1M18 170h0M20 170h1M25 170h3M30 170h0M13 171h0M15 171h0M19 171h6M27 171h1M15 172h0M20 172h2M25 172h0M27 172h1M17 173h1M24 173h0M27 173h0M13 174h0M20 174h0M24 174h0M17 175h0" stroke="#a6a6a6" stroke-width="1.6" stroke-linecap="round" fill="none" transform="translate(0.5 0.5)"/>
<path d="M47 40h1M40 41h0M24 42h0M16 149h0M21 149h1M16 150h0M18 150h0M22 150h0M16 151h1M19 151h1M24 151h2M16 152h2M22 152h1M25 152h3M19 153h2M23 153h0M26 153h2M12 154h0M14 154h2M18 154h0M20 154h2M24 154h0M27 154h2M12 155h0M14 155h5M23 155h6M10 156h0M14 156h3M19 156h6M28 156h1M13 157h0M16 157h0M18 157h3M23 157h1M26 157h0M29 157h0M12 158h0M14 158h1M17 158h10M13 159h2M17 159h2M21 159h1M24 159h2M11 160h0M13 160h6M21 160h0M23 160h3M29 160h0M11 161h0M14 161h3M19 161h7M28 161h0M13 162h1M16 162h4M22 162h1M25 162h1M28 162h0M9 163h0M14 163h9M25 163h0M27 163h2M16 164h2M20 164h2M24 164h3M14 165h2M19 165h5M26 165h3M15 166h0M17 166h2M23 166h1M28 166h0M15 167h0M17 167h6M28 167h0M16 168h1M20 168h0M22 168h0M26 168h0M20 169h0M22 169h0M26 169h0M22 170h0M24 170h0" stroke="#c6c6c6" stroke-width="1.6" stroke-linecap="round" fill="none" transform="translate(0.5 0.5)"/>
</g>
<rect x="53.5" y="1105.5" width="185" height="182" fill="none" stroke="#8c8c8c" stroke-width="1"/>
<path d="M53.5 1234.5H238.5" stroke="#a0a0a0" stroke-width="1" fill="none" style="mix-blend-mode:multiply"/>
<path d="M108.5 1105.5V1287.5" stroke="#3a3a3a" stroke-width="1" fill="none" style="mix-blend-mode:multiply"/>
<path d="M53.5 1105.5V1287.5" stroke="#3a3a3a" stroke-width="1" fill="none"/>
<path d="M53.5 1287.5v5M53.5 1287.5h-8M99.8 1287.5v5M53.5 1242h-8M146 1287.5v5M53.5 1196.5h-8M192.2 1287.5v5M53.5 1151h-8M238.5 1287.5v5M53.5 1105.5h-8" stroke="#6a6a6a" stroke-width="0.9" fill="none"/>
<text transform="translate(47.5 1305.5) scale(1.02 1)" font-family='"Liberation Sans", Arial, sans-serif' font-size="12.8" text-anchor="middle" fill="#161616">10<tspan font-size="8.5" dy="-3.8">0</tspan></text>
<text transform="translate(45.2 1293) scale(1.02 1)" font-family='"Liberation Sans", Arial, sans-serif' font-size="12.8" text-anchor="end" fill="#161616">10<tspan font-size="8.5" dy="-3.8">0</tspan></text>
<text transform="translate(93.8 1305.5) scale(1.02 1)" font-family='"Liberation Sans", Arial, sans-serif' font-size="12.8" text-anchor="middle" fill="#161616">10<tspan font-size="8.5" dy="-3.8">1</tspan></text>
<text transform="translate(45.2 1247.5) scale(1.02 1)" font-family='"Liberation Sans", Arial, sans-serif' font-size="12.8" text-anchor="end" fill="#161616">10<tspan font-size="8.5" dy="-3.8">1</tspan></text>
<text transform="translate(140 1305.5) scale(1.02 1)" font-family='"Liberation Sans", Arial, sans-serif' font-size="12.8" text-anchor="middle" fill="#161616">10<tspan font-size="8.5" dy="-3.8">2</tspan></text>
<text transform="translate(45.2 1202) scale(1.02 1)" font-family='"Liberation Sans", Arial, sans-serif' font-size="12.8" text-anchor="end" fill="#161616">10<tspan font-size="8.5" dy="-3.8">2</tspan></text>
<text transform="translate(186.2 1305.5) scale(1.02 1)" font-family='"Liberation Sans", Arial, sans-serif' font-size="12.8" text-anchor="middle" fill="#161616">10<tspan font-size="8.5" dy="-3.8">3</tspan></text>
<text transform="translate(45.2 1156.5) scale(1.02 1)" font-family='"Liberation Sans", Arial, sans-serif' font-size="12.8" text-anchor="end" fill="#161616">10<tspan font-size="8.5" dy="-3.8">3</tspan></text>
<text transform="translate(232.5 1305.5) scale(1.02 1)" font-family='"Liberation Sans", Arial, sans-serif' font-size="12.8" text-anchor="middle" fill="#161616">10<tspan font-size="8.5" dy="-3.8">4</tspan></text>
<text transform="translate(45.2 1111) scale(1.02 1)" font-family='"Liberation Sans", Arial, sans-serif' font-size="12.8" text-anchor="end" fill="#161616">10<tspan font-size="8.5" dy="-3.8">4</tspan></text>
<text transform="translate(59 1119) scale(1.12 1)" font-family='"Liberation Sans", Arial, sans-serif' font-size="11" font-weight="normal" text-anchor="start" fill="#1a1a1a">R2</text>
<text transform="translate(115 1119) scale(1.12 1)" font-family='"Liberation Sans", Arial, sans-serif' font-size="11" font-weight="normal" text-anchor="start" fill="#1a1a1a">R3</text>
<text transform="translate(59 1249.5) scale(1.12 1)" font-family='"Liberation Sans", Arial, sans-serif' font-size="11" font-weight="normal" text-anchor="start" fill="#1a1a1a">R4</text>
<text transform="translate(115 1249.5) scale(1.12 1)" font-family='"Liberation Sans", Arial, sans-serif' font-size="11" font-weight="normal" text-anchor="start" fill="#1a1a1a">R5</text>
<text x="62" y="1136" font-family='"Liberation Serif", "Times New Roman", serif' font-size="16.4" font-weight="bold" text-anchor="start" fill="#000">33%</text>
<text x="174" y="1137" font-family='"Liberation Serif", "Times New Roman", serif' font-size="16.4" font-weight="bold" text-anchor="start" fill="#000">0.5%</text>
<text x="174" y="1265" font-family='"Liberation Serif", "Times New Roman", serif' font-size="16.4" font-weight="bold" text-anchor="start" fill="#000">0.05%</text>
<g transform="translate(55.5 1354.5)" filter="url(#soft)">
<path d="M1 1h0M27 6h0M20 7h0M7 8h0M6 9h0M11 9h0M13 9h0M24 9h0M16 10h0M25 10h0M41 10h0M1 11h0M6 11h1M9 11h0M19 11h0M24 11h0M43 11h0M1 12h0M3 12h0M17 12h0M19 12h0M26 12h2M30 12h1M36 12h0M39 12h0M2 13h0M4 13h0M9 13h0M11 13h0M13 13h2M17 13h0M20 13h0M23 13h2M33 13h0M35 13h0M37 13h0M39 13h0M1 14h0M4 14h0M6 14h1M9 14h1M12 14h0M17 14h2M21 14h0M23 14h3M28 14h1M31 14h0M35 14h0M40 14h0M48 14h0M1 15h1M4 15h1M8 15h1M11 15h1M14 15h2M19 15h1M22 15h1M26 15h0M28 15h1M31 15h3M36 15h0M40 15h0M4 16h1M7 16h1M10 16h0M12 16h5M19 16h6M27 16h7M39 16h1M42 16h0M1 17h1M4 17h4M10 17h11M23 17h0M25 17h6M34 17h0M36 17h0M54 17h0M1 18h2M5 18h8M15 18h1M19 18h14M38 18h0M40 18h1M1 19h0M3 19h0M6 19h2M10 19h1M14 19h1M17 19h0M20 19h5M27 19h0M29 19h4M35 19h2M39 19h1M45 19h1M1 20h1M4 20h5M11 20h0M14 20h0M18 20h0M21 20h0M24 20h1M29 20h6M37 20h0M39 20h0M45 20h0M1 21h8M14 21h1M20 21h0M27 21h1M30 21h4M36 21h3M41 21h0M1 22h2M5 22h2M10 22h0M12 22h0M14 22h0M20 22h0M26 22h9M37 22h0M39 22h0M41 22h0M1 23h0M3 23h1M6 23h1M15 23h0M20 23h0M24 23h0M29 23h11M47 23h0M3 24h1M6 24h0M9 24h0M11 24h1M28 24h1M31 24h0M33 24h4M39 24h0M42 24h0M45 24h0M1 25h3M9 25h1M32 25h4M38 25h0M42 25h1M46 25h0M4 26h0M6 26h0M17 26h1M32 26h3M37 26h4M1 27h2M5 27h1M10 27h0M16 27h0M24 27h1M29 27h0M33 27h1M36 27h0M38 27h0M41 27h0M2 28h0M5 28h1M10 28h0M22 28h0M30 28h6M42 28h0M48 28h0M50 28h0M1 29h0M3 29h0M5 29h0M8 29h0M31 29h3M36 29h0M39 29h2M43 29h1M47 29h0M2 30h1M11 30h0M15 30h0M30 30h0M32 30h0M35 30h5M43 30h0M45 30h0M1 31h4M8 31h1M17 31h0M23 31h0M26 31h0M29 31h0M32 31h2M37 31h7M47 31h0M1 32h2M5 32h0M8 32h0M16 32h0M19 32h0M24 32h0M32 32h1M35 32h0M38 32h1M41 32h0M45 32h0M1 33h0M3 33h0M5 33h3M11 33h0M16 33h0M26 33h0M29 33h7M38 33h0M40 33h1M45 33h0M1 34h3M6 34h5M13 34h0M28 34h8M39 34h1M53 34h0M1 35h0M3 35h7M13 35h0M21 35h0M25 35h1M29 35h6M1 36h0M5 36h1M8 36h4M14 36h0M16 36h0M23 36h0M25 36h5M32 36h3M38 36h2M44 36h0M1 37h2M5 37h7M14 37h0M19 37h1M22 37h7M31 37h0M33 37h0M35 37h1M38 37h0M40 37h1M45 37h0M1 38h0M4 38h0M7 38h4M13 38h1M16 38h2M21 38h8M32 38h1M35 38h0M37 38h0M39 38h0M43 38h0M1 39h2M5 39h3M11 39h4M17 39h1M20 39h9M31 39h0M33 39h1M37 39h0M41 39h0M53 39h0M1 40h0M6 40h1M9 40h0M11 40h10M23 40h0M25 40h1M28 40h0M30 40h0M32 40h0M36 40h0M5 41h10M17 41h2M21 41h9M35 41h1M1 42h0M6 42h0M8 42h0M10 42h0M13 42h3M18 42h10M31 42h1M39 42h0M46 42h0M6 43h0M10 43h16M28 43h0M30 43h2M34 43h0M37 43h1M52 43h0M5 44h0M8 44h10M20 44h3M25 44h4M31 44h0M33 44h2M40 44h0M1 45h1M6 45h4M14 45h0M17 45h4M23 45h3M30 45h0M32 45h0M1 46h1M5 46h0M8 46h0M10 46h2M14 46h5M21 46h3M27 46h1M30 46h1M1 47h0M3 47h0M7 47h0M9 47h3M14 47h11M27 47h0M29 47h0M31 47h1M36 47h0M1 48h0M10 48h0M13 48h2M17 48h3M22 48h5M29 48h0M33 48h2M38 48h0M4 49h2M8 49h1M11 49h0M13 49h2M17 49h9M28 49h0M1 50h0M5 50h0M10 50h4M16 50h2M20 50h0M22 50h1M25 50h2M29 50h0M33 50h0M35 50h0M38 50h0M1 51h1M6 51h0M8 51h1M11 51h14M28 51h0M30 51h1M39 51h0M54 51h0M2 52h0M7 52h1M11 52h2M15 52h1M18 52h8M29 52h0M1 53h1M5 53h2M9 53h0M11 53h0M13 53h0M16 53h9M27 53h1M32 53h1M35 53h0M37 53h0M1 54h1M4 54h0M6 54h12M20 54h4M26 54h0M30 54h1M33 54h0M87 54h0M1 55h3M9 55h2M13 55h0M16 55h11M29 55h0M32 55h0M35 55h1M4 56h0M7 56h0M9 56h6M17 56h1M21 56h2M26 56h0M29 56h1M33 56h0M1 57h0M3 57h0M5 57h4M11 57h0M14 57h9M25 57h7M34 57h0M2 58h0M4 58h1M7 58h20M31 58h0M36 58h0M90 58h0M1 59h0M6 59h0M8 59h1M11 59h11M24 59h2M28 59h1M34 59h0M4 60h0M6 60h2M11 60h15M28 60h1M32 60h0M34 60h0M37 60h0M4 61h0M8 61h0M11 61h2M15 61h9M27 61h1M30 61h0M51 61h0M7 62h0M9 62h0M11 62h3M16 62h6M24 62h1M29 62h0M33 62h1M37 62h0M2 63h0M5 63h1M8 63h0M11 63h0M14 63h6M22 63h3M27 63h4M36 63h0M99 63h0M2 64h2M6 64h1M12 64h2M16 64h7M25 64h0M27 64h1M31 64h0M45 64h0M1 65h0M4 65h1M8 65h0M11 65h9M22 65h7M32 65h1M4 66h0M11 66h12M25 66h6M33 66h0M38 66h0M3 67h0M5 67h0M8 67h1M12 67h5M19 67h5M26 67h0M28 67h1M31 67h2M1 68h0M5 68h0M10 68h13M25 68h5M32 68h2M37 68h0M7 69h1M10 69h2M14 69h6M23 69h0M25 69h1M28 69h0M33 69h0M38 69h0M1 70h0M8 70h1M12 70h2M16 70h3M21 70h7M32 70h0M1 71h0M6 71h4M12 71h0M14 71h0M16 71h2M20 71h2M24 71h4M31 71h0M4 72h0M6 72h4M12 72h0M15 72h5M22 72h5M29 72h3M34 72h0M1 73h0M6 73h1M10 73h0M12 73h2M16 73h5M24 73h4M31 73h1M43 73h0M3 74h0M5 74h0M8 74h0M10 74h14M27 74h1M30 74h2M35 74h0M40 74h0M53 74h0M3 75h0M6 75h0M10 75h0M15 75h7M24 75h0M27 75h2M31 75h0M33 75h0M1 76h1M5 76h1M8 76h11M21 76h5M28 76h0M32 76h0M8 77h0M10 77h0M12 77h2M17 77h1M21 77h1M24 77h3M31 77h2M36 77h0M2 78h1M8 78h0M10 78h1M13 78h13M28 78h1M32 78h0M35 78h0M81 78h0M1 79h0M6 79h0M8 79h1M11 79h0M13 79h3M18 79h3M23 79h3M28 79h4M1 80h2M7 80h0M10 80h3M15 80h4M21 80h1M25 80h1M28 80h0M33 80h0M38 80h0M40 80h0M4 81h1M7 81h12M21 81h1M24 81h6M33 81h0M1 82h0M8 82h3M13 82h12M27 82h2M32 82h0M35 82h1M43 82h0M4 83h1M8 83h6M16 83h7M25 83h4M31 83h0M33 83h1M40 83h0M1 84h0M8 84h19M30 84h0M5 85h7M14 85h1M17 85h0M19 85h2M23 85h4M31 85h0M53 85h0M1 86h0M3 86h2M7 86h2M13 86h2M17 86h0M19 86h2M23 86h8M1 87h0M6 87h3M13 87h0M15 87h1M19 87h4M25 87h3M4 88h0M7 88h4M13 88h5M20 88h3M25 88h2M31 88h0M39 88h0M1 89h0M5 89h1M8 89h0M13 89h3M18 89h0M20 89h0M22 89h4M28 89h1M31 89h0M33 89h0M54 89h0M1 90h1M7 90h2M11 90h3M16 90h2M20 90h3M25 90h1M31 90h0M33 90h0M35 90h0M4 91h1M7 91h1M10 91h0M12 91h9M25 91h2M30 91h3M1 92h0M3 92h0M7 92h1M10 92h0M12 92h2M16 92h12M30 92h0M32 92h0M11 93h0M13 93h3M18 93h7M27 93h2M31 93h1M34 93h0M36 93h0M45 93h0M54 93h0M6 94h0M10 94h0M13 94h7M22 94h5M29 94h0M31 94h1M34 94h0M40 94h0M44 94h0M3 95h1M6 95h1M9 95h0M11 95h11M25 95h4M1 96h1M5 96h0M8 96h1M13 96h2M17 96h9M29 96h0M31 96h0M35 96h0M4 97h0M7 97h5M15 97h3M20 97h4M26 97h0M28 97h0M32 97h0M35 97h0M1 98h0M4 98h1M7 98h0M9 98h10M22 98h0M24 98h1M27 98h0M31 98h0M34 98h0M36 98h0M1 99h1M4 99h3M9 99h0M13 99h3M18 99h0M20 99h8M31 99h0M33 99h1M1 100h0M8 100h9M21 100h3M26 100h4M43 100h0M2 101h0M6 101h0M9 101h3M14 101h6M22 101h7M31 101h0M3 102h0M6 102h0M8 102h3M13 102h3M18 102h0M20 102h5M27 102h2M32 102h0M97 102h0M5 103h0M9 103h0M11 103h1M14 103h1M17 103h7M27 103h3M33 103h2M42 103h0M5 104h1M8 104h1M11 104h6M19 104h13M35 104h0M5 105h0M7 105h4M13 105h5M21 105h6M29 105h0M34 105h0M36 105h1M1 106h0M9 106h0M11 106h1M14 106h7M23 106h1M28 106h1M3 107h0M6 107h0M8 107h1M11 107h8M21 107h5M29 107h0M32 107h0M4 108h3M11 108h1M14 108h0M16 108h4M22 108h3M27 108h0M34 108h0M52 108h0M1 109h0M4 109h4M10 109h0M12 109h2M16 109h1M20 109h5M27 109h4M34 109h0M37 109h0M48 109h0M100 109h0M2 110h0M4 110h0M9 110h1M12 110h0M14 110h4M20 110h0M23 110h3M29 110h0M31 110h0M37 110h0M39 110h0M5 111h0M7 111h6M15 111h0M17 111h8M27 111h0M30 111h1M34 111h1M1 112h0M3 112h1M8 112h2M12 112h12M26 112h0M28 112h0M32 112h0M1 113h0M3 113h0M6 113h0M8 113h0M10 113h0M13 113h0M15 113h16M33 113h0M40 113h0M51 113h0M3 114h0M5 114h0M7 114h0M9 114h4M15 114h9M26 114h0M28 114h0M32 114h2M36 114h0M3 115h0M5 115h1M8 115h0M11 115h5M18 115h1M21 115h3M26 115h0M28 115h0M58 115h0M3 116h0M5 116h0M10 116h4M16 116h4M22 116h6M30 116h0M33 116h0M38 116h0M46 116h0M50 116h0M5 117h2M10 117h0M13 117h12M31 117h0M35 117h0M43 117h0M50 117h0M1 118h1M5 118h0M8 118h17M31 118h0M41 118h0M55 118h0M58 118h0M60 118h0M1 119h0M4 119h1M9 119h0M11 119h1M14 119h8M24 119h1M27 119h0M29 119h0M33 119h0M45 119h0M54 119h0M1 120h0M4 120h0M6 120h1M9 120h0M11 120h1M14 120h0M16 120h6M25 120h3M30 120h0M40 120h0M42 120h0M51 120h0M57 120h1M1 121h0M3 121h0M8 121h0M10 121h11M23 121h1M26 121h0M28 121h1M34 121h0M42 121h1M50 121h0M52 121h0M59 121h0M7 122h0M9 122h1M12 122h0M14 122h18M34 122h0M41 122h0M53 122h0M56 122h0M58 122h0M2 123h0M5 123h0M8 123h1M12 123h0M14 123h1M18 123h6M26 123h3M31 123h0M38 123h0M41 123h0M43 123h0M4 124h1M8 124h3M14 124h9M25 124h0M28 124h4M34 124h0M37 124h0M54 124h0M3 125h1M6 125h0M9 125h0M11 125h16M30 125h0M32 125h0M34 125h1M47 125h0M52 125h0M1 126h1M7 126h2M12 126h0M14 126h1M17 126h14M33 126h0M36 126h0M41 126h0M46 126h0M54 126h1M60 126h0M1 127h0M6 127h1M9 127h0M12 127h3M17 127h12M31 127h0M36 127h0M39 127h0M42 127h0M48 127h0M57 127h0M60 127h0M2 128h0M8 128h2M14 128h10M26 128h2M30 128h0M32 128h2M41 128h0M60 128h0M1 129h0M6 129h0M8 129h0M11 129h4M18 129h0M20 129h4M26 129h1M30 129h0M32 129h0M34 129h0M38 129h0M45 129h0M49 129h0M54 129h1M1 130h1M4 130h1M7 130h1M10 130h4M16 130h2M20 130h2M24 130h6M32 130h0M34 130h0M38 130h0M5 131h0M8 131h2M14 131h0M16 131h10M28 131h1M31 131h0M35 131h1M40 131h1M44 131h0M47 131h0M54 131h0M56 131h0M3 132h0M8 132h10M21 132h10M33 132h2M51 132h1M2 133h0M4 133h0M6 133h0M8 133h1M11 133h9M22 133h9M33 133h0M35 133h0M38 133h1M42 133h0M44 133h0M58 133h0M1 134h0M4 134h0M6 134h15M23 134h13M52 134h0M1 135h0M4 135h3M9 135h3M14 135h1M17 135h1M20 135h7M30 135h5M39 135h0M43 135h0M48 135h0M51 135h0M59 135h0M2 136h2M8 136h3M13 136h7M25 136h5M32 136h4M38 136h1M41 136h1M45 136h0M54 136h1M60 136h0M1 137h0M3 137h0M5 137h0M7 137h1M10 137h12M24 137h1M27 137h2M31 137h2M35 137h0M41 137h2M47 137h0M5 138h3M10 138h11M23 138h1M28 138h5M37 138h0M42 138h0M46 138h0M49 138h0M59 138h0M1 139h1M9 139h3M14 139h1M17 139h9M28 139h2M32 139h4M38 139h4M50 139h0M53 139h0M57 139h0M2 140h0M4 140h0M9 140h8M19 140h3M24 140h0M26 140h0M28 140h2M32 140h0M35 140h5M1 141h0M3 141h0M5 141h1M9 141h0M11 141h9M22 141h0M25 141h13M40 141h0M56 141h0M59 141h0M1 142h0M3 142h0M6 142h0M8 142h8M19 142h0M22 142h4M30 142h1M33 142h5M42 142h0M44 142h2M50 142h0M52 142h0M2 143h1M5 143h8M15 143h0M18 143h1M24 143h0M27 143h1M30 143h4M36 143h2M43 143h0M51 143h0M1 144h0M5 144h2M9 144h3M14 144h2M18 144h0M27 144h0M29 144h1M32 144h5M41 144h0M45 144h1M49 144h0M4 145h3M9 145h3M14 145h1M18 145h0M24 145h0M26 145h0M31 145h0M33 145h0M35 145h0M37 145h1M43 145h0M52 145h0M5 146h7M17 146h0M19 146h0M31 146h0M33 146h0M35 146h5M46 146h1M49 146h0M53 146h0M57 146h0M59 146h0M1 147h0M3 147h8M13 147h0M29 147h8M39 147h2M43 147h0M49 147h0M53 147h0M3 148h1M8 148h3M22 148h0M27 148h0M31 148h2M35 148h5M43 148h0M49 148h0M53 148h0M55 148h0M1 149h0M3 149h6M11 149h1M16 149h0M23 149h0M33 149h7M42 149h3M47 149h0M1 150h1M4 150h5M34 150h4M40 150h1M43 150h0M50 150h0M1 151h0M3 151h0M6 151h5M14 151h0M19 151h0M21 151h0M33 151h2M37 151h1M40 151h1M44 151h1M50 151h0M56 151h0M1 152h0M3 152h0M5 152h3M10 152h0M13 152h0M33 152h8M43 152h1M49 152h0M52 152h0M1 153h0M4 153h7M34 153h4M41 153h4M52 153h1M2 154h7M11 154h0M32 154h8M42 154h1M45 154h0M75 154h0M1 155h3M6 155h5M13 155h0M15 155h0M26 155h0M33 155h4M40 155h0M42 155h0M44 155h0M46 155h1M52 155h0M1 156h0M4 156h0M7 156h1M10 156h2M31 156h9M42 156h0M57 156h0M1 157h1M4 157h5M12 157h0M18 157h0M35 157h6M45 157h0M89 157h0M1 158h0M4 158h0M6 158h1M9 158h3M32 158h0M34 158h4M41 158h3M46 158h1M53 158h0M1 159h5M9 159h1M16 159h0M31 159h1M34 159h0M36 159h5M43 159h1M47 159h0M52 159h0M1 160h2M7 160h3M15 160h0M25 160h0M33 160h3M38 160h0M40 160h2M57 160h0M1 161h0M3 161h0M5 161h8M16 161h0M22 161h0M25 161h0M31 161h3M37 161h0M39 161h3M46 161h0M55 161h2M1 162h1M4 162h0M6 162h1M9 162h0M17 162h3M22 162h0M25 162h0M27 162h0M30 162h0M34 162h0M36 162h1M39 162h0M41 162h1M1 163h0M3 163h0M7 163h6M27 163h0M29 163h1M33 163h1M36 163h0M38 163h0M40 163h0M42 163h3M49 163h0M52 163h1M2 164h0M5 164h7M16 164h1M23 164h1M27 164h0M33 164h6M41 164h2M45 164h0M51 164h1M57 164h0M1 165h0M4 165h0M7 165h1M10 165h2M18 165h0M27 165h1M30 165h0M32 165h6M40 165h2M58 165h0M1 166h0M6 166h0M9 166h1M12 166h0M16 166h0M21 166h0M23 166h0M26 166h1M29 166h1M32 166h5M39 166h1M42 166h1M51 166h0M5 167h3M12 167h0M14 167h1M17 167h1M25 167h3M30 167h0M32 167h0M34 167h2M38 167h0M40 167h1M43 167h0M52 167h0M56 167h0M1 168h1M5 168h5M12 168h2M17 168h0M25 168h0M27 168h3M32 168h2M36 168h0M38 168h3M43 168h0M47 168h0M50 168h0M4 169h1M8 169h1M11 169h3M16 169h1M27 169h0M31 169h0M33 169h4M39 169h0M45 169h0M48 169h0M53 169h0M2 170h0M5 170h0M7 170h1M10 170h8M20 170h1M23 170h0M25 170h0M27 170h2M31 170h0M33 170h4M53 170h0M55 170h0M7 171h0M9 171h10M22 171h1M25 171h1M28 171h2M32 171h3M38 171h0M49 171h0M54 171h0M4 172h0M7 172h0M9 172h1M12 172h10M24 172h2M28 172h7M37 172h0M48 172h0M54 172h0M4 173h2M9 173h0M12 173h1M15 173h11M28 173h7M47 173h1M53 173h0M4 174h0M8 174h0M12 174h0M15 174h2M19 174h1M22 174h10M34 174h1M40 174h0M43 174h0M3 175h0M5 175h0M7 175h3M15 175h0M18 175h0M20 175h1M23 175h2M27 175h1M33 175h0M36 175h1M1 176h0M7 176h0M11 176h0M13 176h0M15 176h1M18 176h9M29 176h1M33 176h0M36 176h0M5 177h0M7 177h0M9 177h28M39 177h1M42 177h0M45 177h0" stroke="#848484" stroke-width="1.6" stroke-linecap="round" fill="none" transform="translate(0.5 0.5)"/>
<path d="M14 18h0M17 18h1M13 19h0M16 19h0M18 19h1M10 20h0M12 20h0M15 20h2M19 20h1M23 20h0M26 20h2M10 21h3M16 21h3M21 21h5M29 21h0M8 22h1M11 22h0M13 22h0M15 22h4M22 22h3M5 23h0M8 23h6M16 23h1M19 23h0M21 23h0M23 23h0M25 23h3M1 24h0M5 24h0M7 24h1M10 24h0M13 24h3M20 24h0M22 24h5M30 24h0M32 24h0M5 25h3M11 25h3M16 25h0M20 25h2M25 25h6M1 26h0M5 26h0M7 26h2M11 26h1M14 26h1M19 26h0M21 26h10M4 27h0M7 27h2M11 27h3M19 27h1M27 27h1M30 27h1M1 28h0M3 28h0M7 28h2M11 28h1M14 28h3M20 28h1M23 28h2M27 28h2M2 29h0M4 29h0M6 29h1M9 29h8M23 29h2M27 29h3M4 30h1M7 30h2M13 30h0M16 30h1M20 30h0M22 30h0M24 30h5M31 30h0M33 30h0M6 31h1M10 31h2M15 31h1M18 31h1M21 31h0M27 31h1M30 31h1M4 32h0M6 32h1M9 32h6M23 32h0M25 32h6M9 33h1M12 33h3M17 33h3M22 33h3M27 33h1M12 34h0M14 34h13M11 35h0M15 35h5M23 35h1M27 35h1M13 36h0M15 36h0M17 36h5M13 37h0M15 37h3M21 37h0M15 38h0M19 38h0M16 39h0M19 39h0M22 40h0M17 42h0M22 45h0M15 109h0M23 130h0M19 132h1M22 134h0M13 135h0M16 135h0M19 135h0M21 136h1M24 136h0M23 137h0M26 137h0M22 138h0M25 138h2M16 139h0M23 140h0M25 140h0M27 140h0M21 141h0M23 141h1M17 142h1M20 142h1M27 142h2M14 143h0M17 143h0M20 143h2M25 143h0M29 143h0M13 144h0M19 144h2M23 144h3M28 144h0M16 145h1M19 145h4M25 145h0M28 145h2M32 145h0M34 145h0M13 146h3M18 146h0M21 146h1M24 146h0M26 146h4M32 146h0M12 147h0M14 147h1M17 147h1M20 147h0M24 147h4M12 148h5M21 148h0M23 148h2M28 148h2M13 149h1M22 149h0M24 149h0M27 149h5M10 150h6M20 150h1M26 150h0M29 150h4M12 151h1M15 151h1M20 151h0M24 151h0M27 151h1M30 151h0M32 151h0M36 151h0M11 152h1M14 152h2M23 152h2M28 152h0M31 152h1M12 153h1M15 153h0M17 153h0M24 153h0M27 153h0M29 153h1M32 153h1M10 154h0M12 154h2M19 154h1M26 154h1M29 154h2M12 155h0M17 155h0M21 155h3M27 155h0M30 155h0M32 155h0M9 156h0M13 156h3M18 156h0M22 156h0M24 156h0M26 156h0M28 156h2M10 157h1M13 157h0M15 157h2M20 157h1M25 157h1M28 157h6M8 158h0M13 158h1M16 158h1M23 158h4M33 158h0M8 159h0M11 159h3M18 159h1M22 159h1M27 159h0M29 159h1M33 159h0M35 159h0M11 160h3M16 160h2M21 160h1M24 160h0M26 160h0M30 160h2M14 161h1M17 161h4M23 161h0M26 161h4M35 161h0M8 162h0M10 162h6M24 162h0M26 162h0M28 162h1M31 162h2M14 163h5M22 163h2M26 163h0M28 163h0M31 163h1M13 164h2M18 164h4M25 164h1M28 164h4M13 165h4M19 165h7M29 165h0M31 165h0M13 166h2M17 166h3M22 166h0M24 166h1M28 166h0M31 166h0M13 167h0M16 167h0M19 167h2M23 167h1M31 167h0M15 168h1M18 168h6M26 168h0M18 169h8M28 169h2M19 170h0M22 170h0M24 170h0M26 170h0M30 170h0M20 171h1M24 171h0M23 172h0M27 172h0M27 173h0" stroke="#a0a0a0" stroke-width="1.6" stroke-linecap="round" fill="none" transform="translate(0.5 0.5)"/>
<path d="M13 20h0M21 22h0M18 23h0M22 23h0M17 24h2M21 24h0M15 25h0M17 25h2M23 25h1M10 26h0M13 26h0M16 26h0M20 26h0M15 27h0M17 27h1M21 27h2M26 27h0M13 28h0M18 28h1M26 28h0M18 29h4M26 29h0M1 30h0M6 30h0M10 30h0M12 30h0M14 30h0M18 30h1M21 30h0M23 30h0M13 31h1M20 31h0M22 31h0M24 31h1M17 32h1M20 32h2M21 33h0M23 143h0M26 143h0M17 144h0M22 144h0M27 145h0M20 146h0M23 146h0M25 146h0M16 147h0M19 147h0M21 147h2M18 148h2M26 148h0M15 149h0M17 149h4M25 149h1M17 150h2M22 150h3M27 150h1M17 151h1M22 151h1M25 151h1M29 151h0M31 151h0M17 152h5M26 152h1M29 152h1M14 153h0M16 153h0M18 153h5M25 153h1M28 153h0M31 153h0M15 154h3M21 154h4M28 154h0M14 155h0M16 155h0M18 155h2M25 155h0M28 155h1M31 155h0M17 156h0M19 156h2M23 156h0M25 156h0M27 156h0M14 157h0M19 157h0M22 157h2M27 157h0M15 158h0M18 158h4M28 158h3M15 159h0M17 159h0M20 159h1M24 159h2M28 159h0M19 160h1M23 160h0M27 160h2M24 161h0M21 162h0M23 162h0M20 163h1M25 163h0M22 167h0" stroke="#c2c2c2" stroke-width="1.6" stroke-linecap="round" fill="none" transform="translate(0.5 0.5)"/>
</g>
<rect x="55.5" y="1354.5" width="181" height="178" fill="none" stroke="#9a9a9a" stroke-width="1"/>
<path d="M55.5 1479.5H236.5" stroke="#9a9a9a" stroke-width="1" fill="none" style="mix-blend-mode:multiply"/>
<path d="M110.5 1354.5V1532.5" stroke="#9a9a9a" stroke-width="1" fill="none" style="mix-blend-mode:multiply"/>
<path d="M55.5 1532.5v5M55.5 1532.5h-8M100.8 1532.5v5M55.5 1488h-8M146 1532.5v5M55.5 1443.5h-8M191.2 1532.5v5M55.5 1399h-8M236.5 1532.5v5M55.5 1354.5h-8" stroke="#6a6a6a" stroke-width="0.9" fill="none"/>
<text transform="translate(49.5 1550.5) scale(1.02 1)" font-family='"Liberation Sans", Arial, sans-serif' font-size="12.8" text-anchor="middle" fill="#161616">10<tspan font-size="8.5" dy="-3.8">0</tspan></text>
<text transform="translate(47.2 1538) scale(1.02 1)" font-family='"Liberation Sans", Arial, sans-serif' font-size="12.8" text-anchor="end" fill="#161616">10<tspan font-size="8.5" dy="-3.8">0</tspan></text>
<text transform="translate(94.8 1550.5) scale(1.02 1)" font-family='"Liberation Sans", Arial, sans-serif' font-size="12.8" text-anchor="middle" fill="#161616">10<tspan font-size="8.5" dy="-3.8">1</tspan></text>
<text transform="translate(47.2 1493.5) scale(1.02 1)" font-family='"Liberation Sans", Arial, sans-serif' font-size="12.8" text-anchor="end" fill="#161616">10<tspan font-size="8.5" dy="-3.8">1</tspan></text>
<text transform="translate(140 1550.5) scale(1.02 1)" font-family='"Liberation Sans", Arial, sans-serif' font-size="12.8" text-anchor="middle" fill="#161616">10<tspan font-size="8.5" dy="-3.8">2</tspan></text>
<text transform="translate(47.2 1449) scale(1.02 1)" font-family='"Liberation Sans", Arial, sans-serif' font-size="12.8" text-anchor="end" fill="#161616">10<tspan font-size="8.5" dy="-3.8">2</tspan></text>
<text transform="translate(185.2 1550.5) scale(1.02 1)" font-family='"Liberation Sans", Arial, sans-serif' font-size="12.8" text-anchor="middle" fill="#161616">10<tspan font-size="8.5" dy="-3.8">3</tspan></text>
<text transform="translate(47.2 1404.5) scale(1.02 1)" font-family='"Liberation Sans", Arial, sans-serif' font-size="12.8" text-anchor="end" fill="#161616">10<tspan font-size="8.5" dy="-3.8">3</tspan></text>
<text transform="translate(230.5 1550.5) scale(1.02 1)" font-family='"Liberation Sans", Arial, sans-serif' font-size="12.8" text-anchor="middle" fill="#161616">10<tspan font-size="8.5" dy="-3.8">4</tspan></text>
<text transform="translate(47.2 1360) scale(1.02 1)" font-family='"Liberation Sans", Arial, sans-serif' font-size="12.8" text-anchor="end" fill="#161616">10<tspan font-size="8.5" dy="-3.8">4</tspan></text>
<text transform="translate(61 1369) scale(1.12 1)" font-family='"Liberation Sans", Arial, sans-serif' font-size="11" font-weight="normal" text-anchor="start" fill="#1a1a1a">R2</text>
<text transform="translate(116.5 1369) scale(1.12 1)" font-family='"Liberation Sans", Arial, sans-serif' font-size="11" font-weight="normal" text-anchor="start" fill="#1a1a1a">R3</text>
<text transform="translate(61 1496) scale(1.12 1)" font-family='"Liberation Sans", Arial, sans-serif' font-size="11" font-weight="normal" text-anchor="start" fill="#1a1a1a">R4</text>
<text transform="translate(116.5 1496) scale(1.12 1)" font-family='"Liberation Sans", Arial, sans-serif' font-size="11" font-weight="normal" text-anchor="start" fill="#1a1a1a">R5</text>
<text x="57" y="1432" font-family='"Liberation Serif", "Times New Roman", serif' font-size="16.4" font-weight="bold" text-anchor="start" fill="#000">40.6%</text>
<text x="172" y="1393" font-family='"Liberation Serif", "Times New Roman", serif' font-size="16.4" font-weight="bold" text-anchor="start" fill="#000">0.1%</text>
<text x="168" y="1512" font-family='"Liberation Serif", "Times New Roman", serif' font-size="16.4" font-weight="bold" text-anchor="start" fill="#000">0.5%</text>
<path d="M270.7 1039.7L270.7 972.7h1L271.7 971.5h1L272.7 969.1h1L273.7 967.6h1L274.7 963h1L275.7 960.5h1L276.7 958.4h1L277.7 956.4h1L278.7 956h1L279.7 949h1L280.7 945.5h1L281.7 944.6h1L282.7 938.2h1L283.7 938.7h1L284.7 933.5h1L285.7 932.7h1L286.7 926.4h1L287.7 923.5h1L288.7 926.9h1L289.7 918.7h1L290.7 921.1h1L291.7 921.2h1L292.7 925.3h1L293.7 925.8h1L294.7 925h1L295.7 927.6h1L296.7 934h1L297.7 929.6h1L298.7 938.6h1L299.7 946.6h1L300.7 944.2h1L301.7 949.7h1L302.7 952.4h1L303.7 961.1h1L304.7 965.6h1L305.7 974h1L306.7 977.5h1L307.7 984h1L308.7 987.6h1L309.7 995.2h1L310.7 1002.3h1L311.8 1006.2h1L312.8 1009.7h1L313.8 1013.8h1L314.8 1015.1h1L315.8 1019.1h1L316.8 1022.6h1L317.8 1025.5h1L318.8 1026.4h1L319.8 1029.2h1L320.8 1031.1h1L321.8 1032.4h1L322.8 1032.8h1L323.8 1034.7h1L324.8 1035.5h1L325.8 1036.6h1L326.8 1037.1h1L327.8 1037.5h1L328.8 1036.8h1L329.8 1038h1L330.8 1038.1h1L331.8 1038.1h1L332.8 1037.2h1L333.8 1037.9h1L334.8 1038.5h1L335.8 1037.9h1L336.8 1037.3h1L337.8 1037.5h1L338.8 1038.7h1L339.8 1038.6h1L340.8 1038h1L341.8 1038.3h1L342.8 1038.7h1L343.8 1038.7h1L344.8 1037.6h1L345.8 1039.2h1L346.8 1039.3h1L347.8 1039.3h1L348.8 1039.4h1L349.8 1039.4h1L350.8 1039.4h1L351.8 1039.5h1L352.8 1039.5h1L353.8 1039.5h1L354.8 1039.5h1L355.8 1039.6h1L356.8 1039.6h1L357.8 1039.6h1L358.8 1039.6h1L359.8 1039.7h1L360.8 1039.7h1L361.8 1039.7h1L362.8 1039.7h1L363.8 1039.7h1L364.8 1039.7h1L365.8 1039.7h1L366.8 1039.7h1L367.8 1039.7h1L368.8 1039.7h1L369.8 1039.7h1L370.8 1039.7h1L371.8 1039.7h1L372.8 1039.7h1L373.8 1039.7h1L374.8 1039.7h1L375.8 1039.7h1L376.8 1039.7h1L377.8 1039.7h1L378.8 1039.7h1L379.8 1039.7h1L380.8 1039.7h1L381.8 1039.7h1L382.8 1039.7h1L383.8 1039.7h1L384.8 1039.7h1L385.8 1039.7h1L386.8 1039.7h1L387.8 1039.7h1L388.8 1039.7h1L389.8 1039.7h1L390.8 1039.7h1L391.9 1039.7h1L392.9 1039.7h1L393.9 1039.7h1L394.9 1039.7h1L395.9 1039.7h1L396.9 1039.7h1L397.9 1039.7h1L398.9 1039.7h1L399.9 1039.7h1L400.9 1039.7h1L401.9 1039.7h1L402.9 1039.7h1L403.9 1039.7h1L404.9 1039.7h1L405.9 1039.7h1L406.9 1039.7h1L407.9 1039.7h1L408.9 1039.7h1L409.9 1039.7h1L410.9 1039.7h1L411.9 1039.7h1L412.9 1039.7h1L413.9 1039.7h1L414.9 1039.7h1L415.9 1039.7h1L416.9 1039.7h1L417.9 1039.7h1L418.9 1039.7h1L419.9 1039.7h1L420.9 1039.7h1L421.9 1039.7h1L422.9 1039.7h1L423.9 1039.7h1L424.9 1039.7h1L425.9 1039.7h1L426.9 1039.7h1L427.9 1039.7h1L428.9 1039.7h1L429.9 1039.7h1L430.9 1039.7h1L431.9 1039.7h1L432.9 1039.7h1L433.9 1039.7h1L434.9 1039.7h1L435.9 1039.7h1L436.9 1039.7h1L437.9 1039.7h1L438.9 1039.7h1L439.9 1039.7h1L440.9 1039.7h1L441.9 1039.7h1L442.9 1039.7h1L443.9 1039.7h1L444.9 1039.7h1L445.9 1039.7h1L446.9 1039.7h1L447.9 1039.7h1L448.9 1039.7h1L449.9 1039.7h1L450.9 1039.7h1L451.9 1039.7h1L452.9 1039.7h1L453.9 1039.7h1L454.9 1039.7h1L455.9 1039.7h1L456.9 1039.7h1L457.9 1039.7h1L458.9 1039.7h1L459.9 1039.7h1L460.9 1039.7h1L461.9 1039.7h1L462.9 1039.7h1L463.9 1039.7h1L464.9 1039.7h1L465.9 1039.7h1L466.9 1039.7h1L467.9 1039.7h1L468.9 1039.7h1L469.9 1039.7h1L470.9 1039.7h1L472 1039.7h1L473 1039.7h1L474 1039.7h1L475 1039.7h1L476 1039.7h1L477 1039.7h1L478 1039.7h1L479 1039.7h1L480 1039.7h1L481 1039.7h1L482 1039.7h1L483 1039.7h1L484 1039.7h1L485 1039.7h1L486 1039.7h1L487 1039.7h1L488 1039.7h1L489 1039.7h1L490 1039.7h1L491 1039.7h1L492 1039.7h1L493 1039.7h1L494 1039.7h1L495 1039.7h1L496 1039.7h1L497 1039.7h1L498 1039.7h1L499 1039.7h1L500 1039.7h1L501 1039.7h1L502 1039.7h1L503 1039.7h1L504 1039.7h1L505 1039.7h1L506 1039.7h1L507 1039.7h1L508 1039.7h1L509 1039.7h1L510 1039.7h1L511 1039.7h1L512 1039.7h1L512 1039.7Z" fill="#6c6c6c" stroke="none"/>
<path d="M270.7 859.3H512V1039.7" stroke="#888" stroke-width="0.9" fill="none"/>
<path d="M270.7 859.3V1039.7H512" stroke="#999" stroke-width="0.9" fill="none"/>
<path d="M512 859.3V1039.7" stroke="#555" stroke-width="0.9" fill="none"/>
<path d="M338.6 1025V955.3H503.2" stroke="#777" stroke-width="1.0" fill="none"/>
<path d="M503.2 955.3V1025" stroke="#444" stroke-width="1.0" fill="none"/>
<text transform="translate(341 963) scale(0.8 1)" font-family='"Liberation Sans", Arial, sans-serif' font-size="7" font-weight="normal" text-anchor="start" fill="#222">R10</text>
<path d="M270.7 1039.7v3M331 1039.7v3M391.4 1039.7v3M451.7 1039.7v3M512 1039.7v3M270.7 1039.7h-3M270.7 994.6h-3M270.7 949.5h-3M270.7 904.4h-3M270.7 859.3h-3" stroke="#777" stroke-width="0.8" fill="none"/>
<text transform="translate(270.2 1051.2) scale(0.68 1)" font-family='"Liberation Sans", Arial, sans-serif' font-size="8" text-anchor="middle" fill="#161616">10<tspan font-size="5" dy="-2.4">0</tspan></text>
<text transform="translate(330.5 1051.2) scale(0.68 1)" font-family='"Liberation Sans", Arial, sans-serif' font-size="8" text-anchor="middle" fill="#161616">10<tspan font-size="5" dy="-2.4">1</tspan></text>
<text transform="translate(390.9 1051.2) scale(0.68 1)" font-family='"Liberation Sans", Arial, sans-serif' font-size="8" text-anchor="middle" fill="#161616">10<tspan font-size="5" dy="-2.4">2</tspan></text>
<text transform="translate(451.2 1051.2) scale(0.68 1)" font-family='"Liberation Sans", Arial, sans-serif' font-size="8" text-anchor="middle" fill="#161616">10<tspan font-size="5" dy="-2.4">3</tspan></text>
<text transform="translate(511.5 1051.2) scale(0.68 1)" font-family='"Liberation Sans", Arial, sans-serif' font-size="8" text-anchor="middle" fill="#161616">10<tspan font-size="5" dy="-2.4">4</tspan></text>
<text transform="translate(267.7 1042.5) scale(0.72 1)" font-family='"Liberation Sans", Arial, sans-serif' font-size="8.5" font-weight="normal" text-anchor="end" fill="#222">0</text>
<text transform="translate(267.7 997.4) scale(0.72 1)" font-family='"Liberation Sans", Arial, sans-serif' font-size="8.5" font-weight="normal" text-anchor="end" fill="#222">342</text>
<text transform="translate(267.7 952.3) scale(0.72 1)" font-family='"Liberation Sans", Arial, sans-serif' font-size="8.5" font-weight="normal" text-anchor="end" fill="#222">684</text>
<text transform="translate(267.7 907.2) scale(0.72 1)" font-family='"Liberation Sans", Arial, sans-serif' font-size="8.5" font-weight="normal" text-anchor="end" fill="#222">1026</text>
<text transform="translate(267.7 862.1) scale(0.72 1)" font-family='"Liberation Sans", Arial, sans-serif' font-size="8.5" font-weight="normal" text-anchor="end" fill="#222">1368</text>
<text x="290.8" y="890" font-family='"Liberation Serif", "Times New Roman", serif' font-size="15.9" font-weight="bold" text-anchor="start" fill="#000">G=R1</text>
<text x="462" y="975.5" font-family='"Liberation Serif", "Times New Roman", serif' font-size="16.4" font-weight="bold" text-anchor="start" fill="#000">0.1%</text>
<path d="M270.8 1287.8L270.8 1287.8h1L271.8 1287.8h1L272.8 1287.8h1L273.8 1285.5h1L274.8 1282.6h1L275.8 1282.6h1L276.8 1277.4h1L277.8 1282.6h1L278.8 1285.5h1L279.8 1287.8h1L280.8 1285.5h1L281.8 1282.6h1L282.8 1285.5h1L283.8 1285.5h1L284.8 1282.6h1L285.8 1285.5h1L286.8 1282.6h1L287.8 1282.6h1L288.8 1277.4h1L289.8 1282.6h1L290.8 1285.5h1L291.8 1283.1h1L292.8 1277.4h1L293.8 1282.6h1L294.8 1282.6h1L295.8 1282.6h1L296.8 1285.5h1L297.8 1283.1h1L298.8 1277.4h1L299.8 1277.4h1L300.8 1282.6h1L301.8 1285.5h1L302.8 1287.8h1L303.8 1287.8h1L304.8 1287.8h1L305.8 1287.8h1L306.8 1285.5h1L307.8 1282.6h1L308.8 1282.6h1L309.8 1283.1h1L310.8 1277.4h1L311.8 1282.6h1L312.8 1277.4h1L313.8 1282.6h1L314.8 1282.6h1L315.8 1282.6h1L316.8 1285.5h1L317.8 1287.8h1L318.8 1287.8h1L319.8 1287.8h1L320.8 1280.8h1L321.8 1272.2h1L322.8 1280.8h1L323.8 1277.4h1L324.8 1283.1h1L325.8 1282.6h1L326.8 1277.4h1L327.8 1283.1h1L328.8 1282.6h1L329.8 1285.5h1L330.8 1287.8h1L331.9 1285.5h1L332.9 1282.6h1L333.9 1277.4h1L334.9 1283.1h1L335.9 1287.8h1L336.9 1287.8h1L337.9 1287.8h1L338.9 1287.8h1L339.9 1285.5h1L340.9 1282.6h1L341.9 1285.5h1L342.9 1280.8h1L343.9 1272.2h1L344.9 1280.8h1L345.9 1277.4h1L346.9 1282.6h1L347.9 1282.6h1L348.9 1282.6h1L349.9 1285.5h1L350.9 1282.6h1L351.9 1285.5h1L352.9 1285.5h1L353.9 1278.4h1L354.9 1267h1L355.9 1278.4h1L356.9 1285.5h1L357.9 1287.8h1L358.9 1287.8h1L359.9 1287.8h1L360.9 1287.8h1L361.9 1285.5h1L362.9 1282.6h1L363.9 1285.5h1L364.9 1282.6h1L365.9 1282.6h1L366.9 1282.6h1L367.9 1285.5h1L368.9 1287.8h1L369.9 1285.5h1L370.9 1282.6h1L371.9 1282.6h1L372.9 1283.1h1L373.9 1277.4h1L374.9 1282.6h1L375.9 1277.4h1L376.9 1267h1L377.9 1277.4h1L378.9 1277.4h1L379.9 1283.1h1L380.9 1287.8h1L381.9 1285.5h1L382.9 1282.6h1L383.9 1285.5h1L384.9 1287.8h1L385.9 1287.8h1L386.9 1287.8h1L387.9 1287.8h1L388.9 1283.1h1L389.9 1277.4h1L390.9 1283.1h1L391.9 1287.8h1L392.9 1287.8h1L393.9 1287.8h1L394.9 1287.8h1L395.9 1287.8h1L396.9 1287.8h1L397.9 1287.8h1L398.9 1287.8h1L399.9 1287.8h1L400.9 1287.8h1L401.9 1287.8h1L402.9 1287.8h1L403.9 1287.8h1L404.9 1287.8h1L405.9 1287.8h1L406.9 1287.8h1L407.9 1287.8h1L408.9 1287.8h1L409.9 1287.8h1L410.9 1287.8h1L411.9 1287.8h1L412.9 1287.8h1L413.9 1287.8h1L414.9 1287.8h1L415.9 1285.5h1L416.9 1282.6h1L417.9 1285.5h1L418.9 1287.8h1L419.9 1287.8h1L420.9 1287.8h1L421.9 1287.8h1L422.9 1287.8h1L423.9 1287.8h1L424.9 1287.8h1L425.9 1287.8h1L426.9 1287.8h1L427.9 1287.8h1L428.9 1287.8h1L429.9 1287.8h1L430.9 1287.8h1L431.9 1287.8h1L432.9 1287.8h1L433.9 1287.8h1L434.9 1287.8h1L435.9 1287.8h1L436.9 1287.8h1L437.9 1287.8h1L438.9 1287.8h1L439.9 1287.8h1L440.9 1287.8h1L441.9 1287.8h1L442.9 1287.8h1L443.9 1287.8h1L444.9 1287.8h1L445.9 1287.8h1L446.9 1287.8h1L447.9 1287.8h1L448.9 1287.8h1L449.9 1287.8h1L450.9 1287.8h1L452 1287.8h1L453 1285.5h1L454 1282.6h1L455 1285.5h1L456 1287.8h1L457 1287.8h1L458 1287.8h1L459 1285.5h1L460 1282.6h1L461 1285.5h1L462 1287.8h1L463 1287.8h1L464 1287.8h1L465 1287.8h1L466 1287.8h1L467 1287.8h1L468 1287.8h1L469 1287.8h1L470 1287.8h1L471 1287.8h1L472 1287.8h1L473 1287.8h1L474 1287.8h1L475 1287.8h1L476 1287.8h1L477 1287.8h1L478 1287.8h1L479 1287.8h1L480 1287.8h1L481 1287.8h1L482 1287.8h1L483 1287.8h1L484 1287.8h1L485 1287.8h1L486 1287.8h1L487 1287.8h1L488 1287.8h1L489 1287.8h1L490 1287.8h1L491 1287.8h1L492 1287.8h1L493 1287.8h1L494 1287.8h1L495 1287.8h1L496 1287.8h1L497 1287.8h1L498 1287.8h1L499 1287.8h1L500 1287.8h1L501 1287.8h1L502 1287.8h1L503 1287.8h1L504 1287.8h1L505 1287.8h1L506 1287.8h1L507 1287.8h1L508 1287.8h1L509 1287.8h1L510 1287.8h1L511 1287.8h1L512 1287.8h1L512 1287.8Z" fill="#6c6c6c" stroke="none"/>
<path d="M270.8 1106H512V1287.8" stroke="#5a5a5a" stroke-width="0.9" fill="none"/>
<path d="M270.8 1106V1287.8H512" stroke="#666" stroke-width="0.9" fill="none"/>
<path d="M512 1106V1287.8" stroke="#a0a0a0" stroke-width="0.9" fill="none"/>
<path d="M270.8 1287.8V1242.8" stroke="#3c3c3c" stroke-width="1.4" fill="none"/>
<path d="M338.5 1273.5V1202H503.2" stroke="#8c8c8c" stroke-width="1.0" fill="none"/>
<path d="M503.2 1202V1273.5" stroke="#8c8c8c" stroke-width="1.0" fill="none"/>
<text transform="translate(341 1209.5) scale(0.8 1)" font-family='"Liberation Sans", Arial, sans-serif' font-size="7" font-weight="normal" text-anchor="start" fill="#222">R10</text>
<path d="M270.8 1287.8v3M331.1 1287.8v3M391.4 1287.8v3M451.7 1287.8v3M512 1287.8v3M270.8 1287.8h-3M270.8 1242.3h-3M270.8 1196.9h-3M270.8 1151.5h-3M270.8 1106h-3" stroke="#777" stroke-width="0.8" fill="none"/>
<text transform="translate(270.3 1299.3) scale(0.68 1)" font-family='"Liberation Sans", Arial, sans-serif' font-size="8" text-anchor="middle" fill="#161616">10<tspan font-size="5" dy="-2.4">0</tspan></text>
<text transform="translate(330.6 1299.3) scale(0.68 1)" font-family='"Liberation Sans", Arial, sans-serif' font-size="8" text-anchor="middle" fill="#161616">10<tspan font-size="5" dy="-2.4">1</tspan></text>
<text transform="translate(390.9 1299.3) scale(0.68 1)" font-family='"Liberation Sans", Arial, sans-serif' font-size="8" text-anchor="middle" fill="#161616">10<tspan font-size="5" dy="-2.4">2</tspan></text>
<text transform="translate(451.2 1299.3) scale(0.68 1)" font-family='"Liberation Sans", Arial, sans-serif' font-size="8" text-anchor="middle" fill="#161616">10<tspan font-size="5" dy="-2.4">3</tspan></text>
<text transform="translate(511.5 1299.3) scale(0.68 1)" font-family='"Liberation Sans", Arial, sans-serif' font-size="8" text-anchor="middle" fill="#161616">10<tspan font-size="5" dy="-2.4">4</tspan></text>
<text transform="translate(267.8 1290.6) scale(0.72 1)" font-family='"Liberation Sans", Arial, sans-serif' font-size="8.5" font-weight="normal" text-anchor="end" fill="#222">0</text>
<text transform="translate(267.8 1245.1) scale(0.72 1)" font-family='"Liberation Sans", Arial, sans-serif' font-size="8.5" font-weight="normal" text-anchor="end" fill="#222">8</text>
<text transform="translate(267.8 1199.7) scale(0.72 1)" font-family='"Liberation Sans", Arial, sans-serif' font-size="8.5" font-weight="normal" text-anchor="end" fill="#222">17</text>
<text transform="translate(267.8 1154.2) scale(0.72 1)" font-family='"Liberation Sans", Arial, sans-serif' font-size="8.5" font-weight="normal" text-anchor="end" fill="#222">26</text>
<text transform="translate(267.8 1108.8) scale(0.72 1)" font-family='"Liberation Sans", Arial, sans-serif' font-size="8.5" font-weight="normal" text-anchor="end" fill="#222">35</text>
<text x="287.2" y="1135.2" font-family='"Liberation Serif", "Times New Roman", serif' font-size="15.9" font-weight="bold" text-anchor="start" fill="#000">G=R3</text>
<text x="466.5" y="1221.8" font-family='"Liberation Serif", "Times New Roman", serif' font-size="16.4" font-weight="bold" text-anchor="start" fill="#000">37%</text>
<path d="M270.7 1532.7L270.7 1532.7h1L271.7 1532.7h1L272.7 1532.7h1L273.7 1532.7h1L274.7 1532.7h1L275.7 1532.7h1L276.7 1530.4h1L277.7 1527.6h1L278.7 1530.4h1L279.7 1532.7h1L280.7 1532.7h1L281.7 1532.7h1L282.7 1532.7h1L283.7 1532.7h1L284.7 1532.7h1L285.7 1532.7h1L286.7 1532.7h1L287.7 1532.7h1L288.7 1532.7h1L289.7 1532.7h1L290.7 1528.1h1L291.7 1522.5h1L292.7 1528.1h1L293.7 1532.7h1L294.7 1530.4h1L295.7 1527.6h1L296.7 1530.4h1L297.7 1532.7h1L298.7 1532.7h1L299.7 1532.7h1L300.7 1532.7h1L301.7 1532.7h1L302.7 1532.7h1L303.7 1532.7h1L304.7 1532.7h1L305.7 1530.4h1L306.7 1527.6h1L307.7 1530.4h1L308.7 1532.7h1L309.7 1532.7h1L310.7 1530.4h1L311.8 1527.6h1L312.8 1530.4h1L313.8 1527.6h1L314.8 1530.4h1L315.8 1532.7h1L316.8 1532.7h1L317.8 1532.7h1L318.8 1532.7h1L319.8 1532.7h1L320.8 1532.7h1L321.8 1532.7h1L322.8 1530.4h1L323.8 1527.6h1L324.8 1530.4h1L325.8 1532.7h1L326.8 1532.7h1L327.8 1532.7h1L328.8 1532.7h1L329.8 1532.7h1L330.8 1532.7h1L331.8 1532.7h1L332.8 1532.7h1L333.8 1532.7h1L334.8 1532.7h1L335.8 1532.7h1L336.8 1532.7h1L337.8 1532.7h1L338.8 1532.7h1L339.8 1532.7h1L340.8 1532.7h1L341.8 1532.7h1L342.8 1532.7h1L343.8 1532.7h1L344.8 1532.7h1L345.8 1532.7h1L346.8 1532.7h1L347.8 1532.7h1L348.8 1532.7h1L349.8 1532.7h1L350.8 1532.7h1L351.8 1532.7h1L352.8 1530.4h1L353.8 1527.6h1L354.8 1527.6h1L355.8 1530.4h1L356.8 1527.6h1L357.8 1527.6h1L358.8 1528.1h1L359.8 1522.5h1L360.8 1527.6h1L361.8 1530.4h1L362.8 1527.6h1L363.8 1528.1h1L364.8 1522.5h1L365.8 1522.5h1L366.8 1527.6h1L367.8 1530.4h1L368.8 1527.6h1L369.8 1522.5h1L370.8 1527.6h1L371.8 1530.4h1L372.8 1532.7h1L373.8 1532.7h1L374.8 1532.7h1L375.8 1532.7h1L376.8 1532.7h1L377.8 1530.4h1L378.8 1527.6h1L379.8 1527.6h1L380.8 1530.4h1L381.8 1527.6h1L382.8 1530.4h1L383.8 1527.6h1L384.8 1530.4h1L385.8 1530.4h1L386.8 1527.6h1L387.8 1530.4h1L388.8 1527.6h1L389.8 1522.5h1L390.8 1528.1h1L391.8 1532.7h1L392.9 1532.7h1L393.9 1530.4h1L394.9 1527.6h1L395.9 1530.4h1L396.9 1532.7h1L397.9 1530.4h1L398.9 1527.6h1L399.9 1530.4h1L400.9 1532.7h1L401.9 1528.1h1L402.9 1522.5h1L403.9 1528.1h1L404.9 1527.6h1L405.9 1530.4h1L406.9 1532.7h1L407.9 1532.7h1L408.9 1532.7h1L409.9 1532.7h1L410.9 1532.7h1L411.9 1532.7h1L412.9 1532.7h1L413.9 1532.7h1L414.9 1532.7h1L415.9 1532.7h1L416.9 1532.7h1L417.9 1532.7h1L418.9 1532.7h1L419.9 1532.7h1L420.9 1532.7h1L421.9 1532.7h1L422.9 1532.7h1L423.9 1532.7h1L424.9 1532.7h1L425.9 1532.7h1L426.9 1532.7h1L427.9 1532.7h1L428.9 1530.4h1L429.9 1527.6h1L430.9 1530.4h1L431.9 1532.7h1L432.9 1532.7h1L433.9 1532.7h1L434.9 1532.7h1L435.9 1532.7h1L436.9 1532.7h1L437.9 1532.7h1L438.9 1532.7h1L439.9 1532.7h1L440.9 1532.7h1L441.9 1532.7h1L442.9 1532.7h1L443.9 1532.7h1L444.9 1532.7h1L445.9 1532.7h1L446.9 1532.7h1L447.9 1532.7h1L448.9 1532.7h1L449.9 1532.7h1L450.9 1532.7h1L451.9 1532.7h1L452.9 1532.7h1L453.9 1532.7h1L454.9 1532.7h1L455.9 1532.7h1L456.9 1532.7h1L457.9 1532.7h1L458.9 1532.7h1L459.9 1530.4h1L460.9 1527.6h1L461.9 1530.4h1L462.9 1532.7h1L463.9 1532.7h1L464.9 1532.7h1L465.9 1532.7h1L466.9 1532.7h1L467.9 1532.7h1L468.9 1532.7h1L469.9 1532.7h1L470.9 1532.7h1L471.9 1532.7h1L472.9 1532.7h1L473.9 1532.7h1L475 1532.7h1L476 1532.7h1L477 1532.7h1L478 1532.7h1L479 1532.7h1L480 1532.7h1L481 1532.7h1L482 1532.7h1L483 1532.7h1L484 1532.7h1L485 1532.7h1L486 1532.7h1L487 1532.7h1L488 1532.7h1L489 1532.7h1L490 1532.7h1L491 1532.7h1L492 1532.7h1L493 1532.7h1L494 1532.7h1L495 1532.7h1L496 1532.7h1L497 1532.7h1L498 1532.7h1L499 1532.7h1L500 1532.7h1L501 1532.7h1L502 1532.7h1L503 1532.7h1L504 1532.7h1L505 1532.7h1L506 1530.4h1L507 1527.6h1L508 1530.4h1L509 1532.7h1L510 1532.7h1L511 1532.7h1L512 1532.7h1L513 1532.7h1L514 1532.7h1L515 1532.7h1L515 1532.7Z" fill="#6c6c6c" stroke="none"/>
<path d="M270.7 1352.7H515V1532.7" stroke="#a8a8a8" stroke-width="0.9" fill="none"/>
<path d="M270.7 1352.7V1532.7H515" stroke="#999" stroke-width="0.9" fill="none"/>
<path d="M338.8 1519V1448H506.8" stroke="#3c3c3c" stroke-width="1.3" fill="none"/>
<path d="M506.8 1448V1519" stroke="#8a8a8a" stroke-width="1.3" fill="none"/>
<text transform="translate(341.5 1456) scale(0.8 1)" font-family='"Liberation Sans", Arial, sans-serif' font-size="7" font-weight="normal" text-anchor="start" fill="#222">R10</text>
<path d="M270.7 1532.7v3M331.8 1532.7v3M392.9 1532.7v3M453.9 1532.7v3M515 1532.7v3M270.7 1532.7h-3M270.7 1487.7h-3M270.7 1442.7h-3M270.7 1397.7h-3M270.7 1352.7h-3" stroke="#777" stroke-width="0.8" fill="none"/>
<text transform="translate(270.2 1544.2) scale(0.68 1)" font-family='"Liberation Sans", Arial, sans-serif' font-size="8" text-anchor="middle" fill="#161616">10<tspan font-size="5" dy="-2.4">0</tspan></text>
<text transform="translate(331.3 1544.2) scale(0.68 1)" font-family='"Liberation Sans", Arial, sans-serif' font-size="8" text-anchor="middle" fill="#161616">10<tspan font-size="5" dy="-2.4">1</tspan></text>
<text transform="translate(392.4 1544.2) scale(0.68 1)" font-family='"Liberation Sans", Arial, sans-serif' font-size="8" text-anchor="middle" fill="#161616">10<tspan font-size="5" dy="-2.4">2</tspan></text>
<text transform="translate(453.4 1544.2) scale(0.68 1)" font-family='"Liberation Sans", Arial, sans-serif' font-size="8" text-anchor="middle" fill="#161616">10<tspan font-size="5" dy="-2.4">3</tspan></text>
<text transform="translate(514.5 1544.2) scale(0.68 1)" font-family='"Liberation Sans", Arial, sans-serif' font-size="8" text-anchor="middle" fill="#161616">10<tspan font-size="5" dy="-2.4">4</tspan></text>
<text transform="translate(267.7 1535.5) scale(0.72 1)" font-family='"Liberation Sans", Arial, sans-serif' font-size="8.5" font-weight="normal" text-anchor="end" fill="#222">0</text>
<text transform="translate(267.7 1490.5) scale(0.72 1)" font-family='"Liberation Sans", Arial, sans-serif' font-size="8.5" font-weight="normal" text-anchor="end" fill="#222">8</text>
<text transform="translate(267.7 1445.5) scale(0.72 1)" font-family='"Liberation Sans", Arial, sans-serif' font-size="8.5" font-weight="normal" text-anchor="end" fill="#222">17</text>
<text transform="translate(267.7 1400.5) scale(0.72 1)" font-family='"Liberation Sans", Arial, sans-serif' font-size="8.5" font-weight="normal" text-anchor="end" fill="#222">26</text>
<text transform="translate(267.7 1355.5) scale(0.72 1)" font-family='"Liberation Sans", Arial, sans-serif' font-size="8.5" font-weight="normal" text-anchor="end" fill="#222">35</text>
<text x="285.5" y="1383" font-family='"Liberation Serif", "Times New Roman", serif' font-size="15.9" font-weight="bold" text-anchor="start" fill="#000">G=R3</text>
<text x="466.5" y="1467.2" font-family='"Liberation Serif", "Times New Roman", serif' font-size="16.4" font-weight="bold" text-anchor="start" fill="#000">74%</text>
</svg></body></html>
